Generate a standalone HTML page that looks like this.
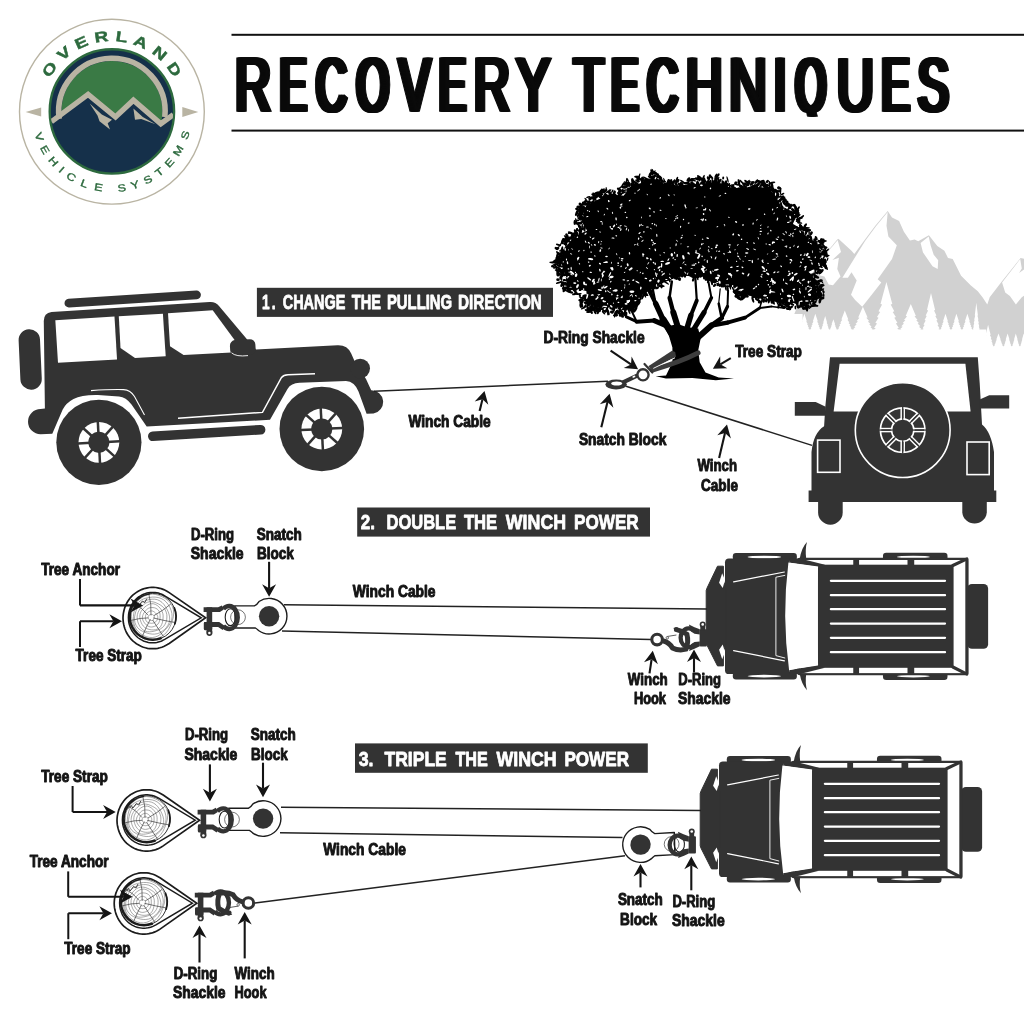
<!DOCTYPE html>
<html><head><meta charset="utf-8"><title>Recovery Techniques</title>
<style>
html,body{margin:0;padding:0;background:#fff;}
body{width:1024px;height:1024px;overflow:hidden;font-family:"Liberation Sans",sans-serif;}
svg{display:block;will-change:transform;font-family:"Liberation Sans",sans-serif;}
</style></head><body>
<svg width="1024" height="1024" viewBox="0 0 1024 1024">
<rect width="1024" height="1024" fill="#fff"/>
<g id="logo">
<circle cx="111.9" cy="111.7" r="92.4" fill="#fff" stroke="#b9b4a3" stroke-width="1.4"/>
<circle cx="111.9" cy="111.4" r="62.2" fill="#15304a" stroke="#2d6a3e" stroke-width="2.4"/>
<clipPath id="discclip"><circle cx="111.9" cy="111.4" r="61.3"/></clipPath>
<clipPath id="domeclip"><circle cx="111.9" cy="111.4" r="50.5"/></clipPath>
<polygon points="51.4,121.7 88.1,94.4 115.5,117.0 133.4,100.2 160.8,123.7 173.3,114.7 181.9,41.400000000000006 41.900000000000006,41.400000000000006" fill="#3a7a45" clip-path="url(#domeclip)"/>
<path d="M59.2,118.8 A53.2,53.2 0 1 1 164.8,117.0" fill="none" stroke="#b9b4a3" stroke-width="5.6"/>
<polyline points="51.4,121.7 88.1,94.4 115.5,117.0 133.4,100.2 160.8,123.7 173.3,114.7" fill="none" stroke="#b9b4a3" stroke-width="5.4" stroke-linejoin="miter" clip-path="url(#discclip)"/>
<polygon points="89.7,103.4 101.8,114.5 112.0,119.8 107.7,123.3 110.0,129.5 99.5,121.3 97.5,115.5" fill="#b9b4a3"/>
<polygon points="133.4,108.6 142.8,117.0 155.5,124.3 141.2,119.0 135.0,119.8" fill="#b9b4a3"/>
<polygon points="25.6,112.0 41.2,107.5 41.2,116.6" fill="#b9b4a3"/>
<polygon points="198.3,112.0 182.3,107.1 182.3,117.0" fill="#b9b4a3"/>
<text transform="translate(53.70,72.14) rotate(-56) scale(1.3,1)" font-size="14.6" font-weight="bold" fill="#2d6a3e" stroke="#2d6a3e" stroke-width="0.45" text-anchor="middle">O</text>
<text transform="translate(67.25,57.23) rotate(-39.5) scale(1.3,1)" font-size="14.6" font-weight="bold" fill="#2d6a3e" stroke="#2d6a3e" stroke-width="0.45" text-anchor="middle">V</text>
<text transform="translate(83.35,47.27) rotate(-24) scale(1.3,1)" font-size="14.6" font-weight="bold" fill="#2d6a3e" stroke="#2d6a3e" stroke-width="0.45" text-anchor="middle">E</text>
<text transform="translate(102.13,41.88) rotate(-8) scale(1.3,1)" font-size="14.6" font-weight="bold" fill="#2d6a3e" stroke="#2d6a3e" stroke-width="0.45" text-anchor="middle">R</text>
<text transform="translate(121.06,41.80) rotate(7.5) scale(1.3,1)" font-size="14.6" font-weight="bold" fill="#2d6a3e" stroke="#2d6a3e" stroke-width="0.45" text-anchor="middle">L</text>
<text transform="translate(138.76,46.54) rotate(22.5) scale(1.3,1)" font-size="14.6" font-weight="bold" fill="#2d6a3e" stroke="#2d6a3e" stroke-width="0.45" text-anchor="middle">A</text>
<text transform="translate(156.55,57.23) rotate(39.5) scale(1.3,1)" font-size="14.6" font-weight="bold" fill="#2d6a3e" stroke="#2d6a3e" stroke-width="0.45" text-anchor="middle">N</text>
<text transform="translate(170.10,72.14) rotate(56) scale(1.3,1)" font-size="14.6" font-weight="bold" fill="#2d6a3e" stroke="#2d6a3e" stroke-width="0.45" text-anchor="middle">D</text>
<text transform="translate(35.83,138.04) rotate(70.7) scale(1.25,1)" font-size="10.2" font-weight="normal" stroke="#2d6a3e" stroke-width="0.35" fill="#2d6a3e" text-anchor="middle">V</text>
<text transform="translate(41.89,151.33) rotate(60.3) scale(1.25,1)" font-size="10.2" font-weight="normal" stroke="#2d6a3e" stroke-width="0.35" fill="#2d6a3e" text-anchor="middle">E</text>
<text transform="translate(50.61,163.75) rotate(49.5) scale(1.25,1)" font-size="10.2" font-weight="normal" stroke="#2d6a3e" stroke-width="0.35" fill="#2d6a3e" text-anchor="middle">H</text>
<text transform="translate(59.23,172.41) rotate(40.8) scale(1.25,1)" font-size="10.2" font-weight="normal" stroke="#2d6a3e" stroke-width="0.35" fill="#2d6a3e" text-anchor="middle">I</text>
<text transform="translate(69.31,179.83) rotate(31.9) scale(1.25,1)" font-size="10.2" font-weight="normal" stroke="#2d6a3e" stroke-width="0.35" fill="#2d6a3e" text-anchor="middle">C</text>
<text transform="translate(83.02,186.65) rotate(21.0) scale(1.25,1)" font-size="10.2" font-weight="normal" stroke="#2d6a3e" stroke-width="0.35" fill="#2d6a3e" text-anchor="middle">L</text>
<text transform="translate(97.90,190.78) rotate(10.0) scale(1.25,1)" font-size="10.2" font-weight="normal" stroke="#2d6a3e" stroke-width="0.35" fill="#2d6a3e" text-anchor="middle">E</text>
<text transform="translate(122.28,191.33) rotate(-7.4) scale(1.25,1)" font-size="10.2" font-weight="normal" stroke="#2d6a3e" stroke-width="0.35" fill="#2d6a3e" text-anchor="middle">S</text>
<text transform="translate(136.00,188.31) rotate(-17.4) scale(1.25,1)" font-size="10.2" font-weight="normal" stroke="#2d6a3e" stroke-width="0.35" fill="#2d6a3e" text-anchor="middle">Y</text>
<text transform="translate(149.49,182.70) rotate(-27.8) scale(1.25,1)" font-size="10.2" font-weight="normal" stroke="#2d6a3e" stroke-width="0.35" fill="#2d6a3e" text-anchor="middle">S</text>
<text transform="translate(161.63,174.83) rotate(-38.1) scale(1.25,1)" font-size="10.2" font-weight="normal" stroke="#2d6a3e" stroke-width="0.35" fill="#2d6a3e" text-anchor="middle">T</text>
<text transform="translate(172.08,165.02) rotate(-48.3) scale(1.25,1)" font-size="10.2" font-weight="normal" stroke="#2d6a3e" stroke-width="0.35" fill="#2d6a3e" text-anchor="middle">E</text>
<text transform="translate(181.28,152.43) rotate(-59.4) scale(1.25,1)" font-size="10.2" font-weight="normal" stroke="#2d6a3e" stroke-width="0.35" fill="#2d6a3e" text-anchor="middle">M</text>
<text transform="translate(188.56,136.31) rotate(-72.0) scale(1.25,1)" font-size="10.2" font-weight="normal" stroke="#2d6a3e" stroke-width="0.35" fill="#2d6a3e" text-anchor="middle">S</text>
</g>
<rect x="231.5" y="33.8" width="800" height="2" fill="#111"/>
<rect x="231.5" y="129.6" width="800" height="2" fill="#111"/>
<clipPath id="titleclip"><rect x="220" y="40" width="804" height="76.5"/></clipPath>
<g id="title" clip-path="url(#titleclip)"><text transform="translate(232.75,111.00) scale(0.6525,1)" font-size="76.16" font-weight="normal" fill="#0a0a0a" stroke="#0a0a0a" stroke-width="1.6" stroke-linejoin="miter">R</text><text transform="translate(233.68,111.00) scale(0.6525,1)" font-size="76.16" font-weight="normal" fill="#0a0a0a" stroke="#0a0a0a" stroke-width="1.6" stroke-linejoin="miter">R</text><text transform="translate(234.62,111.00) scale(0.6525,1)" font-size="76.16" font-weight="normal" fill="#0a0a0a" stroke="#0a0a0a" stroke-width="1.6" stroke-linejoin="miter">R</text><text transform="translate(235.56,111.00) scale(0.6525,1)" font-size="76.16" font-weight="normal" fill="#0a0a0a" stroke="#0a0a0a" stroke-width="1.6" stroke-linejoin="miter">R</text><text transform="translate(236.49,111.00) scale(0.6525,1)" font-size="76.16" font-weight="normal" fill="#0a0a0a" stroke="#0a0a0a" stroke-width="1.6" stroke-linejoin="miter">R</text><text transform="translate(237.43,111.00) scale(0.6525,1)" font-size="76.16" font-weight="normal" fill="#0a0a0a" stroke="#0a0a0a" stroke-width="1.6" stroke-linejoin="miter">R</text><text transform="translate(276.96,111.00) scale(0.5217,1)" font-size="76.16" font-weight="normal" fill="#0a0a0a" stroke="#0a0a0a" stroke-width="1.6" stroke-linejoin="miter">E</text><text transform="translate(277.93,111.00) scale(0.5217,1)" font-size="76.16" font-weight="normal" fill="#0a0a0a" stroke="#0a0a0a" stroke-width="1.6" stroke-linejoin="miter">E</text><text transform="translate(278.90,111.00) scale(0.5217,1)" font-size="76.16" font-weight="normal" fill="#0a0a0a" stroke="#0a0a0a" stroke-width="1.6" stroke-linejoin="miter">E</text><text transform="translate(279.87,111.00) scale(0.5217,1)" font-size="76.16" font-weight="normal" fill="#0a0a0a" stroke="#0a0a0a" stroke-width="1.6" stroke-linejoin="miter">E</text><text transform="translate(280.85,111.00) scale(0.5217,1)" font-size="76.16" font-weight="normal" fill="#0a0a0a" stroke="#0a0a0a" stroke-width="1.6" stroke-linejoin="miter">E</text><text transform="translate(281.82,111.00) scale(0.5217,1)" font-size="76.16" font-weight="normal" fill="#0a0a0a" stroke="#0a0a0a" stroke-width="1.6" stroke-linejoin="miter">E</text><text transform="translate(282.79,111.00) scale(0.5217,1)" font-size="76.16" font-weight="normal" fill="#0a0a0a" stroke="#0a0a0a" stroke-width="1.6" stroke-linejoin="miter">E</text><text transform="translate(313.29,111.00) scale(0.5554,1)" font-size="76.16" font-weight="normal" fill="#0a0a0a" stroke="#0a0a0a" stroke-width="1.6" stroke-linejoin="miter">C</text><text transform="translate(314.21,111.00) scale(0.5554,1)" font-size="76.16" font-weight="normal" fill="#0a0a0a" stroke="#0a0a0a" stroke-width="1.6" stroke-linejoin="miter">C</text><text transform="translate(315.13,111.00) scale(0.5554,1)" font-size="76.16" font-weight="normal" fill="#0a0a0a" stroke="#0a0a0a" stroke-width="1.6" stroke-linejoin="miter">C</text><text transform="translate(316.05,111.00) scale(0.5554,1)" font-size="76.16" font-weight="normal" fill="#0a0a0a" stroke="#0a0a0a" stroke-width="1.6" stroke-linejoin="miter">C</text><text transform="translate(316.98,111.00) scale(0.5554,1)" font-size="76.16" font-weight="normal" fill="#0a0a0a" stroke="#0a0a0a" stroke-width="1.6" stroke-linejoin="miter">C</text><text transform="translate(317.90,111.00) scale(0.5554,1)" font-size="76.16" font-weight="normal" fill="#0a0a0a" stroke="#0a0a0a" stroke-width="1.6" stroke-linejoin="miter">C</text><text transform="translate(318.82,111.00) scale(0.5554,1)" font-size="76.16" font-weight="normal" fill="#0a0a0a" stroke="#0a0a0a" stroke-width="1.6" stroke-linejoin="miter">C</text><text transform="translate(353.78,111.00) scale(0.5461,1)" font-size="76.16" font-weight="normal" fill="#0a0a0a" stroke="#0a0a0a" stroke-width="1.6" stroke-linejoin="miter">O</text><text transform="translate(354.72,111.00) scale(0.5461,1)" font-size="76.16" font-weight="normal" fill="#0a0a0a" stroke="#0a0a0a" stroke-width="1.6" stroke-linejoin="miter">O</text><text transform="translate(355.65,111.00) scale(0.5461,1)" font-size="76.16" font-weight="normal" fill="#0a0a0a" stroke="#0a0a0a" stroke-width="1.6" stroke-linejoin="miter">O</text><text transform="translate(356.59,111.00) scale(0.5461,1)" font-size="76.16" font-weight="normal" fill="#0a0a0a" stroke="#0a0a0a" stroke-width="1.6" stroke-linejoin="miter">O</text><text transform="translate(357.53,111.00) scale(0.5461,1)" font-size="76.16" font-weight="normal" fill="#0a0a0a" stroke="#0a0a0a" stroke-width="1.6" stroke-linejoin="miter">O</text><text transform="translate(358.46,111.00) scale(0.5461,1)" font-size="76.16" font-weight="normal" fill="#0a0a0a" stroke="#0a0a0a" stroke-width="1.6" stroke-linejoin="miter">O</text><text transform="translate(359.40,111.00) scale(0.5461,1)" font-size="76.16" font-weight="normal" fill="#0a0a0a" stroke="#0a0a0a" stroke-width="1.6" stroke-linejoin="miter">O</text><text transform="translate(396.56,111.00) scale(0.6180,1)" font-size="76.16" font-weight="normal" fill="#0a0a0a" stroke="#0a0a0a" stroke-width="1.6" stroke-linejoin="miter">V</text><text transform="translate(397.56,111.00) scale(0.6180,1)" font-size="76.16" font-weight="normal" fill="#0a0a0a" stroke="#0a0a0a" stroke-width="1.6" stroke-linejoin="miter">V</text><text transform="translate(398.55,111.00) scale(0.6180,1)" font-size="76.16" font-weight="normal" fill="#0a0a0a" stroke="#0a0a0a" stroke-width="1.6" stroke-linejoin="miter">V</text><text transform="translate(399.55,111.00) scale(0.6180,1)" font-size="76.16" font-weight="normal" fill="#0a0a0a" stroke="#0a0a0a" stroke-width="1.6" stroke-linejoin="miter">V</text><text transform="translate(400.55,111.00) scale(0.6180,1)" font-size="76.16" font-weight="normal" fill="#0a0a0a" stroke="#0a0a0a" stroke-width="1.6" stroke-linejoin="miter">V</text><text transform="translate(401.55,111.00) scale(0.6180,1)" font-size="76.16" font-weight="normal" fill="#0a0a0a" stroke="#0a0a0a" stroke-width="1.6" stroke-linejoin="miter">V</text><text transform="translate(436.16,111.00) scale(0.5217,1)" font-size="76.16" font-weight="normal" fill="#0a0a0a" stroke="#0a0a0a" stroke-width="1.6" stroke-linejoin="miter">E</text><text transform="translate(437.13,111.00) scale(0.5217,1)" font-size="76.16" font-weight="normal" fill="#0a0a0a" stroke="#0a0a0a" stroke-width="1.6" stroke-linejoin="miter">E</text><text transform="translate(438.10,111.00) scale(0.5217,1)" font-size="76.16" font-weight="normal" fill="#0a0a0a" stroke="#0a0a0a" stroke-width="1.6" stroke-linejoin="miter">E</text><text transform="translate(439.07,111.00) scale(0.5217,1)" font-size="76.16" font-weight="normal" fill="#0a0a0a" stroke="#0a0a0a" stroke-width="1.6" stroke-linejoin="miter">E</text><text transform="translate(440.05,111.00) scale(0.5217,1)" font-size="76.16" font-weight="normal" fill="#0a0a0a" stroke="#0a0a0a" stroke-width="1.6" stroke-linejoin="miter">E</text><text transform="translate(441.02,111.00) scale(0.5217,1)" font-size="76.16" font-weight="normal" fill="#0a0a0a" stroke="#0a0a0a" stroke-width="1.6" stroke-linejoin="miter">E</text><text transform="translate(441.99,111.00) scale(0.5217,1)" font-size="76.16" font-weight="normal" fill="#0a0a0a" stroke="#0a0a0a" stroke-width="1.6" stroke-linejoin="miter">E</text><text transform="translate(471.42,111.00) scale(0.6578,1)" font-size="76.16" font-weight="normal" fill="#0a0a0a" stroke="#0a0a0a" stroke-width="1.6" stroke-linejoin="miter">R</text><text transform="translate(472.35,111.00) scale(0.6578,1)" font-size="76.16" font-weight="normal" fill="#0a0a0a" stroke="#0a0a0a" stroke-width="1.6" stroke-linejoin="miter">R</text><text transform="translate(473.27,111.00) scale(0.6578,1)" font-size="76.16" font-weight="normal" fill="#0a0a0a" stroke="#0a0a0a" stroke-width="1.6" stroke-linejoin="miter">R</text><text transform="translate(474.20,111.00) scale(0.6578,1)" font-size="76.16" font-weight="normal" fill="#0a0a0a" stroke="#0a0a0a" stroke-width="1.6" stroke-linejoin="miter">R</text><text transform="translate(475.13,111.00) scale(0.6578,1)" font-size="76.16" font-weight="normal" fill="#0a0a0a" stroke="#0a0a0a" stroke-width="1.6" stroke-linejoin="miter">R</text><text transform="translate(476.06,111.00) scale(0.6578,1)" font-size="76.16" font-weight="normal" fill="#0a0a0a" stroke="#0a0a0a" stroke-width="1.6" stroke-linejoin="miter">R</text><text transform="translate(513.91,111.00) scale(0.6701,1)" font-size="76.16" font-weight="normal" fill="#0a0a0a" stroke="#0a0a0a" stroke-width="1.6" stroke-linejoin="miter">Y</text><text transform="translate(514.82,111.00) scale(0.6701,1)" font-size="76.16" font-weight="normal" fill="#0a0a0a" stroke="#0a0a0a" stroke-width="1.6" stroke-linejoin="miter">Y</text><text transform="translate(515.73,111.00) scale(0.6701,1)" font-size="76.16" font-weight="normal" fill="#0a0a0a" stroke="#0a0a0a" stroke-width="1.6" stroke-linejoin="miter">Y</text><text transform="translate(516.63,111.00) scale(0.6701,1)" font-size="76.16" font-weight="normal" fill="#0a0a0a" stroke="#0a0a0a" stroke-width="1.6" stroke-linejoin="miter">Y</text><text transform="translate(517.54,111.00) scale(0.6701,1)" font-size="76.16" font-weight="normal" fill="#0a0a0a" stroke="#0a0a0a" stroke-width="1.6" stroke-linejoin="miter">Y</text><text transform="translate(518.44,111.00) scale(0.6701,1)" font-size="76.16" font-weight="normal" fill="#0a0a0a" stroke="#0a0a0a" stroke-width="1.6" stroke-linejoin="miter">Y</text><text transform="translate(571.23,111.00) scale(0.6509,1)" font-size="76.16" font-weight="normal" fill="#0a0a0a" stroke="#0a0a0a" stroke-width="1.6" stroke-linejoin="miter">T</text><text transform="translate(572.17,111.00) scale(0.6509,1)" font-size="76.16" font-weight="normal" fill="#0a0a0a" stroke="#0a0a0a" stroke-width="1.6" stroke-linejoin="miter">T</text><text transform="translate(573.11,111.00) scale(0.6509,1)" font-size="76.16" font-weight="normal" fill="#0a0a0a" stroke="#0a0a0a" stroke-width="1.6" stroke-linejoin="miter">T</text><text transform="translate(574.05,111.00) scale(0.6509,1)" font-size="76.16" font-weight="normal" fill="#0a0a0a" stroke="#0a0a0a" stroke-width="1.6" stroke-linejoin="miter">T</text><text transform="translate(574.99,111.00) scale(0.6509,1)" font-size="76.16" font-weight="normal" fill="#0a0a0a" stroke="#0a0a0a" stroke-width="1.6" stroke-linejoin="miter">T</text><text transform="translate(575.93,111.00) scale(0.6509,1)" font-size="76.16" font-weight="normal" fill="#0a0a0a" stroke="#0a0a0a" stroke-width="1.6" stroke-linejoin="miter">T</text><text transform="translate(608.44,111.00) scale(0.5246,1)" font-size="76.16" font-weight="normal" fill="#0a0a0a" stroke="#0a0a0a" stroke-width="1.6" stroke-linejoin="miter">E</text><text transform="translate(609.41,111.00) scale(0.5246,1)" font-size="76.16" font-weight="normal" fill="#0a0a0a" stroke="#0a0a0a" stroke-width="1.6" stroke-linejoin="miter">E</text><text transform="translate(610.38,111.00) scale(0.5246,1)" font-size="76.16" font-weight="normal" fill="#0a0a0a" stroke="#0a0a0a" stroke-width="1.6" stroke-linejoin="miter">E</text><text transform="translate(611.35,111.00) scale(0.5246,1)" font-size="76.16" font-weight="normal" fill="#0a0a0a" stroke="#0a0a0a" stroke-width="1.6" stroke-linejoin="miter">E</text><text transform="translate(612.31,111.00) scale(0.5246,1)" font-size="76.16" font-weight="normal" fill="#0a0a0a" stroke="#0a0a0a" stroke-width="1.6" stroke-linejoin="miter">E</text><text transform="translate(613.28,111.00) scale(0.5246,1)" font-size="76.16" font-weight="normal" fill="#0a0a0a" stroke="#0a0a0a" stroke-width="1.6" stroke-linejoin="miter">E</text><text transform="translate(614.25,111.00) scale(0.5246,1)" font-size="76.16" font-weight="normal" fill="#0a0a0a" stroke="#0a0a0a" stroke-width="1.6" stroke-linejoin="miter">E</text><text transform="translate(644.39,111.00) scale(0.5554,1)" font-size="76.16" font-weight="normal" fill="#0a0a0a" stroke="#0a0a0a" stroke-width="1.6" stroke-linejoin="miter">C</text><text transform="translate(645.31,111.00) scale(0.5554,1)" font-size="76.16" font-weight="normal" fill="#0a0a0a" stroke="#0a0a0a" stroke-width="1.6" stroke-linejoin="miter">C</text><text transform="translate(646.23,111.00) scale(0.5554,1)" font-size="76.16" font-weight="normal" fill="#0a0a0a" stroke="#0a0a0a" stroke-width="1.6" stroke-linejoin="miter">C</text><text transform="translate(647.15,111.00) scale(0.5554,1)" font-size="76.16" font-weight="normal" fill="#0a0a0a" stroke="#0a0a0a" stroke-width="1.6" stroke-linejoin="miter">C</text><text transform="translate(648.08,111.00) scale(0.5554,1)" font-size="76.16" font-weight="normal" fill="#0a0a0a" stroke="#0a0a0a" stroke-width="1.6" stroke-linejoin="miter">C</text><text transform="translate(649.00,111.00) scale(0.5554,1)" font-size="76.16" font-weight="normal" fill="#0a0a0a" stroke="#0a0a0a" stroke-width="1.6" stroke-linejoin="miter">C</text><text transform="translate(649.92,111.00) scale(0.5554,1)" font-size="76.16" font-weight="normal" fill="#0a0a0a" stroke="#0a0a0a" stroke-width="1.6" stroke-linejoin="miter">C</text><text transform="translate(683.44,111.00) scale(0.6720,1)" font-size="76.16" font-weight="normal" fill="#0a0a0a" stroke="#0a0a0a" stroke-width="1.6" stroke-linejoin="miter">H</text><text transform="translate(684.34,111.00) scale(0.6720,1)" font-size="76.16" font-weight="normal" fill="#0a0a0a" stroke="#0a0a0a" stroke-width="1.6" stroke-linejoin="miter">H</text><text transform="translate(685.25,111.00) scale(0.6720,1)" font-size="76.16" font-weight="normal" fill="#0a0a0a" stroke="#0a0a0a" stroke-width="1.6" stroke-linejoin="miter">H</text><text transform="translate(686.15,111.00) scale(0.6720,1)" font-size="76.16" font-weight="normal" fill="#0a0a0a" stroke="#0a0a0a" stroke-width="1.6" stroke-linejoin="miter">H</text><text transform="translate(687.05,111.00) scale(0.6720,1)" font-size="76.16" font-weight="normal" fill="#0a0a0a" stroke="#0a0a0a" stroke-width="1.6" stroke-linejoin="miter">H</text><text transform="translate(687.95,111.00) scale(0.6720,1)" font-size="76.16" font-weight="normal" fill="#0a0a0a" stroke="#0a0a0a" stroke-width="1.6" stroke-linejoin="miter">H</text><text transform="translate(726.85,111.00) scale(0.6890,1)" font-size="76.16" font-weight="normal" fill="#0a0a0a" stroke="#0a0a0a" stroke-width="1.6" stroke-linejoin="miter">N</text><text transform="translate(727.72,111.00) scale(0.6890,1)" font-size="76.16" font-weight="normal" fill="#0a0a0a" stroke="#0a0a0a" stroke-width="1.6" stroke-linejoin="miter">N</text><text transform="translate(728.59,111.00) scale(0.6890,1)" font-size="76.16" font-weight="normal" fill="#0a0a0a" stroke="#0a0a0a" stroke-width="1.6" stroke-linejoin="miter">N</text><text transform="translate(729.47,111.00) scale(0.6890,1)" font-size="76.16" font-weight="normal" fill="#0a0a0a" stroke="#0a0a0a" stroke-width="1.6" stroke-linejoin="miter">N</text><text transform="translate(730.34,111.00) scale(0.6890,1)" font-size="76.16" font-weight="normal" fill="#0a0a0a" stroke="#0a0a0a" stroke-width="1.6" stroke-linejoin="miter">N</text><text transform="translate(731.21,111.00) scale(0.6890,1)" font-size="76.16" font-weight="normal" fill="#0a0a0a" stroke="#0a0a0a" stroke-width="1.6" stroke-linejoin="miter">N</text><text transform="translate(771.42,111.00) scale(0.5600,1)" font-size="76.16" font-weight="normal" fill="#0a0a0a" stroke="#0a0a0a" stroke-width="1.6" stroke-linejoin="miter">I</text><text transform="translate(772.32,111.00) scale(0.5600,1)" font-size="76.16" font-weight="normal" fill="#0a0a0a" stroke="#0a0a0a" stroke-width="1.6" stroke-linejoin="miter">I</text><text transform="translate(773.22,111.00) scale(0.5600,1)" font-size="76.16" font-weight="normal" fill="#0a0a0a" stroke="#0a0a0a" stroke-width="1.6" stroke-linejoin="miter">I</text><text transform="translate(774.12,111.00) scale(0.5600,1)" font-size="76.16" font-weight="normal" fill="#0a0a0a" stroke="#0a0a0a" stroke-width="1.6" stroke-linejoin="miter">I</text><text transform="translate(775.02,111.00) scale(0.5600,1)" font-size="76.16" font-weight="normal" fill="#0a0a0a" stroke="#0a0a0a" stroke-width="1.6" stroke-linejoin="miter">I</text><text transform="translate(775.92,111.00) scale(0.5600,1)" font-size="76.16" font-weight="normal" fill="#0a0a0a" stroke="#0a0a0a" stroke-width="1.6" stroke-linejoin="miter">I</text><text transform="translate(776.82,111.00) scale(0.5600,1)" font-size="76.16" font-weight="normal" fill="#0a0a0a" stroke="#0a0a0a" stroke-width="1.6" stroke-linejoin="miter">I</text><text transform="translate(792.79,111.00) scale(0.5082,1)" font-size="76.16" font-weight="normal" fill="#0a0a0a" stroke="#0a0a0a" stroke-width="1.6" stroke-linejoin="miter">Q</text><text transform="translate(793.78,111.00) scale(0.5082,1)" font-size="76.16" font-weight="normal" fill="#0a0a0a" stroke="#0a0a0a" stroke-width="1.6" stroke-linejoin="miter">Q</text><text transform="translate(794.77,111.00) scale(0.5082,1)" font-size="76.16" font-weight="normal" fill="#0a0a0a" stroke="#0a0a0a" stroke-width="1.6" stroke-linejoin="miter">Q</text><text transform="translate(795.76,111.00) scale(0.5082,1)" font-size="76.16" font-weight="normal" fill="#0a0a0a" stroke="#0a0a0a" stroke-width="1.6" stroke-linejoin="miter">Q</text><text transform="translate(796.75,111.00) scale(0.5082,1)" font-size="76.16" font-weight="normal" fill="#0a0a0a" stroke="#0a0a0a" stroke-width="1.6" stroke-linejoin="miter">Q</text><text transform="translate(797.74,111.00) scale(0.5082,1)" font-size="76.16" font-weight="normal" fill="#0a0a0a" stroke="#0a0a0a" stroke-width="1.6" stroke-linejoin="miter">Q</text><text transform="translate(798.74,111.00) scale(0.5082,1)" font-size="76.16" font-weight="normal" fill="#0a0a0a" stroke="#0a0a0a" stroke-width="1.6" stroke-linejoin="miter">Q</text><text transform="translate(834.58,111.00) scale(0.6759,1)" font-size="76.16" font-weight="normal" fill="#0a0a0a" stroke="#0a0a0a" stroke-width="1.6" stroke-linejoin="miter">U</text><text transform="translate(835.47,111.00) scale(0.6759,1)" font-size="76.16" font-weight="normal" fill="#0a0a0a" stroke="#0a0a0a" stroke-width="1.6" stroke-linejoin="miter">U</text><text transform="translate(836.37,111.00) scale(0.6759,1)" font-size="76.16" font-weight="normal" fill="#0a0a0a" stroke="#0a0a0a" stroke-width="1.6" stroke-linejoin="miter">U</text><text transform="translate(837.26,111.00) scale(0.6759,1)" font-size="76.16" font-weight="normal" fill="#0a0a0a" stroke="#0a0a0a" stroke-width="1.6" stroke-linejoin="miter">U</text><text transform="translate(838.16,111.00) scale(0.6759,1)" font-size="76.16" font-weight="normal" fill="#0a0a0a" stroke="#0a0a0a" stroke-width="1.6" stroke-linejoin="miter">U</text><text transform="translate(839.06,111.00) scale(0.6759,1)" font-size="76.16" font-weight="normal" fill="#0a0a0a" stroke="#0a0a0a" stroke-width="1.6" stroke-linejoin="miter">U</text><text transform="translate(878.80,111.00) scale(0.5510,1)" font-size="76.16" font-weight="normal" fill="#0a0a0a" stroke="#0a0a0a" stroke-width="1.6" stroke-linejoin="miter">E</text><text transform="translate(879.73,111.00) scale(0.5510,1)" font-size="76.16" font-weight="normal" fill="#0a0a0a" stroke="#0a0a0a" stroke-width="1.6" stroke-linejoin="miter">E</text><text transform="translate(880.66,111.00) scale(0.5510,1)" font-size="76.16" font-weight="normal" fill="#0a0a0a" stroke="#0a0a0a" stroke-width="1.6" stroke-linejoin="miter">E</text><text transform="translate(881.59,111.00) scale(0.5510,1)" font-size="76.16" font-weight="normal" fill="#0a0a0a" stroke="#0a0a0a" stroke-width="1.6" stroke-linejoin="miter">E</text><text transform="translate(882.52,111.00) scale(0.5510,1)" font-size="76.16" font-weight="normal" fill="#0a0a0a" stroke="#0a0a0a" stroke-width="1.6" stroke-linejoin="miter">E</text><text transform="translate(883.44,111.00) scale(0.5510,1)" font-size="76.16" font-weight="normal" fill="#0a0a0a" stroke="#0a0a0a" stroke-width="1.6" stroke-linejoin="miter">E</text><text transform="translate(884.37,111.00) scale(0.5510,1)" font-size="76.16" font-weight="normal" fill="#0a0a0a" stroke="#0a0a0a" stroke-width="1.6" stroke-linejoin="miter">E</text><text transform="translate(915.36,111.00) scale(0.6060,1)" font-size="76.16" font-weight="normal" fill="#0a0a0a" stroke="#0a0a0a" stroke-width="1.6" stroke-linejoin="miter">S</text><text transform="translate(916.21,111.00) scale(0.6060,1)" font-size="76.16" font-weight="normal" fill="#0a0a0a" stroke="#0a0a0a" stroke-width="1.6" stroke-linejoin="miter">S</text><text transform="translate(917.06,111.00) scale(0.6060,1)" font-size="76.16" font-weight="normal" fill="#0a0a0a" stroke="#0a0a0a" stroke-width="1.6" stroke-linejoin="miter">S</text><text transform="translate(917.91,111.00) scale(0.6060,1)" font-size="76.16" font-weight="normal" fill="#0a0a0a" stroke="#0a0a0a" stroke-width="1.6" stroke-linejoin="miter">S</text><text transform="translate(918.76,111.00) scale(0.6060,1)" font-size="76.16" font-weight="normal" fill="#0a0a0a" stroke="#0a0a0a" stroke-width="1.6" stroke-linejoin="miter">S</text><text transform="translate(919.61,111.00) scale(0.6060,1)" font-size="76.16" font-weight="normal" fill="#0a0a0a" stroke="#0a0a0a" stroke-width="1.6" stroke-linejoin="miter">S</text><text transform="translate(920.45,111.00) scale(0.6060,1)" font-size="76.16" font-weight="normal" fill="#0a0a0a" stroke="#0a0a0a" stroke-width="1.6" stroke-linejoin="miter">S</text></g>
<rect x="256.9" y="287.8" width="296.1" height="29.1" fill="#333333"/>
<text x="261.90" y="308.80" font-size="19.77" font-weight="bold" fill="#fff" stroke="#fff" stroke-width="0.8" stroke-linejoin="round" textLength="7.60" lengthAdjust="spacingAndGlyphs">1</text><text x="271.80" y="308.80" font-size="19.77" font-weight="bold" fill="#fff" stroke="#fff" stroke-width="0.8" stroke-linejoin="round" textLength="3.90" lengthAdjust="spacingAndGlyphs">.</text><text x="282.70" y="308.80" font-size="19.77" font-weight="bold" fill="#fff" stroke="#fff" stroke-width="0.8" stroke-linejoin="round" textLength="62.70" lengthAdjust="spacingAndGlyphs">CHANGE</text><text x="351.80" y="308.80" font-size="19.77" font-weight="bold" fill="#fff" stroke="#fff" stroke-width="0.8" stroke-linejoin="round" textLength="29.10" lengthAdjust="spacingAndGlyphs">THE</text><text x="386.90" y="308.80" font-size="19.77" font-weight="bold" fill="#fff" stroke="#fff" stroke-width="0.8" stroke-linejoin="round" textLength="65.30" lengthAdjust="spacingAndGlyphs">PULLING</text><text x="458.10" y="308.80" font-size="19.77" font-weight="bold" fill="#fff" stroke="#fff" stroke-width="0.8" stroke-linejoin="round" textLength="83.70" lengthAdjust="spacingAndGlyphs">DIRECTION</text>
<g id="mountains">
<polygon points="794.3,313.9 806.2,285.3 813.4,271.0 827.7,253.1 838.4,238.8 851.5,250.8 854.3,253.9 864.6,240.0 875.3,225.7 887.7,211.0 892.0,217.4 899.1,221.0 903.9,231.7 909.9,240.5 914.6,239.6 918.2,241.2 928.9,235.3 937.3,246.0 944.4,250.8 948.0,257.9 952.7,259.1 961.1,275.8 970.6,285.3 977.8,291.3 982.5,297.2 987.3,304.4 989.7,297.2 1001.6,281.7 1020.6,257.9 1025.4,259.1 1025.4,346.3 986.8,346.3 986.1,329.6 802.6,329.6 802.6,313.9 794.3,313.9" fill="#d1d1d1"/>
<polygon points="887.7,211.9 886.5,225.7 888.4,236.5 896.8,245.3 892.0,259.1 877.7,279.3 881.3,282.4 871.7,294.8 862.2,306.8 855.1,300.1 851.0,294.8 856.7,280.5 851.5,272.2 847.9,277.7 842.4,277.7 865.1,241.0 875.8,226.5" fill="#fff"/>
<polygon points="837.6,240.0 841.0,251.9 832.4,259.9 838.9,257.8 837.3,269.0 840.5,276.6 833.0,285.2 828.7,284.6 824.4,276.6 820.1,275.5 814.7,271.2 810.4,271.4 811.1,267.4 827.4,251.9" fill="#fff"/>
<polyline points="837.9,239.2 832.4,245.9 827.1,252.1 822.2,260.4 816.9,268.0" fill="none" stroke="#d1d1d1" stroke-width="0.8"/>
<polygon points="928.7,236.5 920.6,242.9 923.0,252.4 932.5,266.2 937.7,269.1 938.2,260.3 933.7,254.8 930.6,245.3" fill="#fff"/>
<polygon points="1020.2,259.1 1002.1,282.4 1005.2,292.5 1009.9,296.0 1015.9,304.4 1021.8,297.2 1025.4,294.8 1025.4,268.6 1018.3,273.4 1015.9,278.2 1021.8,268.6" fill="#fff"/>
<polygon points="815.3,313.8 817.8,321.3 817.1,321.6 818.6,323.9 817.9,324.1 819.3,325.9 818.6,326.1 819.9,327.9 819.3,328.2 820.5,329.6 819.8,329.8 820.8,330.6 809.8,330.6 810.8,329.8 810.2,329.6 811.4,328.2 810.7,327.9 812.0,326.1 811.4,325.9 812.7,324.1 812.0,323.9 813.5,321.6 812.9,321.3" fill="#fff"/>
<polygon points="825.2,315.9 827.1,322.5 826.6,322.8 827.8,324.7 827.3,325.0 828.3,326.5 827.8,326.7 828.8,328.3 828.3,328.5 829.3,329.7 828.7,329.9 829.5,330.6 820.8,330.6 821.6,329.9 821.0,329.7 822.0,328.5 821.5,328.3 822.5,326.7 822.0,326.5 823.1,325.0 822.5,324.7 823.7,322.8 823.2,322.5" fill="#fff"/>
<polygon points="833.4,319.2 835.1,324.3 834.6,324.5 835.7,326.0 835.2,326.2 836.1,327.4 835.7,327.6 836.6,328.8 836.1,329.0 837.0,329.9 836.5,330.1 837.2,330.6 829.5,330.6 830.2,330.1 829.8,329.9 830.6,329.0 830.1,328.8 831.1,327.6 830.6,327.4 831.5,326.2 831.1,326.0 832.1,324.5 831.6,324.3" fill="#fff"/>
<polygon points="844.8,310.5 848.3,319.5 847.4,319.8 849.4,322.5 848.5,322.9 850.4,325.0 849.4,325.3 851.3,327.4 850.4,327.7 852.0,329.4 851.1,329.7 852.5,330.6 837.2,330.6 838.6,329.7 837.7,329.4 839.3,327.7 838.4,327.4 840.3,325.3 839.3,325.0 841.2,322.9 840.3,322.5 842.3,319.8 841.4,319.5" fill="#fff"/>
<polygon points="862.9,306.8 867.6,317.5 866.3,317.8 869.1,321.1 867.9,321.4 870.4,323.9 869.1,324.3 871.6,326.8 870.4,327.1 872.7,329.2 871.4,329.5 873.3,330.6 852.5,330.6 854.4,329.5 853.1,329.2 855.4,327.1 854.2,326.8 856.7,324.3 855.4,323.9 857.9,321.4 856.7,321.1 859.5,317.8 858.2,317.5" fill="#fff"/>
<polygon points="886.4,282.0 892.3,303.9 890.7,304.6 894.3,311.2 892.7,311.9 895.9,317.0 894.3,317.7 897.4,322.8 895.9,323.6 898.8,327.7 897.2,328.4 899.5,330.6 873.3,330.6 875.7,328.4 874.1,327.7 877.0,323.6 875.4,322.8 878.5,317.7 877.0,317.0 880.1,311.9 878.5,311.2 882.1,304.6 880.5,303.9" fill="#fff"/>
<polygon points="910.8,303.9 915.9,315.9 914.5,316.3 917.6,319.9 916.2,320.3 918.9,323.1 917.6,323.5 920.3,326.3 918.9,326.7 921.4,329.0 920.0,329.4 922.1,330.6 899.5,330.6 901.6,329.4 900.2,329.0 902.7,326.7 901.3,326.3 904.0,323.5 902.7,323.1 905.4,320.3 904.0,319.9 907.1,316.3 905.7,315.9" fill="#fff"/>
<polygon points="931.0,293.0 935.1,309.9 934.0,310.5 936.4,315.5 935.3,316.1 937.5,320.1 936.4,320.6 938.6,324.6 937.5,325.1 939.5,328.3 938.4,328.9 940.0,330.6 922.1,330.6 923.7,328.9 922.6,328.3 924.6,325.1 923.5,324.6 925.7,320.6 924.6,320.1 926.7,316.1 925.7,315.5 928.1,310.5 927.0,309.9" fill="#fff"/>
<polygon points="945.5,313.8 947.9,321.3 947.3,321.6 948.8,323.9 948.1,324.1 949.4,325.9 948.8,326.1 950.1,327.9 949.4,328.2 950.6,329.6 950.0,329.8 951.0,330.6 940.0,330.6 941.0,329.8 940.3,329.6 941.5,328.2 940.9,327.9 942.2,326.1 941.5,325.9 942.9,324.1 942.2,323.9 943.7,321.6 943.0,321.3" fill="#fff"/>
<polygon points="956.4,313.8 958.9,321.3 958.2,321.6 959.7,323.9 959.0,324.1 960.4,325.9 959.7,326.1 961.0,327.9 960.4,328.2 961.6,329.6 960.9,329.8 961.9,330.6 951.0,330.6 951.9,329.8 951.3,329.6 952.5,328.2 951.8,327.9 953.1,326.1 952.5,325.9 953.8,324.1 953.1,323.9 954.6,321.6 954.0,321.3" fill="#fff"/>
<polygon points="967.4,313.8 969.8,321.3 969.2,321.6 970.6,323.9 970.0,324.1 971.3,325.9 970.6,326.1 972.0,327.9 971.3,328.2 972.5,329.6 971.8,329.8 972.8,330.6 961.9,330.6 962.9,329.8 962.2,329.6 963.4,328.2 962.8,327.9 964.1,326.1 963.4,325.9 964.7,324.1 964.1,323.9 965.6,321.6 964.9,321.3" fill="#fff"/>
<polygon points="976.3,302.8 977.9,315.3 977.5,315.7 978.4,319.5 978.0,319.9 978.8,322.8 978.4,323.2 979.3,326.2 978.8,326.6 979.6,328.9 979.2,329.3 979.8,330.6 972.8,330.6 973.5,329.3 973.0,328.9 973.8,326.6 973.4,326.2 974.2,323.2 973.8,322.8 974.6,319.9 974.2,319.5 975.2,315.7 974.8,315.3" fill="#fff"/>
<polygon points="804.4,313.8 806.8,321.3 806.2,321.6 807.7,323.9 807.0,324.1 808.3,325.9 807.7,326.1 809.0,327.9 808.3,328.2 809.5,329.6 808.9,329.8 809.8,330.6 798.9,330.6 799.9,329.8 799.2,329.6 800.4,328.2 799.8,327.9 801.1,326.1 800.4,325.9 801.8,324.1 801.1,323.9 802.6,321.6 801.9,321.3" fill="#fff"/>
<polygon points="998.5,333.4 1000.7,339.5 1000.2,339.7 1001.5,341.6 1000.9,341.8 1002.1,343.2 1001.5,343.4 1002.7,344.8 1002.1,345.0 1003.2,346.2 1002.6,346.4 1003.5,347.0 993.6,347.0 994.5,346.4 993.9,346.2 995.0,345.0 994.4,344.8 995.6,343.4 995.0,343.2 996.2,341.8 995.6,341.6 996.9,339.7 996.3,339.5" fill="#fff"/>
<polygon points="1007.6,333.4 1009.5,339.5 1009.0,339.7 1010.1,341.6 1009.6,341.8 1010.6,343.2 1010.1,343.4 1011.1,344.8 1010.6,345.0 1011.5,346.2 1011.0,346.4 1011.8,347.0 1003.5,347.0 1004.2,346.4 1003.7,346.2 1004.6,345.0 1004.1,344.8 1005.1,343.4 1004.6,343.2 1005.6,341.8 1005.1,341.6 1006.2,339.7 1005.7,339.5" fill="#fff"/>
<polygon points="1015.8,333.4 1017.6,339.5 1017.2,339.7 1018.2,341.6 1017.8,341.8 1018.7,343.2 1018.2,343.4 1019.2,344.8 1018.7,345.0 1019.6,346.2 1019.1,346.4 1019.9,347.0 1011.8,347.0 1012.5,346.4 1012.0,346.2 1012.9,345.0 1012.4,344.8 1013.4,343.4 1012.9,343.2 1013.9,341.8 1013.4,341.6 1014.5,339.7 1014.0,339.5" fill="#fff"/>
<polygon points="1023.7,333.4 1025.4,339.5 1025.0,339.7 1026.0,341.6 1025.5,341.8 1026.4,343.2 1026.0,343.4 1026.9,344.8 1026.4,345.0 1027.3,346.2 1026.8,346.4 1027.5,347.0 1019.9,347.0 1020.6,346.4 1020.1,346.2 1020.9,345.0 1020.5,344.8 1021.4,343.4 1020.9,343.2 1021.9,341.8 1021.4,341.6 1022.4,339.7 1022.0,339.5" fill="#fff"/>
<polygon points="988.1,324.7 990.6,334.7 989.9,335.1 991.4,338.1 990.8,338.4 992.1,340.8 991.4,341.1 992.7,343.4 992.1,343.8 993.3,345.7 992.6,346.0 993.6,347.0 982.7,347.0 983.7,346.0 983.0,345.7 984.2,343.8 983.5,343.4 984.9,341.1 984.2,340.8 985.5,338.4 984.9,338.1 986.3,335.1 985.7,334.7" fill="#fff"/>
</g>
<g id="jeepside">
<path d="M43.8,322 Q43.3,313 51.5,312 L209.5,302.1 Q215.5,301.6 219,306 L252,345.2 L256,349.4 L337.5,345.2 Q347.5,344.8 351.2,353.5 L354.5,361 L366,379 L371.2,390.2 A11.8,11.8 0 0 1 373.5,413.6 L366.6,413.8 L358.5,391.5 Q354.5,381.5 346,381 L299.5,382.8 Q291,383 287.5,389 L270,419.8 L146.7,426.6 L131.5,404.5 Q126,397 119,396.4 L97.9,395 Q82,394.6 73.5,399 Q66,403 62.7,409.5 L52.3,433.8 L40.6,434.3 A12.6,12.6 0 0 1 40.6,409.1 L44.9,408.6 Z" fill="#333333"/>
<circle cx="360.2" cy="368.5" r="9.8" fill="#333333"/>
<polygon points="55.3,320.2 114.5,316.6 117,359.6 58,362.7" fill="#fff"/>
<polygon points="118.8,316.3 162.9,313.7 165.7,356.3 135,357.9 120.5,347.9" fill="#fff"/>
<polygon points="168,313.2 212.7,310.3 234.6,340 231.5,352.6 183.6,354.9 170,346.2" fill="#fff"/>
<rect x="230" y="339.7" width="25.5" height="15.6" rx="5.5" fill="#333333" transform="rotate(-3.4 242 347)"/>
<path d="M231.5,352.8 Q236,357 248,355.6" fill="none" stroke="#fff" stroke-width="0.9"/>
<line x1="68.8" y1="303.1" x2="196.6" y2="294.9" stroke="#333333" stroke-width="8.6" stroke-linecap="round"/>
<rect x="19.5" y="329.2" width="21.4" height="60.5" rx="10.7" fill="#333333" transform="rotate(-2.6 30 359.5)"/>
<line x1="152.8" y1="436.3" x2="260.6" y2="429.7" stroke="#333333" stroke-width="9.6" stroke-linecap="round"/>
<path d="M91,390.6 Q110,389.3 123.5,389.6 Q130.5,390 134.5,396.5 L144.5,415" fill="none" stroke="#fff" stroke-width="1.1"/>
<path d="M178,418.2 L262.5,412.4 L281.5,377.5 Q283.5,375 288,374.8 L315,373.7" fill="none" stroke="#fff" stroke-width="1.45"/>
<circle cx="98.9" cy="442.3" r="42.6" fill="#333333"/><circle cx="98.9" cy="442.3" r="20.4" fill="#fff"/><line x1="98.48" y1="434.31" x2="97.80" y2="421.33" stroke="#333333" stroke-width="2.5"/><line x1="104.25" y1="436.35" x2="112.95" y2="426.69" stroke="#333333" stroke-width="2.5"/><line x1="106.89" y1="441.88" x2="119.87" y2="441.20" stroke="#333333" stroke-width="2.5"/><line x1="104.85" y1="447.65" x2="114.51" y2="456.35" stroke="#333333" stroke-width="2.5"/><line x1="99.32" y1="450.29" x2="100.00" y2="463.27" stroke="#333333" stroke-width="2.5"/><line x1="93.55" y1="448.25" x2="84.85" y2="457.91" stroke="#333333" stroke-width="2.5"/><line x1="90.91" y1="442.72" x2="77.93" y2="443.40" stroke="#333333" stroke-width="2.5"/><line x1="92.95" y1="436.95" x2="83.29" y2="428.25" stroke="#333333" stroke-width="2.5"/><circle cx="98.9" cy="442.3" r="10.6" fill="#333333"/>
<circle cx="321.8" cy="429.0" r="42.3" fill="#333333"/><circle cx="321.8" cy="429.0" r="20.4" fill="#fff"/><line x1="321.38" y1="421.01" x2="320.70" y2="408.03" stroke="#333333" stroke-width="2.5"/><line x1="327.15" y1="423.05" x2="335.85" y2="413.39" stroke="#333333" stroke-width="2.5"/><line x1="329.79" y1="428.58" x2="342.77" y2="427.90" stroke="#333333" stroke-width="2.5"/><line x1="327.75" y1="434.35" x2="337.41" y2="443.05" stroke="#333333" stroke-width="2.5"/><line x1="322.22" y1="436.99" x2="322.90" y2="449.97" stroke="#333333" stroke-width="2.5"/><line x1="316.45" y1="434.95" x2="307.75" y2="444.61" stroke="#333333" stroke-width="2.5"/><line x1="313.81" y1="429.42" x2="300.83" y2="430.10" stroke="#333333" stroke-width="2.5"/><line x1="315.85" y1="423.65" x2="306.19" y2="414.95" stroke="#333333" stroke-width="2.5"/><circle cx="321.8" cy="429.0" r="10.6" fill="#333333"/>
</g>
<g id="tree">
<polygon points="561.7,257.9 567.8,245.9 576.1,236.4 588.5,231.1 583.7,223.0 585.1,212.1 594.0,202.7 609.2,195.3 624.3,196.7 631.2,187.2 647.7,181.9 656.0,178.5 662.8,184.5 678.0,186.6 691.8,185.2 706.4,184.5 714.6,183.2 722.8,185.2 731.1,189.2 751.8,187.9 766.9,188.6 773.8,194.7 779.3,206.8 791.7,212.1 794.4,217.6 791.7,224.3 798.6,228.3 805.4,239.1 816.5,243.1 819.3,255.3 817.8,266.0 806.9,271.5 813.7,279.6 815.1,291.7 809.6,298.4 800.0,304.5 791.7,301.1 780.6,303.1 768.3,295.8 757.3,297.0 744.9,293.0 735.2,293.0 731.1,283.6 718.8,283.6 710.5,279.6 703.5,275.5 694.0,276.9 685.7,274.1 673.5,277.5 662.2,282.1 650.4,289.0 642.3,293.0 636.7,306.5 622.9,309.2 611.9,306.5 595.4,306.5 588.5,299.8 587.2,290.3 571.9,286.3 567.8,278.2 563.8,268.8" fill="#000" stroke="#000" stroke-width="2" stroke-linejoin="round"/>
<g fill="#000"><ellipse cx="556.4" cy="260.0" rx="3.4" ry="1.1" transform="rotate(91 556.4 260.0)"/><ellipse cx="554.4" cy="261.1" rx="2.6" ry="1.2" transform="rotate(143 554.4 261.1)"/><ellipse cx="559.0" cy="262.7" rx="1.8" ry="1.3" transform="rotate(125 559.0 262.7)"/><ellipse cx="561.8" cy="258.3" rx="3.5" ry="1.2" transform="rotate(111 561.8 258.3)"/><ellipse cx="558.6" cy="262.1" rx="2.7" ry="0.7" transform="rotate(34 558.6 262.1)"/><ellipse cx="557.9" cy="261.7" rx="2.5" ry="1.1" transform="rotate(152 557.9 261.7)"/><ellipse cx="557.6" cy="256.1" rx="2.6" ry="1.2" transform="rotate(82 557.6 256.1)"/><ellipse cx="560.6" cy="255.5" rx="3.6" ry="1.4" transform="rotate(127 560.6 255.5)"/><ellipse cx="558.5" cy="258.8" rx="2.2" ry="0.8" transform="rotate(138 558.5 258.8)"/><ellipse cx="560.0" cy="254.0" rx="2.4" ry="1.5" transform="rotate(153 560.0 254.0)"/><ellipse cx="562.1" cy="258.6" rx="3.4" ry="1.1" transform="rotate(176 562.1 258.6)"/><ellipse cx="558.3" cy="257.5" rx="2.9" ry="1.3" transform="rotate(49 558.3 257.5)"/><ellipse cx="562.4" cy="256.1" rx="3.5" ry="1.3" transform="rotate(21 562.4 256.1)"/><ellipse cx="560.5" cy="256.4" rx="1.7" ry="1.3" transform="rotate(32 560.5 256.4)"/><ellipse cx="558.5" cy="253.5" rx="2.0" ry="1.3" transform="rotate(24 558.5 253.5)"/><ellipse cx="557.8" cy="253.0" rx="2.4" ry="0.9" transform="rotate(49 557.8 253.0)"/><ellipse cx="556.5" cy="248.5" rx="2.2" ry="1.4" transform="rotate(38 556.5 248.5)"/><ellipse cx="561.7" cy="250.8" rx="2.9" ry="0.8" transform="rotate(178 561.7 250.8)"/><ellipse cx="562.7" cy="252.6" rx="3.1" ry="1.0" transform="rotate(53 562.7 252.6)"/><ellipse cx="563.6" cy="253.9" rx="2.8" ry="0.9" transform="rotate(108 563.6 253.9)"/><ellipse cx="561.8" cy="251.0" rx="3.5" ry="1.1" transform="rotate(103 561.8 251.0)"/><ellipse cx="557.6" cy="248.4" rx="1.9" ry="1.4" transform="rotate(147 557.6 248.4)"/><ellipse cx="563.1" cy="251.1" rx="3.1" ry="1.5" transform="rotate(35 563.1 251.1)"/><ellipse cx="558.5" cy="244.9" rx="2.8" ry="1.0" transform="rotate(19 558.5 244.9)"/><ellipse cx="566.9" cy="248.8" rx="2.1" ry="1.3" transform="rotate(46 566.9 248.8)"/><ellipse cx="559.9" cy="245.2" rx="2.2" ry="0.8" transform="rotate(130 559.9 245.2)"/><ellipse cx="564.3" cy="251.4" rx="2.7" ry="1.4" transform="rotate(111 564.3 251.4)"/><ellipse cx="566.2" cy="246.0" rx="2.0" ry="0.7" transform="rotate(48 566.2 246.0)"/><ellipse cx="562.2" cy="248.2" rx="2.0" ry="1.0" transform="rotate(103 562.2 248.2)"/><ellipse cx="565.5" cy="249.0" rx="3.4" ry="1.5" transform="rotate(118 565.5 249.0)"/><ellipse cx="563.3" cy="243.1" rx="1.9" ry="0.7" transform="rotate(3 563.3 243.1)"/><ellipse cx="562.1" cy="241.3" rx="3.5" ry="0.7" transform="rotate(115 562.1 241.3)"/><ellipse cx="565.4" cy="243.9" rx="2.2" ry="1.5" transform="rotate(14 565.4 243.9)"/><ellipse cx="566.2" cy="242.0" rx="3.4" ry="1.3" transform="rotate(127 566.2 242.0)"/><ellipse cx="564.9" cy="239.8" rx="2.3" ry="1.2" transform="rotate(162 564.9 239.8)"/><ellipse cx="562.7" cy="241.2" rx="3.2" ry="1.4" transform="rotate(103 562.7 241.2)"/><ellipse cx="565.7" cy="241.4" rx="2.8" ry="1.2" transform="rotate(14 565.7 241.4)"/><ellipse cx="567.5" cy="239.0" rx="3.4" ry="1.3" transform="rotate(70 567.5 239.0)"/><ellipse cx="565.5" cy="239.9" rx="2.5" ry="1.4" transform="rotate(15 565.5 239.9)"/><ellipse cx="564.9" cy="240.5" rx="2.8" ry="1.1" transform="rotate(41 564.9 240.5)"/><ellipse cx="566.8" cy="239.0" rx="2.8" ry="1.4" transform="rotate(46 566.8 239.0)"/><ellipse cx="571.2" cy="244.1" rx="3.0" ry="0.9" transform="rotate(31 571.2 244.1)"/><ellipse cx="567.0" cy="235.6" rx="2.5" ry="1.4" transform="rotate(59 567.0 235.6)"/><ellipse cx="567.3" cy="238.9" rx="2.5" ry="1.3" transform="rotate(165 567.3 238.9)"/><ellipse cx="566.3" cy="236.8" rx="2.8" ry="1.0" transform="rotate(25 566.3 236.8)"/><ellipse cx="571.2" cy="237.5" rx="3.3" ry="1.3" transform="rotate(171 571.2 237.5)"/><ellipse cx="569.0" cy="240.8" rx="2.5" ry="0.9" transform="rotate(39 569.0 240.8)"/><ellipse cx="570.6" cy="238.7" rx="2.6" ry="1.0" transform="rotate(151 570.6 238.7)"/><ellipse cx="569.2" cy="233.2" rx="1.7" ry="0.7" transform="rotate(157 569.2 233.2)"/><ellipse cx="574.1" cy="241.1" rx="2.7" ry="0.9" transform="rotate(142 574.1 241.1)"/><ellipse cx="571.5" cy="242.5" rx="2.5" ry="0.7" transform="rotate(149 571.5 242.5)"/><ellipse cx="572.3" cy="239.8" rx="1.7" ry="1.2" transform="rotate(80 572.3 239.8)"/><ellipse cx="573.1" cy="235.2" rx="3.2" ry="1.5" transform="rotate(123 573.1 235.2)"/><ellipse cx="574.0" cy="239.4" rx="2.0" ry="0.7" transform="rotate(85 574.0 239.4)"/><ellipse cx="572.3" cy="234.7" rx="2.1" ry="1.0" transform="rotate(126 572.3 234.7)"/><ellipse cx="575.0" cy="235.5" rx="3.1" ry="1.0" transform="rotate(143 575.0 235.5)"/><ellipse cx="571.1" cy="233.1" rx="3.5" ry="1.3" transform="rotate(23 571.1 233.1)"/><ellipse cx="577.0" cy="235.4" rx="3.4" ry="1.0" transform="rotate(102 577.0 235.4)"/><ellipse cx="576.1" cy="231.2" rx="3.5" ry="1.1" transform="rotate(117 576.1 231.2)"/><ellipse cx="578.4" cy="237.4" rx="3.2" ry="1.2" transform="rotate(129 578.4 237.4)"/><ellipse cx="580.9" cy="236.3" rx="3.6" ry="1.5" transform="rotate(97 580.9 236.3)"/><ellipse cx="575.9" cy="232.3" rx="3.4" ry="1.4" transform="rotate(63 575.9 232.3)"/><ellipse cx="579.3" cy="238.4" rx="2.7" ry="1.3" transform="rotate(88 579.3 238.4)"/><ellipse cx="582.8" cy="237.4" rx="1.7" ry="1.3" transform="rotate(31 582.8 237.4)"/><ellipse cx="581.5" cy="234.7" rx="1.9" ry="0.8" transform="rotate(93 581.5 234.7)"/><ellipse cx="580.2" cy="231.1" rx="3.0" ry="1.5" transform="rotate(89 580.2 231.1)"/><ellipse cx="577.5" cy="229.9" rx="2.0" ry="1.1" transform="rotate(52 577.5 229.9)"/><ellipse cx="580.9" cy="230.7" rx="2.6" ry="1.4" transform="rotate(101 580.9 230.7)"/><ellipse cx="581.4" cy="235.0" rx="3.3" ry="1.4" transform="rotate(37 581.4 235.0)"/><ellipse cx="580.1" cy="227.6" rx="2.6" ry="1.2" transform="rotate(36 580.1 227.6)"/><ellipse cx="584.0" cy="228.1" rx="2.8" ry="0.7" transform="rotate(174 584.0 228.1)"/><ellipse cx="584.4" cy="228.5" rx="3.2" ry="1.2" transform="rotate(88 584.4 228.5)"/><ellipse cx="582.7" cy="229.0" rx="2.7" ry="1.0" transform="rotate(172 582.7 229.0)"/><ellipse cx="580.3" cy="229.3" rx="2.5" ry="0.8" transform="rotate(78 580.3 229.3)"/><ellipse cx="579.6" cy="226.0" rx="2.6" ry="1.0" transform="rotate(34 579.6 226.0)"/><ellipse cx="580.2" cy="223.2" rx="1.9" ry="1.3" transform="rotate(4 580.2 223.2)"/><ellipse cx="585.5" cy="224.1" rx="3.0" ry="1.0" transform="rotate(64 585.5 224.1)"/><ellipse cx="582.2" cy="226.7" rx="3.1" ry="0.8" transform="rotate(92 582.2 226.7)"/><ellipse cx="584.1" cy="222.7" rx="2.7" ry="1.0" transform="rotate(68 584.1 222.7)"/><ellipse cx="581.9" cy="222.1" rx="1.9" ry="0.9" transform="rotate(114 581.9 222.1)"/><ellipse cx="580.0" cy="223.2" rx="3.3" ry="1.2" transform="rotate(154 580.0 223.2)"/><ellipse cx="581.9" cy="218.6" rx="3.2" ry="1.4" transform="rotate(57 581.9 218.6)"/><ellipse cx="580.7" cy="218.2" rx="2.0" ry="1.5" transform="rotate(160 580.7 218.2)"/><ellipse cx="584.0" cy="220.2" rx="3.1" ry="0.9" transform="rotate(17 584.0 220.2)"/><ellipse cx="576.3" cy="221.1" rx="3.2" ry="0.8" transform="rotate(73 576.3 221.1)"/><ellipse cx="577.5" cy="223.3" rx="2.0" ry="1.2" transform="rotate(164 577.5 223.3)"/><ellipse cx="574.8" cy="222.4" rx="2.6" ry="1.3" transform="rotate(91 574.8 222.4)"/><ellipse cx="577.8" cy="220.4" rx="1.7" ry="0.8" transform="rotate(7 577.8 220.4)"/><ellipse cx="579.3" cy="219.0" rx="2.7" ry="0.8" transform="rotate(33 579.3 219.0)"/><ellipse cx="582.9" cy="217.8" rx="3.6" ry="1.4" transform="rotate(17 582.9 217.8)"/><ellipse cx="584.6" cy="215.5" rx="2.5" ry="1.3" transform="rotate(59 584.6 215.5)"/><ellipse cx="580.4" cy="217.1" rx="2.5" ry="1.2" transform="rotate(2 580.4 217.1)"/><ellipse cx="578.3" cy="215.2" rx="2.0" ry="1.1" transform="rotate(133 578.3 215.2)"/><ellipse cx="581.1" cy="216.8" rx="1.9" ry="1.1" transform="rotate(3 581.1 216.8)"/><ellipse cx="576.7" cy="213.2" rx="3.0" ry="1.4" transform="rotate(113 576.7 213.2)"/><ellipse cx="581.3" cy="214.8" rx="2.6" ry="1.5" transform="rotate(145 581.3 214.8)"/><ellipse cx="583.2" cy="211.5" rx="3.1" ry="1.3" transform="rotate(147 583.2 211.5)"/><ellipse cx="581.7" cy="211.4" rx="3.4" ry="1.3" transform="rotate(138 581.7 211.4)"/><ellipse cx="577.9" cy="213.4" rx="3.0" ry="0.8" transform="rotate(62 577.9 213.4)"/><ellipse cx="580.8" cy="213.7" rx="2.3" ry="1.2" transform="rotate(112 580.8 213.7)"/><ellipse cx="583.7" cy="209.4" rx="2.9" ry="1.0" transform="rotate(119 583.7 209.4)"/><ellipse cx="580.2" cy="211.0" rx="2.4" ry="1.5" transform="rotate(116 580.2 211.0)"/><ellipse cx="579.7" cy="208.7" rx="3.6" ry="0.7" transform="rotate(111 579.7 208.7)"/><ellipse cx="577.7" cy="210.3" rx="2.4" ry="0.7" transform="rotate(35 577.7 210.3)"/><ellipse cx="579.8" cy="213.3" rx="2.1" ry="1.4" transform="rotate(99 579.8 213.3)"/><ellipse cx="583.0" cy="208.0" rx="2.7" ry="1.5" transform="rotate(115 583.0 208.0)"/><ellipse cx="577.8" cy="209.2" rx="2.8" ry="1.3" transform="rotate(8 577.8 209.2)"/><ellipse cx="577.2" cy="208.1" rx="2.5" ry="0.8" transform="rotate(89 577.2 208.1)"/><ellipse cx="580.3" cy="209.3" rx="3.5" ry="1.0" transform="rotate(95 580.3 209.3)"/><ellipse cx="581.5" cy="208.3" rx="2.2" ry="1.2" transform="rotate(101 581.5 208.3)"/><ellipse cx="584.9" cy="209.1" rx="2.2" ry="0.7" transform="rotate(44 584.9 209.1)"/><ellipse cx="585.9" cy="211.5" rx="3.1" ry="1.0" transform="rotate(162 585.9 211.5)"/><ellipse cx="580.5" cy="207.2" rx="3.6" ry="1.5" transform="rotate(13 580.5 207.2)"/><ellipse cx="580.7" cy="204.7" rx="2.6" ry="1.5" transform="rotate(44 580.7 204.7)"/><ellipse cx="586.3" cy="204.2" rx="3.0" ry="1.1" transform="rotate(176 586.3 204.2)"/><ellipse cx="583.1" cy="203.4" rx="1.8" ry="1.2" transform="rotate(82 583.1 203.4)"/><ellipse cx="585.6" cy="209.5" rx="2.7" ry="0.8" transform="rotate(80 585.6 209.5)"/><ellipse cx="584.9" cy="203.7" rx="2.1" ry="1.2" transform="rotate(76 584.9 203.7)"/><ellipse cx="584.3" cy="202.7" rx="3.6" ry="1.5" transform="rotate(132 584.3 202.7)"/><ellipse cx="586.8" cy="207.8" rx="3.4" ry="1.3" transform="rotate(112 586.8 207.8)"/><ellipse cx="587.6" cy="205.1" rx="3.0" ry="1.2" transform="rotate(107 587.6 205.1)"/><ellipse cx="587.3" cy="201.5" rx="2.0" ry="0.9" transform="rotate(176 587.3 201.5)"/><ellipse cx="585.7" cy="199.2" rx="1.7" ry="0.7" transform="rotate(49 585.7 199.2)"/><ellipse cx="589.5" cy="202.1" rx="1.8" ry="1.1" transform="rotate(13 589.5 202.1)"/><ellipse cx="592.1" cy="204.2" rx="2.7" ry="1.2" transform="rotate(67 592.1 204.2)"/><ellipse cx="587.7" cy="203.3" rx="2.3" ry="1.3" transform="rotate(151 587.7 203.3)"/><ellipse cx="589.1" cy="206.1" rx="3.2" ry="1.2" transform="rotate(138 589.1 206.1)"/><ellipse cx="589.8" cy="204.2" rx="2.1" ry="1.3" transform="rotate(66 589.8 204.2)"/><ellipse cx="590.4" cy="199.0" rx="2.3" ry="1.1" transform="rotate(134 590.4 199.0)"/><ellipse cx="588.3" cy="197.1" rx="2.3" ry="0.8" transform="rotate(158 588.3 197.1)"/><ellipse cx="590.5" cy="205.3" rx="2.7" ry="1.1" transform="rotate(123 590.5 205.3)"/><ellipse cx="592.6" cy="201.8" rx="1.8" ry="0.9" transform="rotate(119 592.6 201.8)"/><ellipse cx="593.1" cy="204.0" rx="3.0" ry="1.3" transform="rotate(51 593.1 204.0)"/><ellipse cx="593.1" cy="203.3" rx="3.1" ry="1.0" transform="rotate(21 593.1 203.3)"/><ellipse cx="591.5" cy="197.9" rx="3.4" ry="1.5" transform="rotate(164 591.5 197.9)"/><ellipse cx="595.3" cy="198.9" rx="2.2" ry="1.0" transform="rotate(72 595.3 198.9)"/><ellipse cx="593.6" cy="194.3" rx="2.1" ry="1.0" transform="rotate(66 593.6 194.3)"/><ellipse cx="593.9" cy="200.5" rx="2.4" ry="0.9" transform="rotate(101 593.9 200.5)"/><ellipse cx="594.2" cy="195.5" rx="3.3" ry="1.2" transform="rotate(32 594.2 195.5)"/><ellipse cx="595.9" cy="195.1" rx="2.2" ry="0.7" transform="rotate(93 595.9 195.1)"/><ellipse cx="595.4" cy="197.7" rx="3.5" ry="1.2" transform="rotate(145 595.4 197.7)"/><ellipse cx="599.1" cy="201.1" rx="3.2" ry="0.8" transform="rotate(15 599.1 201.1)"/><ellipse cx="597.7" cy="194.4" rx="1.8" ry="1.2" transform="rotate(26 597.7 194.4)"/><ellipse cx="596.5" cy="194.9" rx="2.1" ry="0.9" transform="rotate(138 596.5 194.9)"/><ellipse cx="599.6" cy="195.8" rx="2.4" ry="1.0" transform="rotate(174 599.6 195.8)"/><ellipse cx="597.8" cy="195.1" rx="2.7" ry="1.3" transform="rotate(127 597.8 195.1)"/><ellipse cx="596.3" cy="193.2" rx="3.3" ry="1.2" transform="rotate(154 596.3 193.2)"/><ellipse cx="600.3" cy="192.4" rx="3.4" ry="1.5" transform="rotate(115 600.3 192.4)"/><ellipse cx="601.0" cy="195.1" rx="3.2" ry="1.0" transform="rotate(76 601.0 195.1)"/><ellipse cx="602.8" cy="198.4" rx="3.6" ry="1.0" transform="rotate(30 602.8 198.4)"/><ellipse cx="602.7" cy="197.7" rx="2.2" ry="1.5" transform="rotate(11 602.7 197.7)"/><ellipse cx="600.9" cy="197.5" rx="2.9" ry="1.3" transform="rotate(32 600.9 197.5)"/><ellipse cx="603.5" cy="198.9" rx="2.8" ry="1.4" transform="rotate(7 603.5 198.9)"/><ellipse cx="603.7" cy="198.3" rx="2.0" ry="0.9" transform="rotate(129 603.7 198.3)"/><ellipse cx="601.7" cy="194.0" rx="2.0" ry="0.9" transform="rotate(31 601.7 194.0)"/><ellipse cx="601.4" cy="192.3" rx="2.7" ry="1.4" transform="rotate(86 601.4 192.3)"/><ellipse cx="605.0" cy="196.2" rx="3.4" ry="1.0" transform="rotate(99 605.0 196.2)"/><ellipse cx="603.6" cy="189.2" rx="2.0" ry="0.7" transform="rotate(171 603.6 189.2)"/><ellipse cx="603.0" cy="190.7" rx="2.7" ry="1.1" transform="rotate(49 603.0 190.7)"/><ellipse cx="606.3" cy="189.1" rx="2.1" ry="0.7" transform="rotate(85 606.3 189.1)"/><ellipse cx="606.5" cy="195.2" rx="3.0" ry="1.2" transform="rotate(28 606.5 195.2)"/><ellipse cx="603.9" cy="197.1" rx="2.1" ry="1.4" transform="rotate(93 603.9 197.1)"/><ellipse cx="609.5" cy="192.9" rx="2.1" ry="1.1" transform="rotate(27 609.5 192.9)"/><ellipse cx="604.7" cy="191.2" rx="3.2" ry="1.4" transform="rotate(148 604.7 191.2)"/><ellipse cx="605.4" cy="198.0" rx="3.0" ry="0.8" transform="rotate(86 605.4 198.0)"/><ellipse cx="610.9" cy="194.7" rx="2.8" ry="1.4" transform="rotate(55 610.9 194.7)"/><ellipse cx="608.5" cy="191.3" rx="3.4" ry="0.8" transform="rotate(149 608.5 191.3)"/><ellipse cx="608.6" cy="197.1" rx="2.7" ry="0.8" transform="rotate(150 608.6 197.1)"/><ellipse cx="609.4" cy="196.1" rx="1.8" ry="0.9" transform="rotate(84 609.4 196.1)"/><ellipse cx="610.0" cy="192.2" rx="3.0" ry="0.8" transform="rotate(71 610.0 192.2)"/><ellipse cx="612.8" cy="194.9" rx="3.3" ry="1.2" transform="rotate(2 612.8 194.9)"/><ellipse cx="613.2" cy="195.8" rx="2.1" ry="1.2" transform="rotate(82 613.2 195.8)"/><ellipse cx="614.3" cy="199.5" rx="3.2" ry="0.9" transform="rotate(111 614.3 199.5)"/><ellipse cx="611.4" cy="196.5" rx="2.7" ry="0.9" transform="rotate(61 611.4 196.5)"/><ellipse cx="614.8" cy="195.8" rx="2.1" ry="0.9" transform="rotate(132 614.8 195.8)"/><ellipse cx="616.1" cy="196.6" rx="2.7" ry="1.3" transform="rotate(60 616.1 196.6)"/><ellipse cx="612.3" cy="191.3" rx="1.9" ry="0.8" transform="rotate(122 612.3 191.3)"/><ellipse cx="614.4" cy="192.7" rx="2.4" ry="1.4" transform="rotate(107 614.4 192.7)"/><ellipse cx="614.1" cy="198.7" rx="1.9" ry="0.8" transform="rotate(73 614.1 198.7)"/><ellipse cx="617.5" cy="199.2" rx="2.5" ry="1.1" transform="rotate(117 617.5 199.2)"/><ellipse cx="619.5" cy="192.6" rx="2.4" ry="1.0" transform="rotate(74 619.5 192.6)"/><ellipse cx="616.7" cy="199.7" rx="3.0" ry="1.5" transform="rotate(142 616.7 199.7)"/><ellipse cx="618.3" cy="193.5" rx="1.6" ry="1.0" transform="rotate(62 618.3 193.5)"/><ellipse cx="619.9" cy="194.6" rx="2.4" ry="1.1" transform="rotate(142 619.9 194.6)"/><ellipse cx="620.0" cy="191.6" rx="1.9" ry="1.3" transform="rotate(163 620.0 191.6)"/><ellipse cx="621.4" cy="194.2" rx="2.6" ry="0.8" transform="rotate(128 621.4 194.2)"/><ellipse cx="619.4" cy="189.6" rx="3.0" ry="1.4" transform="rotate(35 619.4 189.6)"/><ellipse cx="620.1" cy="189.4" rx="2.0" ry="0.8" transform="rotate(44 620.1 189.4)"/><ellipse cx="623.2" cy="191.2" rx="2.3" ry="1.4" transform="rotate(65 623.2 191.2)"/><ellipse cx="623.5" cy="192.7" rx="3.5" ry="0.8" transform="rotate(163 623.5 192.7)"/><ellipse cx="624.1" cy="190.5" rx="2.7" ry="0.9" transform="rotate(164 624.1 190.5)"/><ellipse cx="621.3" cy="186.9" rx="2.8" ry="0.8" transform="rotate(148 621.3 186.9)"/><ellipse cx="628.2" cy="189.1" rx="2.1" ry="1.2" transform="rotate(150 628.2 189.1)"/><ellipse cx="628.0" cy="191.1" rx="1.8" ry="0.7" transform="rotate(32 628.0 191.1)"/><ellipse cx="622.7" cy="184.9" rx="2.9" ry="0.9" transform="rotate(121 622.7 184.9)"/><ellipse cx="624.2" cy="187.1" rx="2.8" ry="1.3" transform="rotate(3 624.2 187.1)"/><ellipse cx="628.7" cy="189.8" rx="1.9" ry="1.0" transform="rotate(103 628.7 189.8)"/><ellipse cx="629.1" cy="189.8" rx="2.1" ry="1.2" transform="rotate(60 629.1 189.8)"/><ellipse cx="625.0" cy="187.6" rx="2.9" ry="0.8" transform="rotate(173 625.0 187.6)"/><ellipse cx="626.6" cy="186.1" rx="2.4" ry="1.2" transform="rotate(124 626.6 186.1)"/><ellipse cx="626.1" cy="184.0" rx="2.6" ry="1.5" transform="rotate(151 626.1 184.0)"/><ellipse cx="625.4" cy="183.4" rx="2.5" ry="1.2" transform="rotate(163 625.4 183.4)"/><ellipse cx="628.4" cy="184.8" rx="2.5" ry="1.4" transform="rotate(58 628.4 184.8)"/><ellipse cx="632.7" cy="186.7" rx="3.4" ry="1.3" transform="rotate(108 632.7 186.7)"/><ellipse cx="626.3" cy="182.7" rx="2.8" ry="0.8" transform="rotate(22 626.3 182.7)"/><ellipse cx="628.1" cy="185.2" rx="2.4" ry="0.7" transform="rotate(125 628.1 185.2)"/><ellipse cx="626.7" cy="184.9" rx="2.2" ry="1.0" transform="rotate(42 626.7 184.9)"/><ellipse cx="633.0" cy="187.5" rx="3.5" ry="1.2" transform="rotate(156 633.0 187.5)"/><ellipse cx="631.4" cy="184.4" rx="2.0" ry="1.3" transform="rotate(102 631.4 184.4)"/><ellipse cx="626.6" cy="181.0" rx="3.2" ry="0.8" transform="rotate(97 626.6 181.0)"/><ellipse cx="627.7" cy="180.2" rx="2.1" ry="0.9" transform="rotate(58 627.7 180.2)"/><ellipse cx="634.7" cy="187.0" rx="3.2" ry="1.0" transform="rotate(64 634.7 187.0)"/><ellipse cx="629.1" cy="183.5" rx="1.7" ry="1.4" transform="rotate(55 629.1 183.5)"/><ellipse cx="635.3" cy="182.3" rx="3.6" ry="1.1" transform="rotate(37 635.3 182.3)"/><ellipse cx="635.9" cy="184.2" rx="3.4" ry="0.9" transform="rotate(151 635.9 184.2)"/><ellipse cx="633.6" cy="184.4" rx="1.9" ry="1.4" transform="rotate(179 633.6 184.4)"/><ellipse cx="636.6" cy="185.0" rx="2.0" ry="1.4" transform="rotate(9 636.6 185.0)"/><ellipse cx="637.3" cy="185.7" rx="2.2" ry="1.4" transform="rotate(157 637.3 185.7)"/><ellipse cx="632.6" cy="181.0" rx="3.0" ry="1.5" transform="rotate(80 632.6 181.0)"/><ellipse cx="636.7" cy="186.2" rx="2.2" ry="1.3" transform="rotate(35 636.7 186.2)"/><ellipse cx="636.5" cy="185.2" rx="2.9" ry="1.3" transform="rotate(67 636.5 185.2)"/><ellipse cx="638.1" cy="179.7" rx="2.8" ry="0.9" transform="rotate(54 638.1 179.7)"/><ellipse cx="638.0" cy="177.0" rx="2.2" ry="1.2" transform="rotate(16 638.0 177.0)"/><ellipse cx="636.8" cy="176.9" rx="2.7" ry="1.1" transform="rotate(8 636.8 176.9)"/><ellipse cx="637.2" cy="180.7" rx="2.1" ry="1.3" transform="rotate(16 637.2 180.7)"/><ellipse cx="642.2" cy="182.3" rx="2.1" ry="0.9" transform="rotate(99 642.2 182.3)"/><ellipse cx="643.1" cy="183.0" rx="3.6" ry="0.7" transform="rotate(83 643.1 183.0)"/><ellipse cx="639.0" cy="178.5" rx="3.5" ry="1.1" transform="rotate(32 639.0 178.5)"/><ellipse cx="642.6" cy="179.4" rx="2.3" ry="1.2" transform="rotate(141 642.6 179.4)"/><ellipse cx="642.0" cy="179.9" rx="3.3" ry="1.2" transform="rotate(94 642.0 179.9)"/><ellipse cx="639.1" cy="176.4" rx="3.2" ry="0.8" transform="rotate(109 639.1 176.4)"/><ellipse cx="644.3" cy="182.1" rx="3.1" ry="1.3" transform="rotate(142 644.3 182.1)"/><ellipse cx="644.6" cy="182.0" rx="2.0" ry="1.2" transform="rotate(90 644.6 182.0)"/><ellipse cx="645.7" cy="183.7" rx="3.0" ry="1.2" transform="rotate(157 645.7 183.7)"/><ellipse cx="645.4" cy="182.4" rx="1.6" ry="1.1" transform="rotate(78 645.4 182.4)"/><ellipse cx="644.9" cy="179.8" rx="3.2" ry="0.8" transform="rotate(163 644.9 179.8)"/><ellipse cx="645.7" cy="178.2" rx="3.2" ry="0.9" transform="rotate(26 645.7 178.2)"/><ellipse cx="646.2" cy="180.7" rx="2.2" ry="1.2" transform="rotate(95 646.2 180.7)"/><ellipse cx="648.9" cy="180.1" rx="1.8" ry="1.4" transform="rotate(31 648.9 180.1)"/><ellipse cx="646.9" cy="181.0" rx="3.0" ry="1.4" transform="rotate(142 646.9 181.0)"/><ellipse cx="650.6" cy="181.5" rx="2.3" ry="0.9" transform="rotate(175 650.6 181.5)"/><ellipse cx="651.0" cy="181.5" rx="3.1" ry="1.5" transform="rotate(26 651.0 181.5)"/><ellipse cx="650.6" cy="177.3" rx="1.7" ry="0.9" transform="rotate(160 650.6 177.3)"/><ellipse cx="651.9" cy="180.1" rx="2.2" ry="1.0" transform="rotate(14 651.9 180.1)"/><ellipse cx="655.1" cy="179.9" rx="3.1" ry="1.3" transform="rotate(41 655.1 179.9)"/><ellipse cx="652.3" cy="178.8" rx="2.1" ry="1.1" transform="rotate(168 652.3 178.8)"/><ellipse cx="652.6" cy="177.4" rx="3.6" ry="1.2" transform="rotate(7 652.6 177.4)"/><ellipse cx="653.9" cy="176.5" rx="1.7" ry="1.0" transform="rotate(125 653.9 176.5)"/><ellipse cx="651.9" cy="172.4" rx="3.4" ry="1.1" transform="rotate(71 651.9 172.4)"/><ellipse cx="653.1" cy="171.7" rx="3.2" ry="0.9" transform="rotate(63 653.1 171.7)"/><ellipse cx="649.4" cy="177.1" rx="1.9" ry="0.9" transform="rotate(39 649.4 177.1)"/><ellipse cx="650.4" cy="174.2" rx="2.5" ry="1.5" transform="rotate(122 650.4 174.2)"/><ellipse cx="654.1" cy="172.3" rx="2.4" ry="0.8" transform="rotate(124 654.1 172.3)"/><ellipse cx="651.0" cy="176.2" rx="1.6" ry="0.8" transform="rotate(47 651.0 176.2)"/><ellipse cx="653.6" cy="178.1" rx="3.0" ry="0.9" transform="rotate(65 653.6 178.1)"/><ellipse cx="653.6" cy="181.2" rx="2.3" ry="1.3" transform="rotate(130 653.6 181.2)"/><ellipse cx="655.1" cy="172.7" rx="2.2" ry="1.0" transform="rotate(15 655.1 172.7)"/><ellipse cx="656.1" cy="173.9" rx="3.1" ry="1.1" transform="rotate(10 656.1 173.9)"/><ellipse cx="654.0" cy="178.5" rx="1.7" ry="0.8" transform="rotate(107 654.0 178.5)"/><ellipse cx="651.9" cy="181.3" rx="2.4" ry="1.1" transform="rotate(24 651.9 181.3)"/><ellipse cx="656.2" cy="176.3" rx="3.1" ry="1.2" transform="rotate(26 656.2 176.3)"/><ellipse cx="654.4" cy="181.3" rx="3.0" ry="1.0" transform="rotate(70 654.4 181.3)"/><ellipse cx="658.6" cy="176.3" rx="2.2" ry="1.0" transform="rotate(39 658.6 176.3)"/><ellipse cx="652.4" cy="181.6" rx="2.9" ry="1.2" transform="rotate(146 652.4 181.6)"/><ellipse cx="659.9" cy="177.2" rx="2.9" ry="1.4" transform="rotate(39 659.9 177.2)"/><ellipse cx="661.4" cy="180.2" rx="3.5" ry="1.4" transform="rotate(42 661.4 180.2)"/><ellipse cx="658.4" cy="180.4" rx="2.5" ry="1.0" transform="rotate(11 658.4 180.4)"/><ellipse cx="661.1" cy="183.2" rx="2.6" ry="0.9" transform="rotate(29 661.1 183.2)"/><ellipse cx="661.8" cy="183.1" rx="1.9" ry="1.2" transform="rotate(43 661.8 183.1)"/><ellipse cx="660.7" cy="186.1" rx="2.4" ry="0.8" transform="rotate(105 660.7 186.1)"/><ellipse cx="664.4" cy="180.5" rx="3.0" ry="0.7" transform="rotate(70 664.4 180.5)"/><ellipse cx="661.5" cy="183.5" rx="2.4" ry="0.7" transform="rotate(89 661.5 183.5)"/><ellipse cx="663.8" cy="181.6" rx="2.3" ry="0.9" transform="rotate(4 663.8 181.6)"/><ellipse cx="667.4" cy="184.5" rx="2.7" ry="0.9" transform="rotate(120 667.4 184.5)"/><ellipse cx="665.1" cy="185.7" rx="2.8" ry="1.5" transform="rotate(65 665.1 185.7)"/><ellipse cx="667.9" cy="182.3" rx="3.1" ry="1.2" transform="rotate(112 667.9 182.3)"/><ellipse cx="666.9" cy="183.8" rx="2.2" ry="1.4" transform="rotate(158 666.9 183.8)"/><ellipse cx="669.3" cy="184.4" rx="1.7" ry="0.8" transform="rotate(91 669.3 184.4)"/><ellipse cx="666.5" cy="184.7" rx="3.6" ry="0.8" transform="rotate(35 666.5 184.7)"/><ellipse cx="669.8" cy="186.0" rx="2.1" ry="0.7" transform="rotate(98 669.8 186.0)"/><ellipse cx="667.8" cy="184.0" rx="2.6" ry="1.2" transform="rotate(99 667.8 184.0)"/><ellipse cx="669.7" cy="182.0" rx="3.3" ry="1.5" transform="rotate(60 669.7 182.0)"/><ellipse cx="672.7" cy="185.2" rx="2.2" ry="1.3" transform="rotate(125 672.7 185.2)"/><ellipse cx="673.6" cy="181.9" rx="3.2" ry="0.8" transform="rotate(112 673.6 181.9)"/><ellipse cx="671.3" cy="183.6" rx="2.3" ry="0.9" transform="rotate(135 671.3 183.6)"/><ellipse cx="671.5" cy="183.2" rx="2.1" ry="1.0" transform="rotate(32 671.5 183.2)"/><ellipse cx="671.0" cy="183.3" rx="1.7" ry="0.8" transform="rotate(18 671.0 183.3)"/><ellipse cx="671.2" cy="181.4" rx="2.5" ry="1.3" transform="rotate(87 671.2 181.4)"/><ellipse cx="676.0" cy="187.5" rx="3.3" ry="0.7" transform="rotate(46 676.0 187.5)"/><ellipse cx="676.1" cy="184.1" rx="2.4" ry="1.3" transform="rotate(45 676.1 184.1)"/><ellipse cx="674.0" cy="181.7" rx="2.3" ry="1.3" transform="rotate(152 674.0 181.7)"/><ellipse cx="677.1" cy="180.9" rx="2.4" ry="1.3" transform="rotate(112 677.1 180.9)"/><ellipse cx="678.3" cy="180.8" rx="1.9" ry="1.0" transform="rotate(120 678.3 180.8)"/><ellipse cx="675.8" cy="187.0" rx="1.6" ry="1.2" transform="rotate(169 675.8 187.0)"/><ellipse cx="676.7" cy="179.6" rx="3.0" ry="1.0" transform="rotate(114 676.7 179.6)"/><ellipse cx="681.2" cy="184.8" rx="3.6" ry="0.7" transform="rotate(128 681.2 184.8)"/><ellipse cx="677.1" cy="187.9" rx="2.2" ry="1.3" transform="rotate(179 677.1 187.9)"/><ellipse cx="680.3" cy="187.6" rx="1.7" ry="1.1" transform="rotate(87 680.3 187.6)"/><ellipse cx="680.0" cy="185.1" rx="3.2" ry="1.4" transform="rotate(51 680.0 185.1)"/><ellipse cx="681.5" cy="184.8" rx="3.1" ry="1.5" transform="rotate(70 681.5 184.8)"/><ellipse cx="682.7" cy="181.7" rx="3.2" ry="0.8" transform="rotate(32 682.7 181.7)"/><ellipse cx="685.2" cy="187.2" rx="2.1" ry="1.1" transform="rotate(22 685.2 187.2)"/><ellipse cx="680.4" cy="185.6" rx="2.7" ry="0.8" transform="rotate(113 680.4 185.6)"/><ellipse cx="683.3" cy="185.8" rx="2.6" ry="1.0" transform="rotate(47 683.3 185.8)"/><ellipse cx="682.7" cy="188.0" rx="3.4" ry="0.9" transform="rotate(14 682.7 188.0)"/><ellipse cx="684.7" cy="186.5" rx="3.6" ry="0.9" transform="rotate(156 684.7 186.5)"/><ellipse cx="685.9" cy="183.4" rx="3.2" ry="1.0" transform="rotate(10 685.9 183.4)"/><ellipse cx="687.0" cy="182.7" rx="2.8" ry="0.9" transform="rotate(169 687.0 182.7)"/><ellipse cx="688.4" cy="179.4" rx="2.5" ry="1.4" transform="rotate(130 688.4 179.4)"/><ellipse cx="686.1" cy="186.5" rx="1.9" ry="0.8" transform="rotate(13 686.1 186.5)"/><ellipse cx="689.5" cy="184.3" rx="2.2" ry="1.1" transform="rotate(2 689.5 184.3)"/><ellipse cx="690.7" cy="185.7" rx="1.6" ry="1.1" transform="rotate(146 690.7 185.7)"/><ellipse cx="690.9" cy="179.9" rx="2.4" ry="1.3" transform="rotate(149 690.9 179.9)"/><ellipse cx="692.1" cy="180.0" rx="1.8" ry="1.5" transform="rotate(72 692.1 180.0)"/><ellipse cx="688.5" cy="181.0" rx="3.4" ry="0.7" transform="rotate(104 688.5 181.0)"/><ellipse cx="691.2" cy="185.4" rx="2.3" ry="1.2" transform="rotate(146 691.2 185.4)"/><ellipse cx="692.4" cy="184.0" rx="2.3" ry="0.9" transform="rotate(163 692.4 184.0)"/><ellipse cx="689.7" cy="184.5" rx="2.3" ry="1.3" transform="rotate(38 689.7 184.5)"/><ellipse cx="693.5" cy="180.2" rx="3.0" ry="0.8" transform="rotate(19 693.5 180.2)"/><ellipse cx="692.8" cy="186.1" rx="2.5" ry="0.7" transform="rotate(90 692.8 186.1)"/><ellipse cx="692.5" cy="183.6" rx="2.7" ry="1.5" transform="rotate(37 692.5 183.6)"/><ellipse cx="694.0" cy="178.9" rx="3.1" ry="0.8" transform="rotate(178 694.0 178.9)"/><ellipse cx="697.4" cy="183.1" rx="2.0" ry="1.0" transform="rotate(127 697.4 183.1)"/><ellipse cx="694.1" cy="185.7" rx="3.0" ry="1.5" transform="rotate(58 694.1 185.7)"/><ellipse cx="696.2" cy="185.6" rx="3.6" ry="0.8" transform="rotate(114 696.2 185.6)"/><ellipse cx="697.6" cy="183.6" rx="2.0" ry="1.2" transform="rotate(160 697.6 183.6)"/><ellipse cx="697.3" cy="178.9" rx="2.6" ry="1.2" transform="rotate(21 697.3 178.9)"/><ellipse cx="699.3" cy="179.0" rx="2.5" ry="1.2" transform="rotate(75 699.3 179.0)"/><ellipse cx="697.2" cy="183.6" rx="2.8" ry="1.2" transform="rotate(93 697.2 183.6)"/><ellipse cx="699.4" cy="186.9" rx="2.5" ry="1.2" transform="rotate(107 699.4 186.9)"/><ellipse cx="698.3" cy="178.2" rx="2.5" ry="1.5" transform="rotate(133 698.3 178.2)"/><ellipse cx="701.5" cy="184.1" rx="3.6" ry="1.0" transform="rotate(156 701.5 184.1)"/><ellipse cx="702.9" cy="185.9" rx="2.6" ry="0.9" transform="rotate(151 702.9 185.9)"/><ellipse cx="704.1" cy="180.7" rx="3.3" ry="1.3" transform="rotate(92 704.1 180.7)"/><ellipse cx="699.6" cy="177.5" rx="3.3" ry="1.3" transform="rotate(45 699.6 177.5)"/><ellipse cx="701.6" cy="179.2" rx="2.7" ry="1.4" transform="rotate(35 701.6 179.2)"/><ellipse cx="704.5" cy="184.3" rx="1.7" ry="1.1" transform="rotate(142 704.5 184.3)"/><ellipse cx="702.4" cy="182.3" rx="3.2" ry="1.4" transform="rotate(139 702.4 182.3)"/><ellipse cx="705.7" cy="181.6" rx="3.2" ry="0.8" transform="rotate(66 705.7 181.6)"/><ellipse cx="703.3" cy="186.1" rx="2.3" ry="1.4" transform="rotate(150 703.3 186.1)"/><ellipse cx="704.0" cy="185.9" rx="2.4" ry="1.4" transform="rotate(111 704.0 185.9)"/><ellipse cx="703.1" cy="178.2" rx="3.6" ry="0.9" transform="rotate(113 703.1 178.2)"/><ellipse cx="708.0" cy="178.1" rx="2.0" ry="1.2" transform="rotate(78 708.0 178.1)"/><ellipse cx="707.4" cy="186.8" rx="2.2" ry="1.2" transform="rotate(50 707.4 186.8)"/><ellipse cx="708.3" cy="180.8" rx="2.0" ry="0.8" transform="rotate(125 708.3 180.8)"/><ellipse cx="707.5" cy="182.3" rx="1.8" ry="1.5" transform="rotate(110 707.5 182.3)"/><ellipse cx="708.0" cy="183.3" rx="3.6" ry="1.3" transform="rotate(133 708.0 183.3)"/><ellipse cx="708.5" cy="183.2" rx="2.4" ry="0.8" transform="rotate(114 708.5 183.2)"/><ellipse cx="712.7" cy="181.9" rx="2.4" ry="1.1" transform="rotate(91 712.7 181.9)"/><ellipse cx="709.6" cy="177.2" rx="3.0" ry="0.9" transform="rotate(104 709.6 177.2)"/><ellipse cx="713.2" cy="183.2" rx="2.2" ry="1.4" transform="rotate(122 713.2 183.2)"/><ellipse cx="715.0" cy="181.2" rx="2.4" ry="1.3" transform="rotate(108 715.0 181.2)"/><ellipse cx="710.7" cy="182.0" rx="2.4" ry="0.9" transform="rotate(79 710.7 182.0)"/><ellipse cx="711.0" cy="176.9" rx="3.0" ry="1.2" transform="rotate(44 711.0 176.9)"/><ellipse cx="712.8" cy="182.0" rx="3.4" ry="0.9" transform="rotate(76 712.8 182.0)"/><ellipse cx="716.4" cy="182.1" rx="3.3" ry="1.2" transform="rotate(98 716.4 182.1)"/><ellipse cx="717.1" cy="184.4" rx="1.8" ry="1.0" transform="rotate(67 717.1 184.4)"/><ellipse cx="716.4" cy="178.6" rx="2.3" ry="1.4" transform="rotate(171 716.4 178.6)"/><ellipse cx="714.6" cy="185.2" rx="2.5" ry="1.0" transform="rotate(84 714.6 185.2)"/><ellipse cx="715.5" cy="182.5" rx="2.8" ry="1.5" transform="rotate(176 715.5 182.5)"/><ellipse cx="717.4" cy="176.1" rx="3.3" ry="1.2" transform="rotate(126 717.4 176.1)"/><ellipse cx="715.9" cy="175.7" rx="2.5" ry="1.0" transform="rotate(118 715.9 175.7)"/><ellipse cx="718.5" cy="184.2" rx="2.0" ry="1.0" transform="rotate(26 718.5 184.2)"/><ellipse cx="719.5" cy="182.6" rx="1.8" ry="0.8" transform="rotate(117 719.5 182.6)"/><ellipse cx="720.0" cy="180.5" rx="2.1" ry="1.3" transform="rotate(132 720.0 180.5)"/><ellipse cx="717.3" cy="178.3" rx="2.5" ry="0.7" transform="rotate(155 717.3 178.3)"/><ellipse cx="723.2" cy="178.0" rx="1.6" ry="1.0" transform="rotate(96 723.2 178.0)"/><ellipse cx="718.5" cy="181.0" rx="3.2" ry="0.9" transform="rotate(91 718.5 181.0)"/><ellipse cx="719.8" cy="185.4" rx="1.9" ry="0.8" transform="rotate(92 719.8 185.4)"/><ellipse cx="722.9" cy="184.5" rx="2.1" ry="1.0" transform="rotate(10 722.9 184.5)"/><ellipse cx="721.1" cy="184.8" rx="2.7" ry="1.1" transform="rotate(153 721.1 184.8)"/><ellipse cx="722.8" cy="186.4" rx="1.9" ry="1.5" transform="rotate(94 722.8 186.4)"/><ellipse cx="723.2" cy="183.4" rx="3.3" ry="1.5" transform="rotate(74 723.2 183.4)"/><ellipse cx="719.4" cy="185.9" rx="3.2" ry="1.3" transform="rotate(128 719.4 185.9)"/><ellipse cx="721.7" cy="185.5" rx="1.7" ry="0.8" transform="rotate(54 721.7 185.5)"/><ellipse cx="727.6" cy="179.5" rx="3.3" ry="0.7" transform="rotate(75 727.6 179.5)"/><ellipse cx="722.0" cy="186.4" rx="1.8" ry="1.4" transform="rotate(59 722.0 186.4)"/><ellipse cx="725.5" cy="183.7" rx="3.4" ry="1.5" transform="rotate(102 725.5 183.7)"/><ellipse cx="728.4" cy="185.0" rx="2.4" ry="0.9" transform="rotate(133 728.4 185.0)"/><ellipse cx="725.0" cy="186.0" rx="2.5" ry="1.1" transform="rotate(65 725.0 186.0)"/><ellipse cx="726.1" cy="184.6" rx="1.7" ry="1.4" transform="rotate(11 726.1 184.6)"/><ellipse cx="728.7" cy="184.9" rx="2.4" ry="0.9" transform="rotate(18 728.7 184.9)"/><ellipse cx="727.0" cy="185.7" rx="2.6" ry="0.9" transform="rotate(135 727.0 185.7)"/><ellipse cx="726.1" cy="184.0" rx="2.4" ry="1.5" transform="rotate(1 726.1 184.0)"/><ellipse cx="732.6" cy="186.1" rx="2.3" ry="1.2" transform="rotate(66 732.6 186.1)"/><ellipse cx="729.8" cy="187.9" rx="2.8" ry="1.0" transform="rotate(90 729.8 187.9)"/><ellipse cx="731.4" cy="186.3" rx="1.7" ry="0.8" transform="rotate(45 731.4 186.3)"/><ellipse cx="735.1" cy="189.2" rx="2.5" ry="1.4" transform="rotate(72 735.1 189.2)"/><ellipse cx="734.5" cy="189.1" rx="1.8" ry="1.5" transform="rotate(150 734.5 189.1)"/><ellipse cx="732.7" cy="188.8" rx="3.2" ry="1.3" transform="rotate(116 732.7 188.8)"/><ellipse cx="736.9" cy="191.2" rx="1.7" ry="1.2" transform="rotate(99 736.9 191.2)"/><ellipse cx="735.8" cy="182.8" rx="1.6" ry="1.4" transform="rotate(135 735.8 182.8)"/><ellipse cx="732.8" cy="186.4" rx="3.1" ry="1.0" transform="rotate(122 732.8 186.4)"/><ellipse cx="738.9" cy="182.0" rx="1.7" ry="1.3" transform="rotate(79 738.9 182.0)"/><ellipse cx="736.4" cy="184.4" rx="2.5" ry="1.0" transform="rotate(21 736.4 184.4)"/><ellipse cx="738.4" cy="188.5" rx="1.7" ry="0.8" transform="rotate(150 738.4 188.5)"/><ellipse cx="739.1" cy="185.1" rx="1.8" ry="0.8" transform="rotate(56 739.1 185.1)"/><ellipse cx="739.0" cy="182.3" rx="3.4" ry="0.9" transform="rotate(75 739.0 182.3)"/><ellipse cx="740.7" cy="186.3" rx="1.8" ry="1.4" transform="rotate(85 740.7 186.3)"/><ellipse cx="740.8" cy="191.2" rx="2.4" ry="1.2" transform="rotate(167 740.8 191.2)"/><ellipse cx="741.8" cy="186.6" rx="2.4" ry="1.3" transform="rotate(19 741.8 186.6)"/><ellipse cx="739.0" cy="184.4" rx="2.8" ry="0.9" transform="rotate(62 739.0 184.4)"/><ellipse cx="742.1" cy="189.8" rx="2.8" ry="1.1" transform="rotate(70 742.1 189.8)"/><ellipse cx="744.3" cy="185.7" rx="2.3" ry="1.2" transform="rotate(86 744.3 185.7)"/><ellipse cx="741.5" cy="181.9" rx="3.0" ry="0.9" transform="rotate(47 741.5 181.9)"/><ellipse cx="744.7" cy="184.1" rx="2.1" ry="0.8" transform="rotate(148 744.7 184.1)"/><ellipse cx="745.7" cy="187.5" rx="2.5" ry="1.2" transform="rotate(101 745.7 187.5)"/><ellipse cx="746.2" cy="181.6" rx="2.5" ry="1.1" transform="rotate(42 746.2 181.6)"/><ellipse cx="744.2" cy="183.9" rx="2.2" ry="1.4" transform="rotate(6 744.2 183.9)"/><ellipse cx="746.5" cy="184.3" rx="2.7" ry="1.0" transform="rotate(27 746.5 184.3)"/><ellipse cx="747.4" cy="181.8" rx="3.2" ry="0.8" transform="rotate(141 747.4 181.8)"/><ellipse cx="746.8" cy="189.0" rx="2.7" ry="1.2" transform="rotate(22 746.8 189.0)"/><ellipse cx="748.4" cy="183.5" rx="3.4" ry="1.4" transform="rotate(124 748.4 183.5)"/><ellipse cx="750.5" cy="187.3" rx="3.0" ry="0.9" transform="rotate(154 750.5 187.3)"/><ellipse cx="748.7" cy="183.9" rx="2.1" ry="0.7" transform="rotate(97 748.7 183.9)"/><ellipse cx="749.1" cy="188.5" rx="2.1" ry="0.8" transform="rotate(87 749.1 188.5)"/><ellipse cx="749.1" cy="188.3" rx="2.2" ry="1.1" transform="rotate(157 749.1 188.3)"/><ellipse cx="753.8" cy="189.1" rx="3.3" ry="1.2" transform="rotate(98 753.8 189.1)"/><ellipse cx="751.9" cy="183.6" rx="2.9" ry="1.4" transform="rotate(140 751.9 183.6)"/><ellipse cx="749.8" cy="188.4" rx="3.5" ry="1.0" transform="rotate(142 749.8 188.4)"/><ellipse cx="753.6" cy="188.4" rx="2.3" ry="1.3" transform="rotate(170 753.6 188.4)"/><ellipse cx="754.0" cy="185.7" rx="2.3" ry="0.9" transform="rotate(171 754.0 185.7)"/><ellipse cx="756.1" cy="189.5" rx="2.9" ry="0.8" transform="rotate(162 756.1 189.5)"/><ellipse cx="755.3" cy="189.6" rx="1.8" ry="1.5" transform="rotate(56 755.3 189.6)"/><ellipse cx="753.1" cy="182.0" rx="2.9" ry="0.8" transform="rotate(5 753.1 182.0)"/><ellipse cx="757.6" cy="185.1" rx="3.0" ry="1.4" transform="rotate(141 757.6 185.1)"/><ellipse cx="754.9" cy="185.5" rx="2.7" ry="0.8" transform="rotate(95 754.9 185.5)"/><ellipse cx="756.9" cy="187.2" rx="2.0" ry="1.3" transform="rotate(75 756.9 187.2)"/><ellipse cx="754.8" cy="185.8" rx="2.6" ry="1.1" transform="rotate(175 754.8 185.8)"/><ellipse cx="756.9" cy="185.2" rx="2.2" ry="1.0" transform="rotate(126 756.9 185.2)"/><ellipse cx="761.3" cy="181.7" rx="3.5" ry="1.4" transform="rotate(155 761.3 181.7)"/><ellipse cx="756.5" cy="181.5" rx="2.6" ry="1.2" transform="rotate(123 756.5 181.5)"/><ellipse cx="761.1" cy="184.9" rx="3.5" ry="0.8" transform="rotate(93 761.1 184.9)"/><ellipse cx="758.4" cy="181.3" rx="1.8" ry="1.4" transform="rotate(172 758.4 181.3)"/><ellipse cx="758.0" cy="190.5" rx="3.3" ry="1.3" transform="rotate(94 758.0 190.5)"/><ellipse cx="763.6" cy="185.3" rx="3.2" ry="0.7" transform="rotate(12 763.6 185.3)"/><ellipse cx="764.8" cy="183.2" rx="3.3" ry="1.0" transform="rotate(60 764.8 183.2)"/><ellipse cx="759.8" cy="187.4" rx="3.1" ry="0.9" transform="rotate(105 759.8 187.4)"/><ellipse cx="763.3" cy="185.8" rx="2.9" ry="1.1" transform="rotate(42 763.3 185.8)"/><ellipse cx="762.7" cy="182.3" rx="1.9" ry="0.9" transform="rotate(86 762.7 182.3)"/><ellipse cx="763.4" cy="183.3" rx="2.1" ry="1.2" transform="rotate(47 763.4 183.3)"/><ellipse cx="764.7" cy="185.9" rx="3.4" ry="0.8" transform="rotate(42 764.7 185.9)"/><ellipse cx="765.0" cy="188.1" rx="3.1" ry="1.2" transform="rotate(142 765.0 188.1)"/><ellipse cx="763.8" cy="185.7" rx="3.1" ry="0.9" transform="rotate(39 763.8 185.7)"/><ellipse cx="770.1" cy="187.2" rx="2.3" ry="1.0" transform="rotate(164 770.1 187.2)"/><ellipse cx="767.3" cy="181.4" rx="1.9" ry="1.3" transform="rotate(141 767.3 181.4)"/><ellipse cx="769.1" cy="187.9" rx="2.4" ry="0.9" transform="rotate(107 769.1 187.9)"/><ellipse cx="769.5" cy="183.9" rx="3.2" ry="0.7" transform="rotate(90 769.5 183.9)"/><ellipse cx="767.3" cy="187.4" rx="3.4" ry="0.8" transform="rotate(37 767.3 187.4)"/><ellipse cx="771.9" cy="182.7" rx="3.5" ry="1.0" transform="rotate(168 771.9 182.7)"/><ellipse cx="767.8" cy="188.9" rx="3.5" ry="0.9" transform="rotate(24 767.8 188.9)"/><ellipse cx="771.9" cy="185.6" rx="3.1" ry="1.5" transform="rotate(82 771.9 185.6)"/><ellipse cx="767.1" cy="185.3" rx="2.1" ry="1.5" transform="rotate(13 767.1 185.3)"/><ellipse cx="768.1" cy="188.7" rx="1.7" ry="0.9" transform="rotate(33 768.1 188.7)"/><ellipse cx="768.4" cy="189.8" rx="2.7" ry="1.2" transform="rotate(137 768.4 189.8)"/><ellipse cx="772.6" cy="188.2" rx="1.8" ry="0.9" transform="rotate(14 772.6 188.2)"/><ellipse cx="772.0" cy="190.5" rx="3.4" ry="1.1" transform="rotate(29 772.0 190.5)"/><ellipse cx="771.4" cy="189.7" rx="2.2" ry="1.3" transform="rotate(175 771.4 189.7)"/><ellipse cx="772.4" cy="188.9" rx="3.3" ry="1.1" transform="rotate(34 772.4 188.9)"/><ellipse cx="778.4" cy="187.9" rx="1.6" ry="1.3" transform="rotate(72 778.4 187.9)"/><ellipse cx="769.5" cy="191.7" rx="1.9" ry="1.3" transform="rotate(38 769.5 191.7)"/><ellipse cx="769.5" cy="192.1" rx="3.2" ry="1.1" transform="rotate(118 769.5 192.1)"/><ellipse cx="773.8" cy="190.1" rx="1.6" ry="0.9" transform="rotate(7 773.8 190.1)"/><ellipse cx="774.0" cy="193.0" rx="2.3" ry="1.1" transform="rotate(112 774.0 193.0)"/><ellipse cx="773.4" cy="191.7" rx="3.4" ry="1.2" transform="rotate(75 773.4 191.7)"/><ellipse cx="776.1" cy="190.8" rx="2.3" ry="1.4" transform="rotate(42 776.1 190.8)"/><ellipse cx="780.5" cy="191.0" rx="3.4" ry="0.8" transform="rotate(92 780.5 191.0)"/><ellipse cx="779.8" cy="188.3" rx="1.9" ry="1.3" transform="rotate(42 779.8 188.3)"/><ellipse cx="776.7" cy="190.9" rx="3.5" ry="0.9" transform="rotate(17 776.7 190.9)"/><ellipse cx="778.0" cy="191.4" rx="2.7" ry="1.1" transform="rotate(166 778.0 191.4)"/><ellipse cx="776.5" cy="192.2" rx="1.6" ry="1.1" transform="rotate(48 776.5 192.2)"/><ellipse cx="778.3" cy="194.8" rx="2.5" ry="0.8" transform="rotate(90 778.3 194.8)"/><ellipse cx="777.5" cy="195.2" rx="3.5" ry="0.9" transform="rotate(80 777.5 195.2)"/><ellipse cx="774.2" cy="197.5" rx="2.1" ry="1.4" transform="rotate(144 774.2 197.5)"/><ellipse cx="776.7" cy="198.9" rx="2.6" ry="1.0" transform="rotate(100 776.7 198.9)"/><ellipse cx="782.1" cy="194.3" rx="2.6" ry="0.9" transform="rotate(151 782.1 194.3)"/><ellipse cx="777.8" cy="195.4" rx="2.0" ry="0.9" transform="rotate(150 777.8 195.4)"/><ellipse cx="782.5" cy="198.7" rx="3.4" ry="1.2" transform="rotate(144 782.5 198.7)"/><ellipse cx="781.3" cy="198.3" rx="3.2" ry="0.8" transform="rotate(147 781.3 198.3)"/><ellipse cx="776.5" cy="197.4" rx="3.4" ry="0.7" transform="rotate(92 776.5 197.4)"/><ellipse cx="778.7" cy="201.4" rx="2.8" ry="1.4" transform="rotate(168 778.7 201.4)"/><ellipse cx="780.0" cy="196.9" rx="2.9" ry="0.8" transform="rotate(177 780.0 196.9)"/><ellipse cx="782.5" cy="197.1" rx="2.0" ry="1.3" transform="rotate(136 782.5 197.1)"/><ellipse cx="784.9" cy="199.7" rx="1.9" ry="1.3" transform="rotate(11 784.9 199.7)"/><ellipse cx="784.1" cy="200.8" rx="3.2" ry="1.4" transform="rotate(102 784.1 200.8)"/><ellipse cx="784.5" cy="199.9" rx="2.6" ry="1.0" transform="rotate(64 784.5 199.9)"/><ellipse cx="776.1" cy="203.1" rx="3.2" ry="0.9" transform="rotate(118 776.1 203.1)"/><ellipse cx="783.9" cy="202.5" rx="2.6" ry="1.0" transform="rotate(49 783.9 202.5)"/><ellipse cx="778.5" cy="204.6" rx="3.0" ry="1.5" transform="rotate(60 778.5 204.6)"/><ellipse cx="786.9" cy="202.9" rx="2.2" ry="1.5" transform="rotate(111 786.9 202.9)"/><ellipse cx="786.4" cy="202.3" rx="2.3" ry="0.9" transform="rotate(94 786.4 202.3)"/><ellipse cx="781.2" cy="205.1" rx="3.3" ry="1.1" transform="rotate(85 781.2 205.1)"/><ellipse cx="784.8" cy="204.0" rx="2.0" ry="1.2" transform="rotate(43 784.8 204.0)"/><ellipse cx="782.4" cy="207.3" rx="1.7" ry="1.0" transform="rotate(95 782.4 207.3)"/><ellipse cx="787.4" cy="202.9" rx="2.4" ry="1.0" transform="rotate(42 787.4 202.9)"/><ellipse cx="788.7" cy="208.5" rx="1.8" ry="1.0" transform="rotate(123 788.7 208.5)"/><ellipse cx="787.9" cy="205.1" rx="2.9" ry="1.5" transform="rotate(162 787.9 205.1)"/><ellipse cx="785.9" cy="209.7" rx="3.6" ry="1.1" transform="rotate(34 785.9 209.7)"/><ellipse cx="787.3" cy="204.8" rx="1.9" ry="1.1" transform="rotate(49 787.3 204.8)"/><ellipse cx="790.2" cy="206.6" rx="2.2" ry="1.3" transform="rotate(117 790.2 206.6)"/><ellipse cx="788.9" cy="206.2" rx="2.5" ry="0.8" transform="rotate(85 788.9 206.2)"/><ellipse cx="793.5" cy="205.5" rx="1.7" ry="0.8" transform="rotate(48 793.5 205.5)"/><ellipse cx="790.4" cy="207.0" rx="1.9" ry="1.0" transform="rotate(103 790.4 207.0)"/><ellipse cx="790.5" cy="206.5" rx="2.9" ry="1.2" transform="rotate(111 790.5 206.5)"/><ellipse cx="790.8" cy="214.1" rx="1.9" ry="0.7" transform="rotate(85 790.8 214.1)"/><ellipse cx="787.7" cy="213.0" rx="2.4" ry="1.1" transform="rotate(19 787.7 213.0)"/><ellipse cx="795.0" cy="206.2" rx="2.6" ry="1.2" transform="rotate(57 795.0 206.2)"/><ellipse cx="793.4" cy="205.2" rx="2.2" ry="0.9" transform="rotate(156 793.4 205.2)"/><ellipse cx="792.9" cy="210.0" rx="2.4" ry="1.4" transform="rotate(46 792.9 210.0)"/><ellipse cx="795.4" cy="208.1" rx="2.5" ry="1.0" transform="rotate(79 795.4 208.1)"/><ellipse cx="793.9" cy="211.1" rx="2.8" ry="1.0" transform="rotate(55 793.9 211.1)"/><ellipse cx="795.8" cy="208.5" rx="2.5" ry="1.4" transform="rotate(82 795.8 208.5)"/><ellipse cx="796.2" cy="212.9" rx="3.6" ry="1.3" transform="rotate(72 796.2 212.9)"/><ellipse cx="797.1" cy="210.6" rx="2.2" ry="1.3" transform="rotate(171 797.1 210.6)"/><ellipse cx="796.8" cy="210.4" rx="2.5" ry="1.2" transform="rotate(41 796.8 210.4)"/><ellipse cx="797.5" cy="209.3" rx="3.6" ry="1.0" transform="rotate(128 797.5 209.3)"/><ellipse cx="791.5" cy="213.9" rx="3.1" ry="0.9" transform="rotate(110 791.5 213.9)"/><ellipse cx="793.3" cy="213.0" rx="3.6" ry="0.9" transform="rotate(164 793.3 213.0)"/><ellipse cx="792.3" cy="214.5" rx="3.2" ry="1.4" transform="rotate(70 792.3 214.5)"/><ellipse cx="798.2" cy="214.8" rx="3.1" ry="1.3" transform="rotate(104 798.2 214.8)"/><ellipse cx="795.2" cy="216.2" rx="2.7" ry="1.1" transform="rotate(178 795.2 216.2)"/><ellipse cx="794.4" cy="217.0" rx="2.2" ry="1.3" transform="rotate(171 794.4 217.0)"/><ellipse cx="795.6" cy="213.2" rx="2.7" ry="1.1" transform="rotate(30 795.6 213.2)"/><ellipse cx="798.2" cy="215.9" rx="2.9" ry="0.9" transform="rotate(145 798.2 215.9)"/><ellipse cx="797.7" cy="211.7" rx="2.8" ry="1.1" transform="rotate(95 797.7 211.7)"/><ellipse cx="801.4" cy="217.6" rx="3.5" ry="1.0" transform="rotate(137 801.4 217.6)"/><ellipse cx="793.6" cy="213.0" rx="3.0" ry="1.3" transform="rotate(149 793.6 213.0)"/><ellipse cx="796.4" cy="214.0" rx="2.3" ry="1.1" transform="rotate(4 796.4 214.0)"/><ellipse cx="794.9" cy="217.6" rx="1.9" ry="0.9" transform="rotate(157 794.9 217.6)"/><ellipse cx="800.8" cy="217.7" rx="2.0" ry="0.8" transform="rotate(15 800.8 217.7)"/><ellipse cx="798.6" cy="219.5" rx="2.1" ry="1.1" transform="rotate(125 798.6 219.5)"/><ellipse cx="790.8" cy="218.9" rx="3.3" ry="0.9" transform="rotate(127 790.8 218.9)"/><ellipse cx="797.8" cy="219.1" rx="3.4" ry="0.9" transform="rotate(85 797.8 219.1)"/><ellipse cx="794.1" cy="218.2" rx="3.2" ry="1.2" transform="rotate(110 794.1 218.2)"/><ellipse cx="797.5" cy="220.0" rx="2.0" ry="1.2" transform="rotate(27 797.5 220.0)"/><ellipse cx="797.9" cy="220.4" rx="2.5" ry="1.0" transform="rotate(149 797.9 220.4)"/><ellipse cx="799.1" cy="221.7" rx="1.9" ry="1.0" transform="rotate(127 799.1 221.7)"/><ellipse cx="797.9" cy="229.0" rx="3.3" ry="0.9" transform="rotate(66 797.9 229.0)"/><ellipse cx="797.2" cy="228.5" rx="1.7" ry="1.3" transform="rotate(11 797.2 228.5)"/><ellipse cx="799.6" cy="222.9" rx="2.8" ry="0.8" transform="rotate(8 799.6 222.9)"/><ellipse cx="800.5" cy="229.0" rx="2.8" ry="1.4" transform="rotate(11 800.5 229.0)"/><ellipse cx="795.1" cy="228.6" rx="3.0" ry="0.8" transform="rotate(49 795.1 228.6)"/><ellipse cx="800.8" cy="225.6" rx="2.2" ry="1.1" transform="rotate(52 800.8 225.6)"/><ellipse cx="800.3" cy="226.5" rx="2.3" ry="0.9" transform="rotate(53 800.3 226.5)"/><ellipse cx="797.3" cy="228.2" rx="2.2" ry="1.2" transform="rotate(48 797.3 228.2)"/><ellipse cx="800.1" cy="231.5" rx="2.5" ry="1.1" transform="rotate(56 800.1 231.5)"/><ellipse cx="805.1" cy="225.7" rx="2.8" ry="1.2" transform="rotate(125 805.1 225.7)"/><ellipse cx="801.7" cy="228.0" rx="2.4" ry="1.1" transform="rotate(84 801.7 228.0)"/><ellipse cx="802.3" cy="228.1" rx="3.2" ry="1.4" transform="rotate(40 802.3 228.1)"/><ellipse cx="798.0" cy="229.8" rx="1.7" ry="1.3" transform="rotate(112 798.0 229.8)"/><ellipse cx="799.9" cy="227.9" rx="3.3" ry="1.4" transform="rotate(123 799.9 227.9)"/><ellipse cx="804.7" cy="228.2" rx="2.5" ry="1.0" transform="rotate(100 804.7 228.2)"/><ellipse cx="807.8" cy="229.7" rx="3.4" ry="1.4" transform="rotate(13 807.8 229.7)"/><ellipse cx="802.5" cy="232.9" rx="2.7" ry="1.1" transform="rotate(56 802.5 232.9)"/><ellipse cx="806.4" cy="227.8" rx="3.6" ry="0.8" transform="rotate(179 806.4 227.8)"/><ellipse cx="799.3" cy="232.1" rx="2.4" ry="1.2" transform="rotate(20 799.3 232.1)"/><ellipse cx="806.0" cy="232.6" rx="2.5" ry="1.3" transform="rotate(107 806.0 232.6)"/><ellipse cx="804.1" cy="229.3" rx="2.5" ry="1.4" transform="rotate(121 804.1 229.3)"/><ellipse cx="802.7" cy="233.8" rx="2.7" ry="1.0" transform="rotate(104 802.7 233.8)"/><ellipse cx="805.0" cy="229.8" rx="2.0" ry="1.2" transform="rotate(39 805.0 229.8)"/><ellipse cx="802.3" cy="235.9" rx="2.3" ry="1.5" transform="rotate(101 802.3 235.9)"/><ellipse cx="803.2" cy="236.6" rx="2.1" ry="1.4" transform="rotate(130 803.2 236.6)"/><ellipse cx="807.1" cy="230.8" rx="1.7" ry="1.3" transform="rotate(25 807.1 230.8)"/><ellipse cx="802.4" cy="233.5" rx="1.9" ry="1.1" transform="rotate(172 802.4 233.5)"/><ellipse cx="804.9" cy="235.4" rx="3.3" ry="0.8" transform="rotate(114 804.9 235.4)"/><ellipse cx="809.1" cy="236.7" rx="1.7" ry="1.2" transform="rotate(69 809.1 236.7)"/><ellipse cx="809.1" cy="232.7" rx="3.0" ry="0.8" transform="rotate(89 809.1 232.7)"/><ellipse cx="811.2" cy="233.4" rx="2.2" ry="1.4" transform="rotate(121 811.2 233.4)"/><ellipse cx="803.5" cy="237.8" rx="2.1" ry="0.9" transform="rotate(152 803.5 237.8)"/><ellipse cx="810.9" cy="237.9" rx="2.9" ry="1.2" transform="rotate(69 810.9 237.9)"/><ellipse cx="810.6" cy="237.2" rx="1.7" ry="1.1" transform="rotate(69 810.6 237.2)"/><ellipse cx="807.9" cy="236.3" rx="1.7" ry="1.5" transform="rotate(67 807.9 236.3)"/><ellipse cx="806.5" cy="237.8" rx="2.8" ry="1.4" transform="rotate(32 806.5 237.8)"/><ellipse cx="811.3" cy="241.1" rx="3.1" ry="1.2" transform="rotate(43 811.3 241.1)"/><ellipse cx="811.3" cy="244.3" rx="1.8" ry="1.4" transform="rotate(6 811.3 244.3)"/><ellipse cx="810.1" cy="243.9" rx="3.3" ry="1.2" transform="rotate(134 810.1 243.9)"/><ellipse cx="814.9" cy="239.7" rx="1.7" ry="1.4" transform="rotate(27 814.9 239.7)"/><ellipse cx="809.7" cy="244.0" rx="1.7" ry="1.4" transform="rotate(69 809.7 244.0)"/><ellipse cx="809.5" cy="244.7" rx="3.3" ry="1.2" transform="rotate(165 809.5 244.7)"/><ellipse cx="811.3" cy="245.9" rx="2.2" ry="0.9" transform="rotate(20 811.3 245.9)"/><ellipse cx="814.3" cy="245.4" rx="1.9" ry="0.8" transform="rotate(96 814.3 245.4)"/><ellipse cx="812.6" cy="242.9" rx="2.7" ry="1.1" transform="rotate(70 812.6 242.9)"/><ellipse cx="814.1" cy="242.4" rx="2.8" ry="0.9" transform="rotate(60 814.1 242.4)"/><ellipse cx="816.5" cy="248.2" rx="2.8" ry="1.0" transform="rotate(98 816.5 248.2)"/><ellipse cx="816.2" cy="238.3" rx="2.4" ry="1.3" transform="rotate(67 816.2 238.3)"/><ellipse cx="820.7" cy="242.4" rx="1.7" ry="0.9" transform="rotate(53 820.7 242.4)"/><ellipse cx="820.2" cy="241.8" rx="3.0" ry="1.4" transform="rotate(33 820.2 241.8)"/><ellipse cx="819.3" cy="245.2" rx="3.1" ry="0.8" transform="rotate(176 819.3 245.2)"/><ellipse cx="822.3" cy="242.7" rx="2.3" ry="1.2" transform="rotate(173 822.3 242.7)"/><ellipse cx="821.5" cy="240.7" rx="3.4" ry="1.5" transform="rotate(151 821.5 240.7)"/><ellipse cx="822.4" cy="243.6" rx="1.9" ry="1.0" transform="rotate(102 822.4 243.6)"/><ellipse cx="821.5" cy="248.7" rx="1.7" ry="1.2" transform="rotate(50 821.5 248.7)"/><ellipse cx="821.3" cy="246.7" rx="2.0" ry="1.1" transform="rotate(154 821.3 246.7)"/><ellipse cx="822.0" cy="240.0" rx="2.3" ry="1.3" transform="rotate(34 822.0 240.0)"/><ellipse cx="824.2" cy="241.1" rx="2.7" ry="1.0" transform="rotate(0 824.2 241.1)"/><ellipse cx="815.9" cy="241.9" rx="2.3" ry="0.9" transform="rotate(178 815.9 241.9)"/><ellipse cx="822.0" cy="240.9" rx="3.0" ry="0.9" transform="rotate(87 822.0 240.9)"/><ellipse cx="824.1" cy="246.4" rx="3.5" ry="1.0" transform="rotate(57 824.1 246.4)"/><ellipse cx="820.4" cy="244.5" rx="3.1" ry="1.1" transform="rotate(123 820.4 244.5)"/><ellipse cx="818.6" cy="247.3" rx="3.5" ry="0.9" transform="rotate(111 818.6 247.3)"/><ellipse cx="818.3" cy="245.5" rx="2.4" ry="0.8" transform="rotate(132 818.3 245.5)"/><ellipse cx="822.9" cy="247.7" rx="3.5" ry="0.7" transform="rotate(18 822.9 247.7)"/><ellipse cx="817.5" cy="247.8" rx="3.2" ry="1.2" transform="rotate(99 817.5 247.8)"/><ellipse cx="825.7" cy="247.5" rx="1.8" ry="1.2" transform="rotate(5 825.7 247.5)"/><ellipse cx="819.3" cy="247.2" rx="1.9" ry="0.8" transform="rotate(96 819.3 247.2)"/><ellipse cx="819.0" cy="250.2" rx="3.2" ry="1.0" transform="rotate(22 819.0 250.2)"/><ellipse cx="824.7" cy="251.6" rx="3.4" ry="1.1" transform="rotate(105 824.7 251.6)"/><ellipse cx="826.5" cy="250.9" rx="3.5" ry="0.9" transform="rotate(139 826.5 250.9)"/><ellipse cx="824.1" cy="250.4" rx="1.6" ry="1.1" transform="rotate(47 824.1 250.4)"/><ellipse cx="824.2" cy="252.5" rx="2.6" ry="0.7" transform="rotate(24 824.2 252.5)"/><ellipse cx="824.5" cy="253.4" rx="3.6" ry="1.3" transform="rotate(52 824.5 253.4)"/><ellipse cx="822.8" cy="252.8" rx="3.2" ry="1.0" transform="rotate(166 822.8 252.8)"/><ellipse cx="823.4" cy="254.1" rx="2.6" ry="1.0" transform="rotate(180 823.4 254.1)"/><ellipse cx="819.2" cy="255.0" rx="1.8" ry="1.2" transform="rotate(27 819.2 255.0)"/><ellipse cx="820.2" cy="254.9" rx="2.8" ry="1.3" transform="rotate(80 820.2 254.9)"/><ellipse cx="822.1" cy="254.5" rx="3.4" ry="0.9" transform="rotate(2 822.1 254.5)"/><ellipse cx="827.8" cy="255.8" rx="1.9" ry="0.8" transform="rotate(160 827.8 255.8)"/><ellipse cx="826.7" cy="253.6" rx="3.0" ry="0.9" transform="rotate(80 826.7 253.6)"/><ellipse cx="825.1" cy="255.3" rx="3.5" ry="1.0" transform="rotate(26 825.1 255.3)"/><ellipse cx="826.7" cy="255.8" rx="1.7" ry="1.2" transform="rotate(85 826.7 255.8)"/><ellipse cx="827.5" cy="259.3" rx="2.0" ry="0.7" transform="rotate(109 827.5 259.3)"/><ellipse cx="823.4" cy="258.3" rx="3.4" ry="0.9" transform="rotate(116 823.4 258.3)"/><ellipse cx="819.1" cy="260.9" rx="3.5" ry="1.2" transform="rotate(58 819.1 260.9)"/><ellipse cx="825.4" cy="261.6" rx="3.2" ry="0.7" transform="rotate(91 825.4 261.6)"/><ellipse cx="819.7" cy="261.0" rx="3.5" ry="1.4" transform="rotate(45 819.7 261.0)"/><ellipse cx="823.9" cy="260.4" rx="1.9" ry="1.3" transform="rotate(137 823.9 260.4)"/><ellipse cx="821.7" cy="260.7" rx="3.0" ry="1.3" transform="rotate(83 821.7 260.7)"/><ellipse cx="819.6" cy="260.7" rx="1.9" ry="1.4" transform="rotate(89 819.6 260.7)"/><ellipse cx="824.5" cy="262.7" rx="2.3" ry="0.8" transform="rotate(175 824.5 262.7)"/><ellipse cx="824.3" cy="261.5" rx="3.0" ry="1.2" transform="rotate(110 824.3 261.5)"/><ellipse cx="825.3" cy="266.0" rx="3.4" ry="1.5" transform="rotate(73 825.3 266.0)"/><ellipse cx="824.3" cy="264.7" rx="2.4" ry="1.0" transform="rotate(117 824.3 264.7)"/><ellipse cx="821.4" cy="264.2" rx="3.3" ry="1.3" transform="rotate(122 821.4 264.2)"/><ellipse cx="826.2" cy="267.5" rx="2.9" ry="0.9" transform="rotate(57 826.2 267.5)"/><ellipse cx="821.1" cy="261.9" rx="3.4" ry="0.9" transform="rotate(68 821.1 261.9)"/><ellipse cx="824.1" cy="260.6" rx="2.9" ry="1.4" transform="rotate(15 824.1 260.6)"/><ellipse cx="820.3" cy="264.0" rx="2.1" ry="1.4" transform="rotate(64 820.3 264.0)"/><ellipse cx="823.7" cy="264.7" rx="2.2" ry="1.0" transform="rotate(50 823.7 264.7)"/><ellipse cx="825.6" cy="266.5" rx="2.9" ry="1.3" transform="rotate(59 825.6 266.5)"/><ellipse cx="821.2" cy="262.9" rx="1.8" ry="1.3" transform="rotate(109 821.2 262.9)"/><ellipse cx="818.9" cy="262.1" rx="2.8" ry="1.0" transform="rotate(6 818.9 262.1)"/><ellipse cx="821.2" cy="265.4" rx="3.5" ry="1.0" transform="rotate(166 821.2 265.4)"/><ellipse cx="820.5" cy="270.6" rx="1.9" ry="1.3" transform="rotate(16 820.5 270.6)"/><ellipse cx="821.2" cy="266.9" rx="1.8" ry="1.0" transform="rotate(28 821.2 266.9)"/><ellipse cx="821.0" cy="271.7" rx="3.4" ry="1.5" transform="rotate(136 821.0 271.7)"/><ellipse cx="818.3" cy="269.3" rx="3.2" ry="1.2" transform="rotate(28 818.3 269.3)"/><ellipse cx="818.0" cy="268.2" rx="2.6" ry="1.3" transform="rotate(124 818.0 268.2)"/><ellipse cx="816.5" cy="269.4" rx="3.3" ry="0.8" transform="rotate(26 816.5 269.4)"/><ellipse cx="815.4" cy="264.2" rx="3.5" ry="0.9" transform="rotate(79 815.4 264.2)"/><ellipse cx="815.4" cy="268.8" rx="2.2" ry="1.3" transform="rotate(60 815.4 268.8)"/><ellipse cx="816.0" cy="272.7" rx="1.6" ry="1.1" transform="rotate(17 816.0 272.7)"/><ellipse cx="817.8" cy="272.2" rx="2.1" ry="1.3" transform="rotate(106 817.8 272.2)"/><ellipse cx="815.3" cy="271.1" rx="2.6" ry="0.9" transform="rotate(83 815.3 271.1)"/><ellipse cx="812.3" cy="268.1" rx="1.8" ry="0.8" transform="rotate(36 812.3 268.1)"/><ellipse cx="812.0" cy="275.5" rx="1.6" ry="1.5" transform="rotate(150 812.0 275.5)"/><ellipse cx="809.5" cy="274.8" rx="3.3" ry="1.5" transform="rotate(32 809.5 274.8)"/><ellipse cx="814.5" cy="275.0" rx="3.5" ry="0.9" transform="rotate(22 814.5 275.0)"/><ellipse cx="809.3" cy="277.9" rx="3.4" ry="1.4" transform="rotate(85 809.3 277.9)"/><ellipse cx="809.5" cy="278.6" rx="2.1" ry="1.2" transform="rotate(130 809.5 278.6)"/><ellipse cx="814.6" cy="274.9" rx="2.5" ry="1.1" transform="rotate(67 814.6 274.9)"/><ellipse cx="814.2" cy="279.3" rx="3.0" ry="1.0" transform="rotate(102 814.2 279.3)"/><ellipse cx="809.8" cy="278.8" rx="2.4" ry="1.0" transform="rotate(6 809.8 278.8)"/><ellipse cx="810.5" cy="280.7" rx="3.5" ry="1.4" transform="rotate(5 810.5 280.7)"/><ellipse cx="813.4" cy="280.4" rx="2.2" ry="0.8" transform="rotate(106 813.4 280.4)"/><ellipse cx="817.3" cy="277.2" rx="2.0" ry="0.8" transform="rotate(3 817.3 277.2)"/><ellipse cx="816.3" cy="277.1" rx="3.0" ry="1.3" transform="rotate(15 816.3 277.1)"/><ellipse cx="813.4" cy="282.5" rx="3.1" ry="1.3" transform="rotate(55 813.4 282.5)"/><ellipse cx="815.6" cy="281.0" rx="2.5" ry="1.3" transform="rotate(47 815.6 281.0)"/><ellipse cx="820.1" cy="280.9" rx="2.8" ry="1.5" transform="rotate(169 820.1 280.9)"/><ellipse cx="816.7" cy="286.7" rx="2.0" ry="1.3" transform="rotate(22 816.7 286.7)"/><ellipse cx="815.9" cy="283.7" rx="3.3" ry="1.2" transform="rotate(37 815.9 283.7)"/><ellipse cx="821.8" cy="281.6" rx="2.6" ry="0.7" transform="rotate(51 821.8 281.6)"/><ellipse cx="816.1" cy="282.4" rx="3.5" ry="1.2" transform="rotate(148 816.1 282.4)"/><ellipse cx="813.8" cy="281.8" rx="3.1" ry="1.0" transform="rotate(41 813.8 281.8)"/><ellipse cx="813.6" cy="280.8" rx="2.4" ry="1.1" transform="rotate(72 813.6 280.8)"/><ellipse cx="818.8" cy="283.3" rx="1.6" ry="1.2" transform="rotate(60 818.8 283.3)"/><ellipse cx="818.2" cy="283.8" rx="2.1" ry="0.7" transform="rotate(53 818.2 283.8)"/><ellipse cx="816.1" cy="282.7" rx="1.7" ry="1.1" transform="rotate(4 816.1 282.7)"/><ellipse cx="822.2" cy="285.2" rx="2.5" ry="1.1" transform="rotate(4 822.2 285.2)"/><ellipse cx="814.8" cy="288.2" rx="2.7" ry="1.1" transform="rotate(62 814.8 288.2)"/><ellipse cx="821.0" cy="286.1" rx="3.2" ry="1.4" transform="rotate(161 821.0 286.1)"/><ellipse cx="821.1" cy="288.8" rx="2.5" ry="1.1" transform="rotate(104 821.1 288.8)"/><ellipse cx="819.2" cy="289.8" rx="3.3" ry="0.7" transform="rotate(135 819.2 289.8)"/><ellipse cx="820.0" cy="288.6" rx="3.4" ry="0.7" transform="rotate(86 820.0 288.6)"/><ellipse cx="818.0" cy="292.5" rx="1.9" ry="1.2" transform="rotate(26 818.0 292.5)"/><ellipse cx="821.4" cy="289.8" rx="3.1" ry="0.9" transform="rotate(159 821.4 289.8)"/><ellipse cx="814.0" cy="289.3" rx="3.1" ry="1.4" transform="rotate(140 814.0 289.3)"/><ellipse cx="816.8" cy="290.1" rx="3.0" ry="1.3" transform="rotate(11 816.8 290.1)"/><ellipse cx="823.4" cy="291.6" rx="1.7" ry="1.1" transform="rotate(61 823.4 291.6)"/><ellipse cx="815.6" cy="294.3" rx="3.5" ry="0.8" transform="rotate(80 815.6 294.3)"/><ellipse cx="817.3" cy="295.0" rx="1.8" ry="1.0" transform="rotate(74 817.3 295.0)"/><ellipse cx="819.1" cy="293.6" rx="2.8" ry="1.5" transform="rotate(168 819.1 293.6)"/><ellipse cx="823.6" cy="295.0" rx="2.1" ry="0.9" transform="rotate(83 823.6 295.0)"/><ellipse cx="821.0" cy="294.7" rx="2.3" ry="1.5" transform="rotate(56 821.0 294.7)"/><ellipse cx="817.9" cy="288.9" rx="2.0" ry="1.3" transform="rotate(151 817.9 288.9)"/><ellipse cx="817.6" cy="289.6" rx="2.1" ry="1.3" transform="rotate(162 817.6 289.6)"/><ellipse cx="818.6" cy="291.9" rx="3.5" ry="1.5" transform="rotate(129 818.6 291.9)"/><ellipse cx="818.1" cy="295.7" rx="3.1" ry="1.1" transform="rotate(49 818.1 295.7)"/><ellipse cx="818.8" cy="295.7" rx="2.2" ry="1.2" transform="rotate(26 818.8 295.7)"/><ellipse cx="822.4" cy="298.1" rx="2.1" ry="1.5" transform="rotate(171 822.4 298.1)"/><ellipse cx="820.1" cy="300.3" rx="3.3" ry="1.4" transform="rotate(102 820.1 300.3)"/><ellipse cx="814.0" cy="294.7" rx="3.3" ry="1.4" transform="rotate(8 814.0 294.7)"/><ellipse cx="812.7" cy="296.0" rx="2.6" ry="1.4" transform="rotate(178 812.7 296.0)"/><ellipse cx="815.8" cy="298.2" rx="2.9" ry="1.3" transform="rotate(66 815.8 298.2)"/><ellipse cx="819.2" cy="297.0" rx="3.4" ry="1.3" transform="rotate(144 819.2 297.0)"/><ellipse cx="816.2" cy="297.9" rx="2.5" ry="1.2" transform="rotate(99 816.2 297.9)"/><ellipse cx="814.1" cy="295.0" rx="2.4" ry="0.9" transform="rotate(41 814.1 295.0)"/><ellipse cx="813.7" cy="297.2" rx="3.0" ry="1.4" transform="rotate(122 813.7 297.2)"/><ellipse cx="811.0" cy="297.2" rx="2.8" ry="1.3" transform="rotate(110 811.0 297.2)"/><ellipse cx="815.0" cy="298.5" rx="1.7" ry="1.2" transform="rotate(10 815.0 298.5)"/><ellipse cx="814.4" cy="302.7" rx="2.9" ry="1.2" transform="rotate(145 814.4 302.7)"/><ellipse cx="814.8" cy="305.7" rx="3.6" ry="1.1" transform="rotate(3 814.8 305.7)"/><ellipse cx="813.7" cy="302.4" rx="3.3" ry="1.2" transform="rotate(65 813.7 302.4)"/><ellipse cx="809.6" cy="297.9" rx="2.8" ry="1.5" transform="rotate(107 809.6 297.9)"/><ellipse cx="812.9" cy="305.6" rx="3.6" ry="1.1" transform="rotate(161 812.9 305.6)"/><ellipse cx="813.7" cy="299.8" rx="2.3" ry="1.0" transform="rotate(179 813.7 299.8)"/><ellipse cx="812.6" cy="300.5" rx="3.0" ry="0.8" transform="rotate(55 812.6 300.5)"/><ellipse cx="811.8" cy="301.0" rx="2.8" ry="1.0" transform="rotate(144 811.8 301.0)"/><ellipse cx="807.9" cy="302.9" rx="2.0" ry="1.1" transform="rotate(41 807.9 302.9)"/><ellipse cx="809.0" cy="298.4" rx="3.4" ry="0.9" transform="rotate(88 809.0 298.4)"/><ellipse cx="810.4" cy="303.4" rx="2.7" ry="0.8" transform="rotate(63 810.4 303.4)"/><ellipse cx="806.8" cy="303.0" rx="3.1" ry="1.3" transform="rotate(107 806.8 303.0)"/><ellipse cx="810.2" cy="307.5" rx="1.7" ry="0.8" transform="rotate(135 810.2 307.5)"/><ellipse cx="807.6" cy="308.9" rx="3.2" ry="0.8" transform="rotate(102 807.6 308.9)"/><ellipse cx="808.1" cy="306.1" rx="1.9" ry="1.5" transform="rotate(92 808.1 306.1)"/><ellipse cx="804.6" cy="304.2" rx="2.4" ry="0.8" transform="rotate(120 804.6 304.2)"/><ellipse cx="806.3" cy="303.0" rx="2.2" ry="1.2" transform="rotate(58 806.3 303.0)"/><ellipse cx="805.5" cy="308.2" rx="3.6" ry="1.4" transform="rotate(166 805.5 308.2)"/><ellipse cx="803.7" cy="304.6" rx="1.8" ry="1.2" transform="rotate(14 803.7 304.6)"/><ellipse cx="807.3" cy="302.0" rx="1.9" ry="1.3" transform="rotate(95 807.3 302.0)"/><ellipse cx="808.3" cy="301.4" rx="1.7" ry="1.4" transform="rotate(147 808.3 301.4)"/><ellipse cx="808.1" cy="306.5" rx="1.7" ry="1.3" transform="rotate(7 808.1 306.5)"/><ellipse cx="804.0" cy="305.1" rx="3.0" ry="0.8" transform="rotate(130 804.0 305.1)"/><ellipse cx="806.1" cy="307.9" rx="3.1" ry="1.2" transform="rotate(74 806.1 307.9)"/><ellipse cx="807.0" cy="306.4" rx="2.2" ry="1.4" transform="rotate(63 807.0 306.4)"/><ellipse cx="803.9" cy="307.7" rx="2.0" ry="0.7" transform="rotate(173 803.9 307.7)"/><ellipse cx="801.1" cy="306.3" rx="2.8" ry="0.7" transform="rotate(29 801.1 306.3)"/><ellipse cx="805.5" cy="300.7" rx="2.8" ry="1.5" transform="rotate(53 805.5 300.7)"/><ellipse cx="804.8" cy="302.4" rx="1.9" ry="0.7" transform="rotate(89 804.8 302.4)"/><ellipse cx="803.4" cy="303.8" rx="3.5" ry="1.0" transform="rotate(149 803.4 303.8)"/><ellipse cx="804.2" cy="305.3" rx="1.7" ry="1.2" transform="rotate(157 804.2 305.3)"/><ellipse cx="801.5" cy="299.0" rx="2.1" ry="1.2" transform="rotate(150 801.5 299.0)"/><ellipse cx="801.1" cy="306.0" rx="1.9" ry="1.5" transform="rotate(165 801.1 306.0)"/><ellipse cx="799.0" cy="307.2" rx="1.7" ry="1.0" transform="rotate(164 799.0 307.2)"/><ellipse cx="797.5" cy="298.2" rx="1.7" ry="1.4" transform="rotate(64 797.5 298.2)"/><ellipse cx="797.2" cy="298.4" rx="2.0" ry="1.0" transform="rotate(111 797.2 298.4)"/><ellipse cx="799.5" cy="303.7" rx="2.7" ry="0.7" transform="rotate(79 799.5 303.7)"/><ellipse cx="797.3" cy="305.6" rx="3.2" ry="0.9" transform="rotate(71 797.3 305.6)"/><ellipse cx="798.5" cy="305.2" rx="2.7" ry="1.1" transform="rotate(129 798.5 305.2)"/><ellipse cx="795.4" cy="307.4" rx="2.0" ry="0.9" transform="rotate(87 795.4 307.4)"/><ellipse cx="793.2" cy="301.1" rx="1.8" ry="1.3" transform="rotate(75 793.2 301.1)"/><ellipse cx="794.9" cy="298.5" rx="3.5" ry="1.4" transform="rotate(159 794.9 298.5)"/><ellipse cx="791.3" cy="302.6" rx="1.9" ry="1.3" transform="rotate(170 791.3 302.6)"/><ellipse cx="794.1" cy="300.2" rx="1.9" ry="0.8" transform="rotate(145 794.1 300.2)"/><ellipse cx="792.5" cy="304.5" rx="1.8" ry="1.2" transform="rotate(25 792.5 304.5)"/><ellipse cx="791.1" cy="300.1" rx="2.9" ry="1.3" transform="rotate(149 791.1 300.1)"/><ellipse cx="790.8" cy="300.1" rx="1.9" ry="1.1" transform="rotate(5 790.8 300.1)"/><ellipse cx="790.3" cy="307.5" rx="3.2" ry="1.1" transform="rotate(164 790.3 307.5)"/><ellipse cx="789.5" cy="307.3" rx="3.2" ry="0.9" transform="rotate(62 789.5 307.3)"/><ellipse cx="786.7" cy="300.1" rx="2.5" ry="1.5" transform="rotate(52 786.7 300.1)"/><ellipse cx="786.9" cy="303.8" rx="3.5" ry="1.3" transform="rotate(159 786.9 303.8)"/><ellipse cx="790.7" cy="308.0" rx="2.8" ry="0.8" transform="rotate(122 790.7 308.0)"/><ellipse cx="787.9" cy="308.8" rx="1.9" ry="1.2" transform="rotate(12 787.9 308.8)"/><ellipse cx="789.1" cy="303.7" rx="2.4" ry="1.4" transform="rotate(133 789.1 303.7)"/><ellipse cx="788.0" cy="307.8" rx="2.5" ry="0.7" transform="rotate(142 788.0 307.8)"/><ellipse cx="787.7" cy="306.0" rx="1.9" ry="1.1" transform="rotate(11 787.7 306.0)"/><ellipse cx="791.4" cy="303.1" rx="2.4" ry="0.8" transform="rotate(149 791.4 303.1)"/><ellipse cx="785.5" cy="305.1" rx="2.7" ry="0.8" transform="rotate(50 785.5 305.1)"/><ellipse cx="784.1" cy="306.9" rx="2.9" ry="1.2" transform="rotate(9 784.1 306.9)"/><ellipse cx="788.0" cy="301.9" rx="3.3" ry="1.5" transform="rotate(106 788.0 301.9)"/><ellipse cx="789.3" cy="303.4" rx="2.7" ry="1.0" transform="rotate(168 789.3 303.4)"/><ellipse cx="787.5" cy="301.7" rx="1.6" ry="0.7" transform="rotate(145 787.5 301.7)"/><ellipse cx="784.3" cy="307.4" rx="1.6" ry="1.2" transform="rotate(44 784.3 307.4)"/><ellipse cx="782.4" cy="303.3" rx="3.1" ry="0.9" transform="rotate(109 782.4 303.3)"/><ellipse cx="783.2" cy="300.1" rx="2.1" ry="1.4" transform="rotate(122 783.2 300.1)"/><ellipse cx="781.9" cy="306.2" rx="3.5" ry="1.2" transform="rotate(46 781.9 306.2)"/><ellipse cx="783.3" cy="304.2" rx="1.8" ry="0.7" transform="rotate(110 783.3 304.2)"/><ellipse cx="784.8" cy="300.5" rx="3.2" ry="0.8" transform="rotate(136 784.8 300.5)"/><ellipse cx="783.5" cy="300.1" rx="3.5" ry="1.4" transform="rotate(150 783.5 300.1)"/><ellipse cx="778.9" cy="305.3" rx="3.5" ry="1.2" transform="rotate(105 778.9 305.3)"/><ellipse cx="781.8" cy="299.6" rx="2.7" ry="0.9" transform="rotate(116 781.8 299.6)"/><ellipse cx="777.5" cy="303.2" rx="2.1" ry="0.7" transform="rotate(66 777.5 303.2)"/><ellipse cx="779.2" cy="299.3" rx="2.7" ry="1.1" transform="rotate(109 779.2 299.3)"/><ellipse cx="777.9" cy="299.8" rx="2.7" ry="1.1" transform="rotate(42 777.9 299.8)"/><ellipse cx="781.1" cy="296.8" rx="3.4" ry="1.5" transform="rotate(53 781.1 296.8)"/><ellipse cx="778.4" cy="300.4" rx="2.5" ry="0.8" transform="rotate(142 778.4 300.4)"/><ellipse cx="780.7" cy="296.2" rx="2.2" ry="0.9" transform="rotate(35 780.7 296.2)"/><ellipse cx="779.5" cy="295.4" rx="1.9" ry="1.2" transform="rotate(108 779.5 295.4)"/><ellipse cx="776.9" cy="300.0" rx="2.8" ry="0.9" transform="rotate(84 776.9 300.0)"/><ellipse cx="776.2" cy="300.4" rx="3.1" ry="1.2" transform="rotate(175 776.2 300.4)"/><ellipse cx="775.2" cy="298.9" rx="3.1" ry="0.9" transform="rotate(67 775.2 298.9)"/><ellipse cx="775.3" cy="296.9" rx="3.0" ry="0.8" transform="rotate(172 775.3 296.9)"/><ellipse cx="773.1" cy="301.4" rx="3.6" ry="1.2" transform="rotate(69 773.1 301.4)"/><ellipse cx="774.4" cy="292.4" rx="2.8" ry="1.3" transform="rotate(111 774.4 292.4)"/><ellipse cx="773.2" cy="299.4" rx="3.1" ry="1.2" transform="rotate(114 773.2 299.4)"/><ellipse cx="769.8" cy="297.5" rx="2.7" ry="0.8" transform="rotate(121 769.8 297.5)"/><ellipse cx="771.2" cy="298.9" rx="3.5" ry="1.1" transform="rotate(30 771.2 298.9)"/><ellipse cx="771.3" cy="297.0" rx="1.9" ry="1.4" transform="rotate(32 771.3 297.0)"/><ellipse cx="770.5" cy="299.1" rx="2.6" ry="1.5" transform="rotate(16 770.5 299.1)"/><ellipse cx="771.5" cy="300.4" rx="3.6" ry="1.4" transform="rotate(81 771.5 300.4)"/><ellipse cx="769.0" cy="298.5" rx="1.9" ry="1.0" transform="rotate(79 769.0 298.5)"/><ellipse cx="769.0" cy="300.8" rx="2.7" ry="1.1" transform="rotate(100 769.0 300.8)"/><ellipse cx="766.5" cy="300.3" rx="2.2" ry="1.5" transform="rotate(108 766.5 300.3)"/><ellipse cx="766.2" cy="295.2" rx="3.3" ry="0.7" transform="rotate(117 766.2 295.2)"/><ellipse cx="765.8" cy="297.4" rx="1.9" ry="0.9" transform="rotate(79 765.8 297.4)"/><ellipse cx="764.1" cy="297.0" rx="2.1" ry="1.2" transform="rotate(85 764.1 297.0)"/><ellipse cx="763.6" cy="300.7" rx="2.1" ry="1.5" transform="rotate(98 763.6 300.7)"/><ellipse cx="763.8" cy="296.1" rx="3.0" ry="1.0" transform="rotate(123 763.8 296.1)"/><ellipse cx="760.7" cy="295.7" rx="2.1" ry="1.4" transform="rotate(79 760.7 295.7)"/><ellipse cx="762.3" cy="297.0" rx="2.6" ry="1.1" transform="rotate(101 762.3 297.0)"/><ellipse cx="759.6" cy="302.1" rx="1.8" ry="1.5" transform="rotate(3 759.6 302.1)"/><ellipse cx="762.1" cy="293.6" rx="2.2" ry="0.7" transform="rotate(32 762.1 293.6)"/><ellipse cx="760.6" cy="297.7" rx="1.6" ry="0.8" transform="rotate(2 760.6 297.7)"/><ellipse cx="762.8" cy="293.9" rx="2.6" ry="1.5" transform="rotate(117 762.8 293.9)"/><ellipse cx="759.0" cy="300.9" rx="3.4" ry="1.2" transform="rotate(43 759.0 300.9)"/><ellipse cx="761.0" cy="296.6" rx="1.8" ry="1.4" transform="rotate(87 761.0 296.6)"/><ellipse cx="759.8" cy="294.4" rx="3.2" ry="0.9" transform="rotate(106 759.8 294.4)"/><ellipse cx="761.4" cy="293.8" rx="2.0" ry="1.1" transform="rotate(124 761.4 293.8)"/><ellipse cx="758.8" cy="294.3" rx="2.8" ry="1.3" transform="rotate(179 758.8 294.3)"/><ellipse cx="755.4" cy="294.3" rx="2.5" ry="1.1" transform="rotate(32 755.4 294.3)"/><ellipse cx="757.8" cy="292.5" rx="1.8" ry="0.7" transform="rotate(15 757.8 292.5)"/><ellipse cx="758.5" cy="297.5" rx="2.1" ry="1.3" transform="rotate(80 758.5 297.5)"/><ellipse cx="755.8" cy="292.5" rx="3.6" ry="1.2" transform="rotate(80 755.8 292.5)"/><ellipse cx="754.5" cy="296.1" rx="3.3" ry="1.3" transform="rotate(45 754.5 296.1)"/><ellipse cx="756.6" cy="299.3" rx="1.9" ry="1.1" transform="rotate(33 756.6 299.3)"/><ellipse cx="754.8" cy="296.4" rx="3.5" ry="1.0" transform="rotate(147 754.8 296.4)"/><ellipse cx="752.8" cy="299.7" rx="3.1" ry="1.1" transform="rotate(72 752.8 299.7)"/><ellipse cx="754.3" cy="291.8" rx="3.4" ry="1.3" transform="rotate(57 754.3 291.8)"/><ellipse cx="752.9" cy="295.4" rx="2.4" ry="1.3" transform="rotate(1 752.9 295.4)"/><ellipse cx="752.3" cy="294.8" rx="1.9" ry="1.3" transform="rotate(46 752.3 294.8)"/><ellipse cx="753.8" cy="294.5" rx="2.8" ry="1.0" transform="rotate(123 753.8 294.5)"/><ellipse cx="749.5" cy="293.3" rx="2.7" ry="0.8" transform="rotate(89 749.5 293.3)"/><ellipse cx="752.4" cy="292.4" rx="3.5" ry="1.1" transform="rotate(133 752.4 292.4)"/><ellipse cx="751.1" cy="291.0" rx="1.8" ry="0.9" transform="rotate(23 751.1 291.0)"/><ellipse cx="746.0" cy="289.0" rx="3.5" ry="1.0" transform="rotate(2 746.0 289.0)"/><ellipse cx="747.2" cy="296.0" rx="1.7" ry="1.3" transform="rotate(12 747.2 296.0)"/><ellipse cx="746.6" cy="291.1" rx="3.1" ry="0.9" transform="rotate(91 746.6 291.1)"/><ellipse cx="745.8" cy="296.6" rx="2.7" ry="0.8" transform="rotate(12 745.8 296.6)"/><ellipse cx="746.2" cy="290.6" rx="2.8" ry="1.1" transform="rotate(114 746.2 290.6)"/><ellipse cx="745.6" cy="294.3" rx="2.4" ry="1.4" transform="rotate(96 745.6 294.3)"/><ellipse cx="742.1" cy="297.4" rx="3.3" ry="1.3" transform="rotate(124 742.1 297.4)"/><ellipse cx="745.8" cy="294.2" rx="1.8" ry="1.2" transform="rotate(45 745.8 294.2)"/><ellipse cx="744.3" cy="294.8" rx="2.8" ry="1.0" transform="rotate(43 744.3 294.8)"/><ellipse cx="741.9" cy="291.8" rx="3.4" ry="1.0" transform="rotate(56 741.9 291.8)"/><ellipse cx="743.2" cy="293.2" rx="2.9" ry="1.3" transform="rotate(138 743.2 293.2)"/><ellipse cx="741.7" cy="296.7" rx="3.5" ry="1.1" transform="rotate(80 741.7 296.7)"/><ellipse cx="742.1" cy="295.2" rx="3.3" ry="1.0" transform="rotate(100 742.1 295.2)"/><ellipse cx="741.8" cy="293.9" rx="1.6" ry="0.9" transform="rotate(86 741.8 293.9)"/><ellipse cx="742.9" cy="298.1" rx="3.4" ry="1.5" transform="rotate(142 742.9 298.1)"/><ellipse cx="741.8" cy="291.5" rx="3.4" ry="0.8" transform="rotate(54 741.8 291.5)"/><ellipse cx="738.5" cy="298.0" rx="3.2" ry="1.4" transform="rotate(32 738.5 298.0)"/><ellipse cx="741.4" cy="293.7" rx="2.4" ry="1.1" transform="rotate(147 741.4 293.7)"/><ellipse cx="742.1" cy="294.0" rx="1.9" ry="0.9" transform="rotate(11 742.1 294.0)"/><ellipse cx="739.6" cy="295.5" rx="3.0" ry="1.0" transform="rotate(169 739.6 295.5)"/><ellipse cx="738.4" cy="296.1" rx="3.3" ry="0.8" transform="rotate(53 738.4 296.1)"/><ellipse cx="739.2" cy="293.6" rx="3.5" ry="1.2" transform="rotate(8 739.2 293.6)"/><ellipse cx="735.9" cy="295.7" rx="2.0" ry="1.3" transform="rotate(113 735.9 295.7)"/><ellipse cx="736.5" cy="295.0" rx="2.1" ry="1.1" transform="rotate(84 736.5 295.0)"/><ellipse cx="740.3" cy="291.2" rx="1.9" ry="0.9" transform="rotate(21 740.3 291.2)"/><ellipse cx="743.3" cy="290.2" rx="3.1" ry="1.0" transform="rotate(162 743.3 290.2)"/><ellipse cx="737.8" cy="291.9" rx="2.2" ry="1.4" transform="rotate(63 737.8 291.9)"/><ellipse cx="735.7" cy="293.0" rx="3.5" ry="1.2" transform="rotate(32 735.7 293.0)"/><ellipse cx="736.9" cy="293.0" rx="2.4" ry="1.0" transform="rotate(60 736.9 293.0)"/><ellipse cx="740.3" cy="291.5" rx="2.4" ry="0.8" transform="rotate(143 740.3 291.5)"/><ellipse cx="738.5" cy="287.2" rx="2.5" ry="1.5" transform="rotate(158 738.5 287.2)"/><ellipse cx="735.1" cy="288.0" rx="3.4" ry="1.4" transform="rotate(74 735.1 288.0)"/><ellipse cx="737.6" cy="291.1" rx="2.3" ry="1.0" transform="rotate(112 737.6 291.1)"/><ellipse cx="740.8" cy="284.0" rx="1.7" ry="1.0" transform="rotate(87 740.8 284.0)"/><ellipse cx="733.5" cy="287.8" rx="1.9" ry="1.2" transform="rotate(42 733.5 287.8)"/><ellipse cx="736.0" cy="287.9" rx="3.5" ry="1.1" transform="rotate(49 736.0 287.9)"/><ellipse cx="731.0" cy="281.6" rx="2.3" ry="0.9" transform="rotate(96 731.0 281.6)"/><ellipse cx="731.1" cy="285.2" rx="1.8" ry="1.0" transform="rotate(130 731.1 285.2)"/><ellipse cx="732.3" cy="283.5" rx="2.9" ry="0.8" transform="rotate(9 732.3 283.5)"/><ellipse cx="732.4" cy="280.3" rx="2.0" ry="0.9" transform="rotate(21 732.4 280.3)"/><ellipse cx="731.3" cy="278.9" rx="3.1" ry="0.8" transform="rotate(17 731.3 278.9)"/><ellipse cx="733.5" cy="285.7" rx="1.9" ry="1.1" transform="rotate(53 733.5 285.7)"/><ellipse cx="729.5" cy="286.3" rx="2.6" ry="1.0" transform="rotate(5 729.5 286.3)"/><ellipse cx="730.1" cy="286.6" rx="3.3" ry="0.8" transform="rotate(78 730.1 286.6)"/><ellipse cx="731.3" cy="283.9" rx="1.7" ry="1.4" transform="rotate(169 731.3 283.9)"/><ellipse cx="727.5" cy="288.4" rx="3.1" ry="1.2" transform="rotate(86 727.5 288.4)"/><ellipse cx="727.0" cy="280.3" rx="2.5" ry="1.2" transform="rotate(8 727.0 280.3)"/><ellipse cx="729.6" cy="281.5" rx="3.1" ry="1.1" transform="rotate(52 729.6 281.5)"/><ellipse cx="725.7" cy="286.3" rx="2.2" ry="1.0" transform="rotate(0 725.7 286.3)"/><ellipse cx="728.1" cy="279.2" rx="3.5" ry="1.4" transform="rotate(98 728.1 279.2)"/><ellipse cx="725.6" cy="287.8" rx="3.0" ry="0.8" transform="rotate(79 725.6 287.8)"/><ellipse cx="724.4" cy="284.6" rx="2.9" ry="1.0" transform="rotate(118 724.4 284.6)"/><ellipse cx="724.0" cy="280.6" rx="2.5" ry="1.1" transform="rotate(10 724.0 280.6)"/><ellipse cx="722.9" cy="281.0" rx="1.9" ry="1.1" transform="rotate(179 722.9 281.0)"/><ellipse cx="720.9" cy="284.6" rx="3.1" ry="1.5" transform="rotate(70 720.9 284.6)"/><ellipse cx="720.8" cy="282.5" rx="1.7" ry="1.1" transform="rotate(49 720.8 282.5)"/><ellipse cx="720.9" cy="284.1" rx="3.3" ry="1.1" transform="rotate(125 720.9 284.1)"/><ellipse cx="722.7" cy="279.8" rx="3.5" ry="1.2" transform="rotate(88 722.7 279.8)"/><ellipse cx="721.9" cy="284.1" rx="2.0" ry="0.9" transform="rotate(143 721.9 284.1)"/><ellipse cx="723.6" cy="285.0" rx="2.8" ry="1.4" transform="rotate(117 723.6 285.0)"/><ellipse cx="719.2" cy="279.1" rx="2.0" ry="1.1" transform="rotate(83 719.2 279.1)"/><ellipse cx="722.3" cy="280.5" rx="2.0" ry="0.8" transform="rotate(7 722.3 280.5)"/><ellipse cx="718.4" cy="283.9" rx="2.1" ry="1.5" transform="rotate(76 718.4 283.9)"/><ellipse cx="716.3" cy="280.7" rx="2.9" ry="1.1" transform="rotate(134 716.3 280.7)"/><ellipse cx="717.9" cy="284.6" rx="1.7" ry="1.3" transform="rotate(135 717.9 284.6)"/><ellipse cx="719.3" cy="283.8" rx="3.1" ry="0.8" transform="rotate(144 719.3 283.8)"/><ellipse cx="715.2" cy="281.9" rx="1.8" ry="1.0" transform="rotate(132 715.2 281.9)"/><ellipse cx="720.1" cy="278.8" rx="2.4" ry="1.4" transform="rotate(113 720.1 278.8)"/><ellipse cx="719.4" cy="279.8" rx="3.3" ry="1.4" transform="rotate(126 719.4 279.8)"/><ellipse cx="714.7" cy="277.2" rx="1.6" ry="0.8" transform="rotate(58 714.7 277.2)"/><ellipse cx="714.6" cy="285.4" rx="1.9" ry="1.3" transform="rotate(137 714.6 285.4)"/><ellipse cx="717.5" cy="279.2" rx="3.3" ry="1.5" transform="rotate(164 717.5 279.2)"/><ellipse cx="714.4" cy="281.2" rx="3.1" ry="1.2" transform="rotate(150 714.4 281.2)"/><ellipse cx="711.7" cy="281.7" rx="3.6" ry="1.1" transform="rotate(80 711.7 281.7)"/><ellipse cx="711.1" cy="280.0" rx="2.8" ry="1.5" transform="rotate(49 711.1 280.0)"/><ellipse cx="707.9" cy="281.0" rx="2.3" ry="0.7" transform="rotate(108 707.9 281.0)"/><ellipse cx="708.9" cy="278.5" rx="2.7" ry="1.3" transform="rotate(137 708.9 278.5)"/><ellipse cx="712.4" cy="275.4" rx="2.5" ry="0.9" transform="rotate(49 712.4 275.4)"/><ellipse cx="709.7" cy="276.0" rx="2.7" ry="1.0" transform="rotate(10 709.7 276.0)"/><ellipse cx="707.5" cy="279.5" rx="3.3" ry="1.3" transform="rotate(11 707.5 279.5)"/><ellipse cx="711.3" cy="276.0" rx="2.2" ry="1.4" transform="rotate(37 711.3 276.0)"/><ellipse cx="711.2" cy="272.9" rx="1.7" ry="0.7" transform="rotate(109 711.2 272.9)"/><ellipse cx="707.8" cy="277.7" rx="1.7" ry="1.1" transform="rotate(94 707.8 277.7)"/><ellipse cx="710.7" cy="276.0" rx="1.9" ry="1.1" transform="rotate(66 710.7 276.0)"/><ellipse cx="705.9" cy="276.3" rx="2.2" ry="1.2" transform="rotate(47 705.9 276.3)"/><ellipse cx="707.1" cy="278.8" rx="2.8" ry="1.3" transform="rotate(144 707.1 278.8)"/><ellipse cx="705.1" cy="275.2" rx="3.6" ry="1.3" transform="rotate(65 705.1 275.2)"/><ellipse cx="702.6" cy="272.6" rx="1.9" ry="0.8" transform="rotate(17 702.6 272.6)"/><ellipse cx="704.3" cy="276.1" rx="3.4" ry="1.3" transform="rotate(96 704.3 276.1)"/><ellipse cx="704.2" cy="273.1" rx="1.7" ry="0.8" transform="rotate(157 704.2 273.1)"/><ellipse cx="704.0" cy="272.7" rx="3.6" ry="1.0" transform="rotate(139 704.0 272.7)"/><ellipse cx="699.5" cy="274.9" rx="1.8" ry="1.1" transform="rotate(117 699.5 274.9)"/><ellipse cx="699.1" cy="270.7" rx="2.3" ry="1.2" transform="rotate(14 699.1 270.7)"/><ellipse cx="701.6" cy="270.8" rx="3.2" ry="1.5" transform="rotate(165 701.6 270.8)"/><ellipse cx="702.2" cy="275.2" rx="3.2" ry="1.1" transform="rotate(141 702.2 275.2)"/><ellipse cx="700.0" cy="276.6" rx="1.9" ry="0.8" transform="rotate(15 700.0 276.6)"/><ellipse cx="699.4" cy="274.7" rx="3.5" ry="0.7" transform="rotate(137 699.4 274.7)"/><ellipse cx="699.9" cy="271.5" rx="3.4" ry="0.9" transform="rotate(107 699.9 271.5)"/><ellipse cx="699.1" cy="276.2" rx="2.3" ry="0.8" transform="rotate(125 699.1 276.2)"/><ellipse cx="696.1" cy="274.6" rx="3.2" ry="0.8" transform="rotate(76 696.1 274.6)"/><ellipse cx="694.4" cy="274.6" rx="2.8" ry="0.9" transform="rotate(83 694.4 274.6)"/><ellipse cx="696.0" cy="271.0" rx="1.7" ry="0.8" transform="rotate(91 696.0 271.0)"/><ellipse cx="696.5" cy="276.1" rx="2.8" ry="0.9" transform="rotate(126 696.5 276.1)"/><ellipse cx="692.7" cy="271.9" rx="2.5" ry="0.8" transform="rotate(52 692.7 271.9)"/><ellipse cx="697.2" cy="276.9" rx="3.4" ry="0.9" transform="rotate(74 697.2 276.9)"/><ellipse cx="696.4" cy="272.5" rx="3.5" ry="0.8" transform="rotate(32 696.4 272.5)"/><ellipse cx="694.0" cy="276.6" rx="1.9" ry="0.9" transform="rotate(109 694.0 276.6)"/><ellipse cx="697.9" cy="274.7" rx="3.0" ry="1.4" transform="rotate(145 697.9 274.7)"/><ellipse cx="693.3" cy="279.5" rx="2.2" ry="1.2" transform="rotate(111 693.3 279.5)"/><ellipse cx="692.4" cy="276.8" rx="2.1" ry="0.9" transform="rotate(15 692.4 276.8)"/><ellipse cx="694.1" cy="271.5" rx="1.8" ry="1.4" transform="rotate(173 694.1 271.5)"/><ellipse cx="690.2" cy="271.1" rx="2.8" ry="0.7" transform="rotate(69 690.2 271.1)"/><ellipse cx="692.6" cy="274.2" rx="1.7" ry="0.9" transform="rotate(3 692.6 274.2)"/><ellipse cx="691.5" cy="274.7" rx="2.1" ry="1.4" transform="rotate(159 691.5 274.7)"/><ellipse cx="688.1" cy="274.1" rx="2.3" ry="1.3" transform="rotate(140 688.1 274.1)"/><ellipse cx="688.9" cy="272.8" rx="2.3" ry="0.8" transform="rotate(75 688.9 272.8)"/><ellipse cx="689.7" cy="270.6" rx="2.1" ry="1.1" transform="rotate(146 689.7 270.6)"/><ellipse cx="685.5" cy="274.2" rx="3.1" ry="1.3" transform="rotate(133 685.5 274.2)"/><ellipse cx="685.2" cy="275.1" rx="2.8" ry="1.2" transform="rotate(99 685.2 275.1)"/><ellipse cx="685.6" cy="273.6" rx="2.2" ry="0.9" transform="rotate(90 685.6 273.6)"/><ellipse cx="682.6" cy="271.8" rx="2.9" ry="0.7" transform="rotate(38 682.6 271.8)"/><ellipse cx="685.0" cy="274.3" rx="3.0" ry="1.1" transform="rotate(20 685.0 274.3)"/><ellipse cx="682.4" cy="275.8" rx="1.8" ry="1.2" transform="rotate(110 682.4 275.8)"/><ellipse cx="682.6" cy="274.9" rx="2.6" ry="1.5" transform="rotate(157 682.6 274.9)"/><ellipse cx="680.6" cy="273.7" rx="2.9" ry="1.3" transform="rotate(180 680.6 273.7)"/><ellipse cx="682.5" cy="269.4" rx="2.1" ry="1.4" transform="rotate(166 682.5 269.4)"/><ellipse cx="679.8" cy="271.8" rx="3.4" ry="1.3" transform="rotate(106 679.8 271.8)"/><ellipse cx="679.5" cy="278.7" rx="1.8" ry="1.5" transform="rotate(52 679.5 278.7)"/><ellipse cx="679.5" cy="275.8" rx="2.2" ry="0.9" transform="rotate(163 679.5 275.8)"/><ellipse cx="677.1" cy="278.3" rx="1.8" ry="1.2" transform="rotate(133 677.1 278.3)"/><ellipse cx="678.7" cy="279.5" rx="2.2" ry="0.8" transform="rotate(31 678.7 279.5)"/><ellipse cx="677.6" cy="272.7" rx="2.2" ry="0.8" transform="rotate(16 677.6 272.7)"/><ellipse cx="675.7" cy="277.6" rx="1.8" ry="1.1" transform="rotate(176 675.7 277.6)"/><ellipse cx="676.2" cy="274.2" rx="3.2" ry="0.7" transform="rotate(157 676.2 274.2)"/><ellipse cx="676.3" cy="278.3" rx="2.3" ry="1.1" transform="rotate(169 676.3 278.3)"/><ellipse cx="675.7" cy="271.3" rx="2.9" ry="1.5" transform="rotate(27 675.7 271.3)"/><ellipse cx="674.2" cy="273.0" rx="3.2" ry="1.2" transform="rotate(119 674.2 273.0)"/><ellipse cx="675.1" cy="271.3" rx="2.8" ry="1.3" transform="rotate(16 675.1 271.3)"/><ellipse cx="672.8" cy="272.4" rx="2.4" ry="1.0" transform="rotate(31 672.8 272.4)"/><ellipse cx="671.2" cy="272.7" rx="3.5" ry="1.2" transform="rotate(165 671.2 272.7)"/><ellipse cx="671.5" cy="273.1" rx="2.3" ry="1.4" transform="rotate(108 671.5 273.1)"/><ellipse cx="669.3" cy="279.0" rx="3.5" ry="0.8" transform="rotate(79 669.3 279.0)"/><ellipse cx="669.0" cy="273.5" rx="2.0" ry="1.3" transform="rotate(64 669.0 273.5)"/><ellipse cx="667.2" cy="273.4" rx="1.9" ry="0.9" transform="rotate(94 667.2 273.4)"/><ellipse cx="666.2" cy="274.4" rx="3.0" ry="0.8" transform="rotate(112 666.2 274.4)"/><ellipse cx="667.6" cy="274.6" rx="1.8" ry="0.9" transform="rotate(81 667.6 274.6)"/><ellipse cx="668.6" cy="278.6" rx="3.5" ry="1.0" transform="rotate(63 668.6 278.6)"/><ellipse cx="665.2" cy="276.4" rx="2.3" ry="0.9" transform="rotate(35 665.2 276.4)"/><ellipse cx="665.5" cy="278.5" rx="2.5" ry="1.4" transform="rotate(85 665.5 278.5)"/><ellipse cx="668.8" cy="278.8" rx="2.4" ry="1.3" transform="rotate(15 668.8 278.8)"/><ellipse cx="666.6" cy="278.4" rx="2.2" ry="1.0" transform="rotate(36 666.6 278.4)"/><ellipse cx="668.1" cy="279.1" rx="2.1" ry="0.9" transform="rotate(33 668.1 279.1)"/><ellipse cx="666.1" cy="282.7" rx="3.4" ry="0.8" transform="rotate(34 666.1 282.7)"/><ellipse cx="663.2" cy="278.3" rx="3.3" ry="1.4" transform="rotate(155 663.2 278.3)"/><ellipse cx="664.3" cy="274.7" rx="2.3" ry="1.0" transform="rotate(1 664.3 274.7)"/><ellipse cx="665.1" cy="277.9" rx="3.3" ry="0.9" transform="rotate(57 665.1 277.9)"/><ellipse cx="659.4" cy="278.4" rx="1.8" ry="1.1" transform="rotate(40 659.4 278.4)"/><ellipse cx="659.0" cy="279.4" rx="3.0" ry="1.3" transform="rotate(64 659.0 279.4)"/><ellipse cx="661.9" cy="285.9" rx="2.9" ry="0.9" transform="rotate(9 661.9 285.9)"/><ellipse cx="660.8" cy="281.8" rx="3.3" ry="1.5" transform="rotate(147 660.8 281.8)"/><ellipse cx="657.3" cy="280.0" rx="2.8" ry="0.7" transform="rotate(37 657.3 280.0)"/><ellipse cx="660.9" cy="286.1" rx="3.1" ry="1.2" transform="rotate(4 660.9 286.1)"/><ellipse cx="661.5" cy="285.5" rx="3.1" ry="1.1" transform="rotate(88 661.5 285.5)"/><ellipse cx="656.8" cy="283.6" rx="3.3" ry="1.0" transform="rotate(153 656.8 283.6)"/><ellipse cx="657.4" cy="279.2" rx="2.2" ry="0.7" transform="rotate(72 657.4 279.2)"/><ellipse cx="652.4" cy="280.3" rx="3.2" ry="1.1" transform="rotate(11 652.4 280.3)"/><ellipse cx="654.5" cy="282.0" rx="2.2" ry="0.8" transform="rotate(77 654.5 282.0)"/><ellipse cx="658.9" cy="283.0" rx="2.4" ry="1.1" transform="rotate(134 658.9 283.0)"/><ellipse cx="652.7" cy="284.7" rx="2.1" ry="1.3" transform="rotate(14 652.7 284.7)"/><ellipse cx="657.2" cy="287.8" rx="1.9" ry="1.4" transform="rotate(159 657.2 287.8)"/><ellipse cx="651.8" cy="282.0" rx="3.5" ry="1.0" transform="rotate(142 651.8 282.0)"/><ellipse cx="654.5" cy="287.1" rx="2.4" ry="1.0" transform="rotate(147 654.5 287.1)"/><ellipse cx="653.2" cy="288.6" rx="1.7" ry="1.2" transform="rotate(127 653.2 288.6)"/><ellipse cx="654.4" cy="281.5" rx="3.4" ry="1.3" transform="rotate(128 654.4 281.5)"/><ellipse cx="651.6" cy="284.5" rx="3.2" ry="0.8" transform="rotate(130 651.6 284.5)"/><ellipse cx="653.4" cy="287.7" rx="3.5" ry="1.2" transform="rotate(159 653.4 287.7)"/><ellipse cx="651.0" cy="283.2" rx="2.2" ry="1.1" transform="rotate(136 651.0 283.2)"/><ellipse cx="651.3" cy="292.1" rx="3.3" ry="1.5" transform="rotate(132 651.3 292.1)"/><ellipse cx="653.6" cy="287.9" rx="2.4" ry="1.1" transform="rotate(19 653.6 287.9)"/><ellipse cx="653.2" cy="290.0" rx="2.1" ry="0.8" transform="rotate(97 653.2 290.0)"/><ellipse cx="646.3" cy="287.6" rx="2.9" ry="1.0" transform="rotate(28 646.3 287.6)"/><ellipse cx="646.0" cy="284.6" rx="2.8" ry="1.1" transform="rotate(91 646.0 284.6)"/><ellipse cx="646.9" cy="288.2" rx="1.7" ry="0.9" transform="rotate(143 646.9 288.2)"/><ellipse cx="647.3" cy="286.8" rx="2.5" ry="0.9" transform="rotate(137 647.3 286.8)"/><ellipse cx="645.2" cy="285.5" rx="3.0" ry="1.0" transform="rotate(131 645.2 285.5)"/><ellipse cx="646.2" cy="287.9" rx="1.8" ry="1.0" transform="rotate(101 646.2 287.9)"/><ellipse cx="646.8" cy="290.5" rx="1.7" ry="1.1" transform="rotate(156 646.8 290.5)"/><ellipse cx="646.4" cy="287.0" rx="2.8" ry="0.9" transform="rotate(18 646.4 287.0)"/><ellipse cx="643.7" cy="286.2" rx="3.4" ry="1.3" transform="rotate(106 643.7 286.2)"/><ellipse cx="644.5" cy="294.6" rx="2.1" ry="1.0" transform="rotate(175 644.5 294.6)"/><ellipse cx="645.7" cy="294.7" rx="2.9" ry="1.0" transform="rotate(16 645.7 294.7)"/><ellipse cx="644.8" cy="288.4" rx="2.9" ry="1.2" transform="rotate(113 644.8 288.4)"/><ellipse cx="646.7" cy="293.9" rx="2.0" ry="0.8" transform="rotate(67 646.7 293.9)"/><ellipse cx="644.6" cy="294.9" rx="3.2" ry="0.8" transform="rotate(64 644.6 294.9)"/><ellipse cx="644.9" cy="293.5" rx="3.1" ry="1.2" transform="rotate(118 644.9 293.5)"/><ellipse cx="639.4" cy="287.8" rx="3.6" ry="1.0" transform="rotate(50 639.4 287.8)"/><ellipse cx="642.7" cy="296.8" rx="3.0" ry="1.1" transform="rotate(112 642.7 296.8)"/><ellipse cx="641.4" cy="290.8" rx="2.2" ry="0.9" transform="rotate(125 641.4 290.8)"/><ellipse cx="639.0" cy="288.7" rx="2.6" ry="1.5" transform="rotate(141 639.0 288.7)"/><ellipse cx="638.8" cy="295.2" rx="2.0" ry="1.1" transform="rotate(3 638.8 295.2)"/><ellipse cx="641.3" cy="292.3" rx="1.8" ry="0.8" transform="rotate(62 641.3 292.3)"/><ellipse cx="636.2" cy="294.2" rx="1.8" ry="0.8" transform="rotate(171 636.2 294.2)"/><ellipse cx="639.6" cy="299.3" rx="1.9" ry="0.9" transform="rotate(158 639.6 299.3)"/><ellipse cx="632.2" cy="292.2" rx="2.9" ry="1.5" transform="rotate(167 632.2 292.2)"/><ellipse cx="638.7" cy="297.7" rx="3.1" ry="1.4" transform="rotate(162 638.7 297.7)"/><ellipse cx="639.1" cy="300.2" rx="3.2" ry="1.3" transform="rotate(76 639.1 300.2)"/><ellipse cx="635.1" cy="299.5" rx="2.7" ry="0.7" transform="rotate(81 635.1 299.5)"/><ellipse cx="637.6" cy="301.2" rx="2.6" ry="1.4" transform="rotate(136 637.6 301.2)"/><ellipse cx="631.7" cy="298.8" rx="3.3" ry="0.7" transform="rotate(169 631.7 298.8)"/><ellipse cx="633.3" cy="300.3" rx="1.6" ry="1.0" transform="rotate(55 633.3 300.3)"/><ellipse cx="631.1" cy="300.2" rx="3.2" ry="1.2" transform="rotate(164 631.1 300.2)"/><ellipse cx="630.8" cy="298.1" rx="2.4" ry="1.3" transform="rotate(133 630.8 298.1)"/><ellipse cx="637.7" cy="304.1" rx="2.7" ry="1.3" transform="rotate(147 637.7 304.1)"/><ellipse cx="633.2" cy="303.1" rx="3.3" ry="1.4" transform="rotate(28 633.2 303.1)"/><ellipse cx="628.6" cy="301.4" rx="3.2" ry="0.9" transform="rotate(153 628.6 301.4)"/><ellipse cx="636.3" cy="301.6" rx="1.9" ry="1.2" transform="rotate(112 636.3 301.6)"/><ellipse cx="628.8" cy="304.5" rx="2.0" ry="1.4" transform="rotate(170 628.8 304.5)"/><ellipse cx="628.8" cy="303.4" rx="2.7" ry="1.4" transform="rotate(80 628.8 303.4)"/><ellipse cx="632.3" cy="302.3" rx="3.3" ry="1.0" transform="rotate(164 632.3 302.3)"/><ellipse cx="627.0" cy="305.5" rx="1.6" ry="1.3" transform="rotate(171 627.0 305.5)"/><ellipse cx="630.2" cy="305.2" rx="2.4" ry="0.8" transform="rotate(151 630.2 305.2)"/><ellipse cx="631.4" cy="306.8" rx="1.7" ry="0.8" transform="rotate(41 631.4 306.8)"/><ellipse cx="635.1" cy="306.0" rx="1.6" ry="1.0" transform="rotate(70 635.1 306.0)"/><ellipse cx="633.8" cy="310.0" rx="2.1" ry="1.3" transform="rotate(64 633.8 310.0)"/><ellipse cx="633.5" cy="308.8" rx="1.7" ry="1.1" transform="rotate(76 633.5 308.8)"/><ellipse cx="630.2" cy="308.8" rx="3.0" ry="1.0" transform="rotate(94 630.2 308.8)"/><ellipse cx="633.3" cy="310.7" rx="2.0" ry="0.8" transform="rotate(49 633.3 310.7)"/><ellipse cx="635.0" cy="309.8" rx="3.4" ry="1.5" transform="rotate(126 635.0 309.8)"/><ellipse cx="630.8" cy="307.4" rx="2.6" ry="1.5" transform="rotate(90 630.8 307.4)"/><ellipse cx="631.7" cy="309.9" rx="2.9" ry="0.8" transform="rotate(102 631.7 309.9)"/><ellipse cx="631.3" cy="307.9" rx="3.1" ry="0.9" transform="rotate(67 631.3 307.9)"/><ellipse cx="627.7" cy="306.9" rx="2.6" ry="1.1" transform="rotate(174 627.7 306.9)"/><ellipse cx="629.2" cy="311.9" rx="2.6" ry="0.8" transform="rotate(67 629.2 311.9)"/><ellipse cx="630.2" cy="304.7" rx="2.5" ry="1.1" transform="rotate(176 630.2 304.7)"/><ellipse cx="630.3" cy="309.2" rx="2.0" ry="1.2" transform="rotate(93 630.3 309.2)"/><ellipse cx="628.5" cy="308.3" rx="2.4" ry="1.2" transform="rotate(107 628.5 308.3)"/><ellipse cx="627.8" cy="304.8" rx="2.1" ry="1.2" transform="rotate(83 627.8 304.8)"/><ellipse cx="625.0" cy="312.5" rx="3.1" ry="1.2" transform="rotate(91 625.0 312.5)"/><ellipse cx="624.9" cy="306.0" rx="2.0" ry="1.0" transform="rotate(105 624.9 306.0)"/><ellipse cx="624.6" cy="307.6" rx="2.7" ry="1.5" transform="rotate(4 624.6 307.6)"/><ellipse cx="625.8" cy="309.4" rx="2.7" ry="1.2" transform="rotate(106 625.8 309.4)"/><ellipse cx="626.1" cy="314.1" rx="2.3" ry="1.3" transform="rotate(100 626.1 314.1)"/><ellipse cx="622.4" cy="308.1" rx="2.1" ry="0.8" transform="rotate(97 622.4 308.1)"/><ellipse cx="622.2" cy="314.6" rx="3.2" ry="1.2" transform="rotate(92 622.2 314.6)"/><ellipse cx="624.4" cy="307.9" rx="2.5" ry="1.4" transform="rotate(100 624.4 307.9)"/><ellipse cx="622.6" cy="315.2" rx="2.7" ry="1.2" transform="rotate(75 622.6 315.2)"/><ellipse cx="620.4" cy="314.9" rx="2.0" ry="1.4" transform="rotate(122 620.4 314.9)"/><ellipse cx="619.8" cy="309.5" rx="2.4" ry="1.3" transform="rotate(91 619.8 309.5)"/><ellipse cx="619.5" cy="312.3" rx="3.4" ry="1.1" transform="rotate(70 619.5 312.3)"/><ellipse cx="619.0" cy="313.2" rx="1.8" ry="1.1" transform="rotate(50 619.0 313.2)"/><ellipse cx="621.4" cy="312.1" rx="2.2" ry="0.9" transform="rotate(50 621.4 312.1)"/><ellipse cx="617.8" cy="312.0" rx="2.9" ry="1.2" transform="rotate(137 617.8 312.0)"/><ellipse cx="619.6" cy="310.4" rx="2.9" ry="0.9" transform="rotate(136 619.6 310.4)"/><ellipse cx="616.1" cy="314.9" rx="1.7" ry="1.4" transform="rotate(40 616.1 314.9)"/><ellipse cx="619.2" cy="307.7" rx="2.3" ry="0.8" transform="rotate(109 619.2 307.7)"/><ellipse cx="617.0" cy="311.3" rx="2.6" ry="1.2" transform="rotate(140 617.0 311.3)"/><ellipse cx="615.8" cy="312.8" rx="3.3" ry="1.1" transform="rotate(115 615.8 312.8)"/><ellipse cx="620.2" cy="307.8" rx="2.5" ry="1.2" transform="rotate(42 620.2 307.8)"/><ellipse cx="615.5" cy="315.2" rx="2.6" ry="1.1" transform="rotate(175 615.5 315.2)"/><ellipse cx="617.6" cy="307.6" rx="2.9" ry="1.0" transform="rotate(62 617.6 307.6)"/><ellipse cx="614.4" cy="306.6" rx="2.5" ry="1.2" transform="rotate(44 614.4 306.6)"/><ellipse cx="614.8" cy="314.8" rx="3.0" ry="0.8" transform="rotate(96 614.8 314.8)"/><ellipse cx="612.2" cy="307.9" rx="2.5" ry="1.4" transform="rotate(5 612.2 307.9)"/><ellipse cx="612.2" cy="307.1" rx="2.3" ry="0.7" transform="rotate(47 612.2 307.1)"/><ellipse cx="612.5" cy="308.4" rx="2.4" ry="0.9" transform="rotate(85 612.5 308.4)"/><ellipse cx="613.9" cy="309.8" rx="2.6" ry="1.2" transform="rotate(103 613.9 309.8)"/><ellipse cx="611.9" cy="312.1" rx="2.0" ry="1.5" transform="rotate(21 611.9 312.1)"/><ellipse cx="611.5" cy="307.6" rx="2.4" ry="0.9" transform="rotate(155 611.5 307.6)"/><ellipse cx="610.8" cy="307.4" rx="2.8" ry="0.8" transform="rotate(78 610.8 307.4)"/><ellipse cx="611.2" cy="305.8" rx="3.1" ry="1.4" transform="rotate(169 611.2 305.8)"/><ellipse cx="610.0" cy="305.3" rx="2.9" ry="1.0" transform="rotate(170 610.0 305.3)"/><ellipse cx="607.1" cy="308.4" rx="1.7" ry="1.0" transform="rotate(125 607.1 308.4)"/><ellipse cx="608.1" cy="312.1" rx="3.3" ry="1.3" transform="rotate(74 608.1 312.1)"/><ellipse cx="606.4" cy="310.4" rx="1.8" ry="1.4" transform="rotate(152 606.4 310.4)"/><ellipse cx="607.8" cy="312.2" rx="3.2" ry="0.7" transform="rotate(90 607.8 312.2)"/><ellipse cx="606.5" cy="306.5" rx="2.4" ry="1.1" transform="rotate(78 606.5 306.5)"/><ellipse cx="604.0" cy="310.9" rx="2.2" ry="0.9" transform="rotate(43 604.0 310.9)"/><ellipse cx="605.1" cy="306.7" rx="2.6" ry="1.3" transform="rotate(177 605.1 306.7)"/><ellipse cx="605.8" cy="306.1" rx="2.6" ry="0.7" transform="rotate(114 605.8 306.1)"/><ellipse cx="602.5" cy="303.9" rx="2.8" ry="1.0" transform="rotate(178 602.5 303.9)"/><ellipse cx="605.4" cy="306.6" rx="1.8" ry="0.9" transform="rotate(133 605.4 306.6)"/><ellipse cx="603.7" cy="310.7" rx="3.4" ry="0.8" transform="rotate(41 603.7 310.7)"/><ellipse cx="601.1" cy="309.1" rx="3.2" ry="0.9" transform="rotate(162 601.1 309.1)"/><ellipse cx="600.3" cy="309.7" rx="2.7" ry="0.9" transform="rotate(101 600.3 309.7)"/><ellipse cx="603.6" cy="312.7" rx="2.3" ry="0.9" transform="rotate(46 603.6 312.7)"/><ellipse cx="598.7" cy="311.1" rx="1.9" ry="1.3" transform="rotate(158 598.7 311.1)"/><ellipse cx="601.9" cy="304.1" rx="2.8" ry="1.4" transform="rotate(99 601.9 304.1)"/><ellipse cx="599.9" cy="308.5" rx="2.7" ry="1.4" transform="rotate(108 599.9 308.5)"/><ellipse cx="597.9" cy="310.8" rx="3.4" ry="1.3" transform="rotate(92 597.9 310.8)"/><ellipse cx="598.7" cy="306.5" rx="3.6" ry="1.2" transform="rotate(13 598.7 306.5)"/><ellipse cx="598.1" cy="308.6" rx="2.8" ry="0.9" transform="rotate(163 598.1 308.6)"/><ellipse cx="594.3" cy="308.2" rx="2.1" ry="1.4" transform="rotate(98 594.3 308.2)"/><ellipse cx="596.3" cy="308.8" rx="3.5" ry="1.2" transform="rotate(96 596.3 308.8)"/><ellipse cx="596.2" cy="307.1" rx="2.1" ry="1.1" transform="rotate(47 596.2 307.1)"/><ellipse cx="594.9" cy="304.3" rx="1.7" ry="1.2" transform="rotate(17 594.9 304.3)"/><ellipse cx="595.1" cy="312.4" rx="2.1" ry="1.1" transform="rotate(53 595.1 312.4)"/><ellipse cx="595.2" cy="310.6" rx="3.4" ry="0.7" transform="rotate(10 595.2 310.6)"/><ellipse cx="591.5" cy="312.1" rx="2.1" ry="1.2" transform="rotate(65 591.5 312.1)"/><ellipse cx="593.5" cy="308.5" rx="2.7" ry="1.2" transform="rotate(152 593.5 308.5)"/><ellipse cx="592.1" cy="306.0" rx="2.7" ry="1.4" transform="rotate(86 592.1 306.0)"/><ellipse cx="588.5" cy="312.0" rx="2.4" ry="1.0" transform="rotate(174 588.5 312.0)"/><ellipse cx="590.5" cy="309.2" rx="3.2" ry="1.2" transform="rotate(93 590.5 309.2)"/><ellipse cx="591.9" cy="309.9" rx="2.4" ry="0.7" transform="rotate(130 591.9 309.9)"/><ellipse cx="588.0" cy="310.7" rx="3.5" ry="1.3" transform="rotate(19 588.0 310.7)"/><ellipse cx="590.8" cy="306.6" rx="1.8" ry="1.4" transform="rotate(143 590.8 306.6)"/><ellipse cx="594.6" cy="307.9" rx="3.1" ry="1.2" transform="rotate(5 594.6 307.9)"/><ellipse cx="590.8" cy="309.4" rx="3.3" ry="1.1" transform="rotate(2 590.8 309.4)"/><ellipse cx="592.3" cy="309.1" rx="3.4" ry="1.4" transform="rotate(129 592.3 309.1)"/><ellipse cx="591.8" cy="303.1" rx="2.1" ry="1.2" transform="rotate(137 591.8 303.1)"/><ellipse cx="589.6" cy="308.6" rx="2.1" ry="1.3" transform="rotate(22 589.6 308.6)"/><ellipse cx="588.0" cy="304.5" rx="2.4" ry="0.8" transform="rotate(117 588.0 304.5)"/><ellipse cx="588.7" cy="304.8" rx="2.3" ry="1.4" transform="rotate(149 588.7 304.8)"/><ellipse cx="589.5" cy="303.3" rx="2.5" ry="0.8" transform="rotate(164 589.5 303.3)"/><ellipse cx="588.1" cy="304.2" rx="1.7" ry="1.5" transform="rotate(176 588.1 304.2)"/><ellipse cx="587.5" cy="308.2" rx="2.9" ry="1.1" transform="rotate(85 587.5 308.2)"/><ellipse cx="589.4" cy="303.7" rx="3.3" ry="1.2" transform="rotate(134 589.4 303.7)"/><ellipse cx="584.9" cy="306.4" rx="2.7" ry="0.9" transform="rotate(118 584.9 306.4)"/><ellipse cx="585.7" cy="303.0" rx="2.2" ry="1.0" transform="rotate(15 585.7 303.0)"/><ellipse cx="589.2" cy="301.0" rx="1.6" ry="1.0" transform="rotate(68 589.2 301.0)"/><ellipse cx="584.0" cy="307.5" rx="3.6" ry="0.8" transform="rotate(149 584.0 307.5)"/><ellipse cx="586.9" cy="303.1" rx="2.8" ry="1.0" transform="rotate(3 586.9 303.1)"/><ellipse cx="588.1" cy="302.4" rx="3.0" ry="1.5" transform="rotate(46 588.1 302.4)"/><ellipse cx="582.2" cy="304.9" rx="2.6" ry="0.9" transform="rotate(74 582.2 304.9)"/><ellipse cx="580.8" cy="305.6" rx="2.4" ry="1.4" transform="rotate(81 580.8 305.6)"/><ellipse cx="581.4" cy="302.3" rx="2.3" ry="1.3" transform="rotate(118 581.4 302.3)"/><ellipse cx="585.3" cy="299.4" rx="1.8" ry="1.4" transform="rotate(130 585.3 299.4)"/><ellipse cx="582.4" cy="302.5" rx="3.1" ry="0.7" transform="rotate(121 582.4 302.5)"/><ellipse cx="580.7" cy="301.3" rx="3.1" ry="1.3" transform="rotate(90 580.7 301.3)"/><ellipse cx="581.6" cy="300.8" rx="1.8" ry="1.1" transform="rotate(136 581.6 300.8)"/><ellipse cx="587.5" cy="300.1" rx="3.3" ry="0.7" transform="rotate(155 587.5 300.1)"/><ellipse cx="585.5" cy="299.1" rx="3.0" ry="1.2" transform="rotate(52 585.5 299.1)"/><ellipse cx="587.4" cy="298.6" rx="3.4" ry="1.5" transform="rotate(129 587.4 298.6)"/><ellipse cx="581.9" cy="298.0" rx="3.4" ry="0.8" transform="rotate(26 581.9 298.0)"/><ellipse cx="580.7" cy="299.7" rx="2.6" ry="1.0" transform="rotate(165 580.7 299.7)"/><ellipse cx="582.7" cy="298.4" rx="1.7" ry="1.1" transform="rotate(99 582.7 298.4)"/><ellipse cx="584.0" cy="296.5" rx="1.7" ry="1.0" transform="rotate(149 584.0 296.5)"/><ellipse cx="585.8" cy="296.5" rx="2.0" ry="1.5" transform="rotate(156 585.8 296.5)"/><ellipse cx="584.5" cy="295.9" rx="2.3" ry="1.4" transform="rotate(164 584.5 295.9)"/><ellipse cx="578.9" cy="294.0" rx="3.0" ry="0.8" transform="rotate(170 578.9 294.0)"/><ellipse cx="580.7" cy="287.4" rx="2.3" ry="0.7" transform="rotate(118 580.7 287.4)"/><ellipse cx="579.8" cy="288.1" rx="2.0" ry="1.2" transform="rotate(79 579.8 288.1)"/><ellipse cx="583.2" cy="286.9" rx="2.2" ry="1.3" transform="rotate(139 583.2 286.9)"/><ellipse cx="579.7" cy="295.0" rx="2.0" ry="1.0" transform="rotate(58 579.7 295.0)"/><ellipse cx="578.7" cy="287.3" rx="1.6" ry="1.1" transform="rotate(24 578.7 287.3)"/><ellipse cx="580.7" cy="288.9" rx="2.5" ry="1.5" transform="rotate(133 580.7 288.9)"/><ellipse cx="575.2" cy="288.6" rx="2.1" ry="0.9" transform="rotate(115 575.2 288.6)"/><ellipse cx="575.6" cy="292.2" rx="2.6" ry="1.3" transform="rotate(60 575.6 292.2)"/><ellipse cx="575.1" cy="293.9" rx="3.2" ry="1.1" transform="rotate(165 575.1 293.9)"/><ellipse cx="573.5" cy="288.6" rx="2.5" ry="1.5" transform="rotate(57 573.5 288.6)"/><ellipse cx="575.3" cy="289.5" rx="2.7" ry="1.4" transform="rotate(153 575.3 289.5)"/><ellipse cx="575.4" cy="286.2" rx="2.7" ry="1.0" transform="rotate(21 575.4 286.2)"/><ellipse cx="570.4" cy="292.2" rx="3.0" ry="1.2" transform="rotate(15 570.4 292.2)"/><ellipse cx="575.1" cy="287.5" rx="1.8" ry="1.0" transform="rotate(66 575.1 287.5)"/><ellipse cx="576.1" cy="288.7" rx="1.9" ry="1.5" transform="rotate(100 576.1 288.7)"/><ellipse cx="572.9" cy="286.0" rx="2.3" ry="1.1" transform="rotate(32 572.9 286.0)"/><ellipse cx="569.3" cy="290.2" rx="2.9" ry="1.5" transform="rotate(147 569.3 290.2)"/><ellipse cx="571.8" cy="288.8" rx="3.0" ry="1.0" transform="rotate(14 571.8 288.8)"/><ellipse cx="568.8" cy="287.1" rx="2.9" ry="0.7" transform="rotate(149 568.8 287.1)"/><ellipse cx="571.3" cy="283.7" rx="2.0" ry="0.9" transform="rotate(42 571.3 283.7)"/><ellipse cx="568.9" cy="288.8" rx="3.4" ry="1.1" transform="rotate(11 568.9 288.8)"/><ellipse cx="571.6" cy="283.7" rx="1.9" ry="0.8" transform="rotate(53 571.6 283.7)"/><ellipse cx="567.6" cy="283.7" rx="2.3" ry="1.1" transform="rotate(141 567.6 283.7)"/><ellipse cx="569.2" cy="284.5" rx="1.7" ry="1.1" transform="rotate(167 569.2 284.5)"/><ellipse cx="567.4" cy="287.9" rx="2.9" ry="1.1" transform="rotate(90 567.4 287.9)"/><ellipse cx="565.2" cy="288.0" rx="3.4" ry="1.5" transform="rotate(173 565.2 288.0)"/><ellipse cx="564.9" cy="289.7" rx="3.2" ry="0.9" transform="rotate(36 564.9 289.7)"/><ellipse cx="563.9" cy="289.9" rx="1.6" ry="1.3" transform="rotate(24 563.9 289.9)"/><ellipse cx="567.8" cy="285.2" rx="2.0" ry="1.4" transform="rotate(48 567.8 285.2)"/><ellipse cx="564.5" cy="289.9" rx="2.7" ry="1.2" transform="rotate(129 564.5 289.9)"/><ellipse cx="568.1" cy="284.3" rx="1.9" ry="0.9" transform="rotate(140 568.1 284.3)"/><ellipse cx="569.1" cy="285.2" rx="1.8" ry="1.2" transform="rotate(32 569.1 285.2)"/><ellipse cx="566.0" cy="283.6" rx="2.5" ry="1.1" transform="rotate(6 566.0 283.6)"/><ellipse cx="568.0" cy="285.3" rx="2.8" ry="0.8" transform="rotate(32 568.0 285.3)"/><ellipse cx="567.6" cy="282.0" rx="2.9" ry="0.9" transform="rotate(57 567.6 282.0)"/><ellipse cx="566.9" cy="283.4" rx="2.7" ry="0.8" transform="rotate(28 566.9 283.4)"/><ellipse cx="563.5" cy="284.4" rx="2.9" ry="0.8" transform="rotate(18 563.5 284.4)"/><ellipse cx="567.1" cy="279.4" rx="2.7" ry="0.7" transform="rotate(64 567.1 279.4)"/><ellipse cx="563.6" cy="284.7" rx="3.3" ry="0.7" transform="rotate(95 563.6 284.7)"/><ellipse cx="563.3" cy="282.8" rx="3.6" ry="1.1" transform="rotate(24 563.3 282.8)"/><ellipse cx="562.1" cy="284.3" rx="3.0" ry="1.4" transform="rotate(115 562.1 284.3)"/><ellipse cx="568.4" cy="280.9" rx="3.3" ry="1.4" transform="rotate(49 568.4 280.9)"/><ellipse cx="558.0" cy="279.7" rx="1.8" ry="1.4" transform="rotate(2 558.0 279.7)"/><ellipse cx="564.6" cy="280.2" rx="2.0" ry="1.1" transform="rotate(8 564.6 280.2)"/><ellipse cx="558.8" cy="282.6" rx="3.0" ry="1.0" transform="rotate(165 558.8 282.6)"/><ellipse cx="561.2" cy="278.0" rx="3.1" ry="1.1" transform="rotate(81 561.2 278.0)"/><ellipse cx="564.1" cy="275.2" rx="2.9" ry="1.1" transform="rotate(178 564.1 275.2)"/><ellipse cx="561.6" cy="276.5" rx="1.9" ry="1.0" transform="rotate(114 561.6 276.5)"/><ellipse cx="562.2" cy="272.9" rx="3.6" ry="1.2" transform="rotate(129 562.2 272.9)"/><ellipse cx="562.6" cy="274.0" rx="3.3" ry="1.1" transform="rotate(102 562.6 274.0)"/><ellipse cx="560.1" cy="277.8" rx="1.7" ry="0.8" transform="rotate(95 560.1 277.8)"/><ellipse cx="558.4" cy="273.3" rx="2.1" ry="0.8" transform="rotate(76 558.4 273.3)"/><ellipse cx="563.8" cy="274.2" rx="2.6" ry="1.2" transform="rotate(19 563.8 274.2)"/><ellipse cx="563.3" cy="273.3" rx="2.6" ry="0.8" transform="rotate(119 563.3 273.3)"/><ellipse cx="558.1" cy="270.8" rx="3.5" ry="1.2" transform="rotate(16 558.1 270.8)"/><ellipse cx="559.8" cy="273.8" rx="2.2" ry="0.8" transform="rotate(124 559.8 273.8)"/><ellipse cx="558.6" cy="274.3" rx="2.1" ry="1.5" transform="rotate(99 558.6 274.3)"/><ellipse cx="557.6" cy="272.9" rx="3.5" ry="1.3" transform="rotate(92 557.6 272.9)"/><ellipse cx="562.5" cy="269.8" rx="1.6" ry="0.9" transform="rotate(141 562.5 269.8)"/><ellipse cx="563.0" cy="270.9" rx="2.3" ry="1.5" transform="rotate(30 563.0 270.9)"/><ellipse cx="559.1" cy="269.6" rx="1.7" ry="1.2" transform="rotate(13 559.1 269.6)"/><ellipse cx="560.2" cy="270.5" rx="3.6" ry="1.1" transform="rotate(54 560.2 270.5)"/><ellipse cx="560.2" cy="270.6" rx="1.9" ry="1.0" transform="rotate(124 560.2 270.6)"/><ellipse cx="559.7" cy="269.3" rx="1.7" ry="1.3" transform="rotate(54 559.7 269.3)"/><ellipse cx="559.9" cy="266.1" rx="3.5" ry="1.1" transform="rotate(12 559.9 266.1)"/><ellipse cx="554.6" cy="267.6" rx="1.6" ry="0.9" transform="rotate(150 554.6 267.6)"/><ellipse cx="558.2" cy="268.1" rx="3.6" ry="0.9" transform="rotate(32 558.2 268.1)"/><ellipse cx="555.4" cy="264.5" rx="3.0" ry="0.7" transform="rotate(4 555.4 264.5)"/><ellipse cx="560.3" cy="265.2" rx="3.5" ry="0.8" transform="rotate(120 560.3 265.2)"/><ellipse cx="556.1" cy="267.5" rx="3.4" ry="1.0" transform="rotate(67 556.1 267.5)"/><ellipse cx="554.5" cy="265.2" rx="2.9" ry="0.7" transform="rotate(112 554.5 265.2)"/><ellipse cx="560.5" cy="262.7" rx="3.1" ry="1.2" transform="rotate(116 560.5 262.7)"/><ellipse cx="552.2" cy="262.4" rx="3.0" ry="1.0" transform="rotate(2 552.2 262.4)"/><ellipse cx="552.7" cy="266.2" rx="1.7" ry="1.2" transform="rotate(179 552.7 266.2)"/><ellipse cx="557.9" cy="264.5" rx="1.6" ry="0.8" transform="rotate(65 557.9 264.5)"/><ellipse cx="558.4" cy="262.4" rx="3.4" ry="1.5" transform="rotate(176 558.4 262.4)"/><ellipse cx="559.5" cy="260.0" rx="1.9" ry="1.1" transform="rotate(90 559.5 260.0)"/><ellipse cx="558.3" cy="259.8" rx="2.0" ry="1.3" transform="rotate(138 558.3 259.8)"/><ellipse cx="555.6" cy="262.1" rx="1.8" ry="1.3" transform="rotate(173 555.6 262.1)"/><ellipse cx="558.8" cy="258.5" rx="3.1" ry="1.4" transform="rotate(24 558.8 258.5)"/><ellipse cx="559.7" cy="261.4" rx="3.0" ry="1.0" transform="rotate(126 559.7 261.4)"/></g>
<g fill="#fff"><ellipse cx="600.0" cy="263.7" rx="1.2" ry="0.8" transform="rotate(34 600.0 263.7)"/><ellipse cx="603.3" cy="271.8" rx="1.5" ry="0.4" transform="rotate(127 603.3 271.8)"/><ellipse cx="627.9" cy="302.0" rx="1.4" ry="0.7" transform="rotate(33 627.9 302.0)"/><ellipse cx="664.2" cy="252.6" rx="1.0" ry="0.5" transform="rotate(32 664.2 252.6)"/><ellipse cx="598.8" cy="295.7" rx="0.7" ry="0.4" transform="rotate(37 598.8 295.7)"/><ellipse cx="707.6" cy="238.2" rx="1.4" ry="0.7" transform="rotate(24 707.6 238.2)"/><ellipse cx="625.4" cy="212.4" rx="0.7" ry="0.8" transform="rotate(79 625.4 212.4)"/><ellipse cx="710.7" cy="272.5" rx="1.7" ry="0.8" transform="rotate(75 710.7 272.5)"/><ellipse cx="626.8" cy="217.5" rx="0.8" ry="0.8" transform="rotate(86 626.8 217.5)"/><ellipse cx="754.0" cy="243.1" rx="1.0" ry="0.6" transform="rotate(56 754.0 243.1)"/><ellipse cx="793.2" cy="299.2" rx="2.6" ry="0.6" transform="rotate(68 793.2 299.2)"/><ellipse cx="605.7" cy="291.3" rx="1.0" ry="0.7" transform="rotate(85 605.7 291.3)"/><ellipse cx="655.3" cy="249.9" rx="1.5" ry="0.7" transform="rotate(72 655.3 249.9)"/><ellipse cx="736.6" cy="261.3" rx="0.6" ry="0.6" transform="rotate(125 736.6 261.3)"/><ellipse cx="754.2" cy="288.3" rx="1.6" ry="0.6" transform="rotate(148 754.2 288.3)"/><ellipse cx="608.8" cy="201.1" rx="1.1" ry="0.8" transform="rotate(63 608.8 201.1)"/><ellipse cx="809.8" cy="290.5" rx="2.8" ry="0.8" transform="rotate(140 809.8 290.5)"/><ellipse cx="790.2" cy="217.2" rx="1.5" ry="0.8" transform="rotate(72 790.2 217.2)"/><ellipse cx="743.0" cy="225.0" rx="1.1" ry="0.7" transform="rotate(96 743.0 225.0)"/><ellipse cx="702.2" cy="205.6" rx="0.8" ry="0.5" transform="rotate(85 702.2 205.6)"/><ellipse cx="705.6" cy="209.2" rx="1.4" ry="0.6" transform="rotate(102 705.6 209.2)"/><ellipse cx="587.6" cy="210.6" rx="0.8" ry="0.5" transform="rotate(146 587.6 210.6)"/><ellipse cx="769.7" cy="244.7" rx="1.3" ry="0.6" transform="rotate(14 769.7 244.7)"/><ellipse cx="643.1" cy="255.9" rx="1.0" ry="0.6" transform="rotate(167 643.1 255.9)"/><ellipse cx="661.6" cy="265.4" rx="2.3" ry="0.7" transform="rotate(93 661.6 265.4)"/><ellipse cx="737.7" cy="253.4" rx="1.0" ry="0.4" transform="rotate(77 737.7 253.4)"/><ellipse cx="764.2" cy="271.3" rx="1.6" ry="0.7" transform="rotate(8 764.2 271.3)"/><ellipse cx="742.4" cy="267.3" rx="1.1" ry="0.7" transform="rotate(28 742.4 267.3)"/><ellipse cx="683.5" cy="262.5" rx="1.5" ry="0.4" transform="rotate(132 683.5 262.5)"/><ellipse cx="818.8" cy="263.6" rx="1.0" ry="0.6" transform="rotate(61 818.8 263.6)"/><ellipse cx="773.0" cy="251.0" rx="1.3" ry="0.7" transform="rotate(147 773.0 251.0)"/><ellipse cx="748.6" cy="209.0" rx="0.7" ry="0.4" transform="rotate(91 748.6 209.0)"/><ellipse cx="653.2" cy="242.4" rx="0.7" ry="0.6" transform="rotate(22 653.2 242.4)"/><ellipse cx="819.2" cy="265.1" rx="0.9" ry="0.7" transform="rotate(72 819.2 265.1)"/><ellipse cx="590.6" cy="259.1" rx="2.7" ry="1.0" transform="rotate(10 590.6 259.1)"/><ellipse cx="602.1" cy="287.7" rx="1.3" ry="0.8" transform="rotate(94 602.1 287.7)"/><ellipse cx="609.1" cy="248.5" rx="1.0" ry="0.4" transform="rotate(120 609.1 248.5)"/><ellipse cx="582.8" cy="271.7" rx="0.6" ry="0.6" transform="rotate(62 582.8 271.7)"/><ellipse cx="635.9" cy="295.7" rx="1.1" ry="0.5" transform="rotate(30 635.9 295.7)"/><ellipse cx="668.4" cy="259.6" rx="1.5" ry="0.6" transform="rotate(125 668.4 259.6)"/><ellipse cx="808.4" cy="282.1" rx="1.3" ry="0.8" transform="rotate(82 808.4 282.1)"/><ellipse cx="746.7" cy="253.0" rx="1.7" ry="0.7" transform="rotate(177 746.7 253.0)"/><ellipse cx="610.5" cy="288.4" rx="0.7" ry="0.7" transform="rotate(134 610.5 288.4)"/><ellipse cx="730.1" cy="274.4" rx="2.5" ry="1.1" transform="rotate(30 730.1 274.4)"/><ellipse cx="793.9" cy="289.4" rx="1.4" ry="0.8" transform="rotate(162 793.9 289.4)"/><ellipse cx="770.4" cy="290.4" rx="1.3" ry="0.8" transform="rotate(113 770.4 290.4)"/><ellipse cx="649.7" cy="208.4" rx="1.2" ry="0.7" transform="rotate(40 649.7 208.4)"/><ellipse cx="758.1" cy="259.0" rx="1.0" ry="0.4" transform="rotate(97 758.1 259.0)"/><ellipse cx="598.8" cy="294.4" rx="1.5" ry="0.4" transform="rotate(9 598.8 294.4)"/><ellipse cx="568.4" cy="268.9" rx="0.9" ry="0.6" transform="rotate(17 568.4 268.9)"/><ellipse cx="611.4" cy="277.0" rx="2.3" ry="1.2" transform="rotate(168 611.4 277.0)"/><ellipse cx="795.7" cy="274.2" rx="2.2" ry="0.9" transform="rotate(151 795.7 274.2)"/><ellipse cx="563.3" cy="261.9" rx="0.7" ry="0.6" transform="rotate(139 563.3 261.9)"/><ellipse cx="702.8" cy="243.8" rx="1.0" ry="0.5" transform="rotate(137 702.8 243.8)"/><ellipse cx="808.0" cy="286.3" rx="1.1" ry="0.7" transform="rotate(164 808.0 286.3)"/><ellipse cx="647.3" cy="258.5" rx="1.2" ry="0.7" transform="rotate(162 647.3 258.5)"/><ellipse cx="654.6" cy="243.7" rx="1.6" ry="0.6" transform="rotate(165 654.6 243.7)"/><ellipse cx="712.9" cy="271.2" rx="1.0" ry="0.4" transform="rotate(46 712.9 271.2)"/><ellipse cx="812.0" cy="263.5" rx="1.4" ry="0.7" transform="rotate(72 812.0 263.5)"/><ellipse cx="702.5" cy="219.8" rx="1.5" ry="0.4" transform="rotate(67 702.5 219.8)"/><ellipse cx="799.7" cy="288.9" rx="0.6" ry="0.6" transform="rotate(63 799.7 288.9)"/><ellipse cx="637.9" cy="190.8" rx="1.0" ry="0.4" transform="rotate(169 637.9 190.8)"/><ellipse cx="625.4" cy="226.1" rx="1.4" ry="0.4" transform="rotate(14 625.4 226.1)"/><ellipse cx="598.7" cy="242.1" rx="1.2" ry="0.5" transform="rotate(98 598.7 242.1)"/><ellipse cx="586.0" cy="284.6" rx="1.3" ry="0.5" transform="rotate(34 586.0 284.6)"/><ellipse cx="666.4" cy="279.5" rx="1.2" ry="0.5" transform="rotate(171 666.4 279.5)"/><ellipse cx="629.3" cy="284.1" rx="0.7" ry="0.5" transform="rotate(160 629.3 284.1)"/><ellipse cx="703.0" cy="266.4" rx="1.3" ry="0.6" transform="rotate(28 703.0 266.4)"/><ellipse cx="703.6" cy="214.0" rx="1.1" ry="0.8" transform="rotate(84 703.6 214.0)"/><ellipse cx="762.6" cy="261.6" rx="1.6" ry="0.6" transform="rotate(54 762.6 261.6)"/><ellipse cx="786.6" cy="256.1" rx="0.9" ry="0.7" transform="rotate(23 786.6 256.1)"/><ellipse cx="675.1" cy="259.6" rx="0.7" ry="0.7" transform="rotate(19 675.1 259.6)"/><ellipse cx="793.4" cy="294.3" rx="0.8" ry="0.6" transform="rotate(11 793.4 294.3)"/><ellipse cx="758.5" cy="284.5" rx="0.7" ry="0.7" transform="rotate(126 758.5 284.5)"/><ellipse cx="603.7" cy="301.2" rx="1.4" ry="1.0" transform="rotate(35 603.7 301.2)"/><ellipse cx="789.7" cy="235.6" rx="1.4" ry="0.5" transform="rotate(24 789.7 235.6)"/><ellipse cx="681.0" cy="243.9" rx="0.7" ry="0.4" transform="rotate(160 681.0 243.9)"/><ellipse cx="717.2" cy="278.0" rx="2.1" ry="1.2" transform="rotate(175 717.2 278.0)"/><ellipse cx="618.2" cy="263.1" rx="0.9" ry="0.8" transform="rotate(69 618.2 263.1)"/><ellipse cx="620.4" cy="207.7" rx="1.0" ry="0.8" transform="rotate(65 620.4 207.7)"/><ellipse cx="645.6" cy="278.4" rx="1.6" ry="0.7" transform="rotate(7 645.6 278.4)"/><ellipse cx="768.3" cy="284.7" rx="0.7" ry="0.7" transform="rotate(105 768.3 284.7)"/><ellipse cx="670.2" cy="247.9" rx="0.7" ry="0.5" transform="rotate(168 670.2 247.9)"/><ellipse cx="639.7" cy="225.4" rx="1.5" ry="0.6" transform="rotate(107 639.7 225.4)"/><ellipse cx="696.1" cy="251.4" rx="1.6" ry="0.6" transform="rotate(89 696.1 251.4)"/><ellipse cx="579.5" cy="263.8" rx="0.8" ry="0.5" transform="rotate(40 579.5 263.8)"/><ellipse cx="616.3" cy="235.8" rx="0.9" ry="0.7" transform="rotate(18 616.3 235.8)"/><ellipse cx="786.1" cy="232.2" rx="1.4" ry="0.5" transform="rotate(66 786.1 232.2)"/><ellipse cx="810.9" cy="243.7" rx="1.2" ry="0.4" transform="rotate(27 810.9 243.7)"/><ellipse cx="790.4" cy="262.7" rx="0.9" ry="0.6" transform="rotate(141 790.4 262.7)"/><ellipse cx="708.4" cy="250.1" rx="0.9" ry="0.5" transform="rotate(122 708.4 250.1)"/><ellipse cx="651.9" cy="240.3" rx="1.1" ry="0.8" transform="rotate(42 651.9 240.3)"/><ellipse cx="781.9" cy="298.6" rx="0.7" ry="0.6" transform="rotate(152 781.9 298.6)"/><ellipse cx="646.9" cy="268.0" rx="1.4" ry="0.4" transform="rotate(49 646.9 268.0)"/><ellipse cx="701.9" cy="220.0" rx="1.5" ry="0.4" transform="rotate(63 701.9 220.0)"/><ellipse cx="766.5" cy="270.1" rx="1.0" ry="0.7" transform="rotate(76 766.5 270.1)"/><ellipse cx="571.1" cy="253.9" rx="1.2" ry="0.5" transform="rotate(25 571.1 253.9)"/><ellipse cx="610.9" cy="268.1" rx="0.9" ry="0.7" transform="rotate(75 610.9 268.1)"/><ellipse cx="683.4" cy="257.2" rx="2.3" ry="1.1" transform="rotate(74 683.4 257.2)"/><ellipse cx="637.2" cy="270.7" rx="0.7" ry="0.5" transform="rotate(11 637.2 270.7)"/><ellipse cx="783.8" cy="209.2" rx="0.7" ry="0.5" transform="rotate(123 783.8 209.2)"/><ellipse cx="705.6" cy="219.9" rx="0.9" ry="0.7" transform="rotate(32 705.6 219.9)"/><ellipse cx="737.8" cy="244.9" rx="1.2" ry="0.4" transform="rotate(135 737.8 244.9)"/><ellipse cx="631.9" cy="291.7" rx="2.5" ry="1.2" transform="rotate(178 631.9 291.7)"/><ellipse cx="704.8" cy="196.9" rx="0.8" ry="0.5" transform="rotate(7 704.8 196.9)"/><ellipse cx="691.7" cy="268.3" rx="1.3" ry="0.4" transform="rotate(175 691.7 268.3)"/><ellipse cx="640.3" cy="272.6" rx="0.9" ry="0.5" transform="rotate(105 640.3 272.6)"/><ellipse cx="677.0" cy="240.7" rx="1.4" ry="0.4" transform="rotate(38 677.0 240.7)"/><ellipse cx="589.5" cy="247.0" rx="1.5" ry="0.4" transform="rotate(81 589.5 247.0)"/><ellipse cx="764.6" cy="214.3" rx="0.8" ry="0.7" transform="rotate(63 764.6 214.3)"/><ellipse cx="637.8" cy="243.7" rx="0.9" ry="0.4" transform="rotate(91 637.8 243.7)"/><ellipse cx="724.8" cy="225.4" rx="0.9" ry="0.4" transform="rotate(85 724.8 225.4)"/><ellipse cx="637.6" cy="244.8" rx="1.2" ry="0.5" transform="rotate(38 637.6 244.8)"/><ellipse cx="607.6" cy="303.8" rx="0.9" ry="0.5" transform="rotate(62 607.6 303.8)"/><ellipse cx="704.7" cy="259.9" rx="1.0" ry="0.4" transform="rotate(164 704.7 259.9)"/><ellipse cx="601.3" cy="280.1" rx="1.5" ry="0.4" transform="rotate(93 601.3 280.1)"/><ellipse cx="687.6" cy="273.7" rx="1.4" ry="0.4" transform="rotate(118 687.6 273.7)"/><ellipse cx="771.8" cy="278.7" rx="0.6" ry="0.8" transform="rotate(117 771.8 278.7)"/><ellipse cx="622.1" cy="258.7" rx="1.4" ry="0.7" transform="rotate(177 622.1 258.7)"/><ellipse cx="735.0" cy="249.8" rx="0.8" ry="0.4" transform="rotate(160 735.0 249.8)"/><ellipse cx="606.5" cy="262.0" rx="1.4" ry="0.8" transform="rotate(2 606.5 262.0)"/><ellipse cx="767.8" cy="273.8" rx="1.8" ry="1.0" transform="rotate(37 767.8 273.8)"/><ellipse cx="601.4" cy="241.5" rx="0.9" ry="0.4" transform="rotate(38 601.4 241.5)"/><ellipse cx="647.3" cy="194.5" rx="1.0" ry="0.4" transform="rotate(53 647.3 194.5)"/><ellipse cx="567.2" cy="277.7" rx="0.7" ry="0.7" transform="rotate(175 567.2 277.7)"/><ellipse cx="577.8" cy="281.0" rx="1.0" ry="0.5" transform="rotate(63 577.8 281.0)"/><ellipse cx="618.4" cy="302.4" rx="1.0" ry="0.6" transform="rotate(19 618.4 302.4)"/><ellipse cx="716.8" cy="251.1" rx="0.9" ry="0.4" transform="rotate(105 716.8 251.1)"/><ellipse cx="802.9" cy="259.1" rx="0.8" ry="0.7" transform="rotate(136 802.9 259.1)"/><ellipse cx="808.9" cy="257.1" rx="1.5" ry="0.8" transform="rotate(5 808.9 257.1)"/><ellipse cx="774.8" cy="282.8" rx="1.3" ry="0.4" transform="rotate(168 774.8 282.8)"/><ellipse cx="743.0" cy="261.2" rx="0.8" ry="0.4" transform="rotate(28 743.0 261.2)"/><ellipse cx="731.4" cy="267.3" rx="1.5" ry="0.7" transform="rotate(168 731.4 267.3)"/><ellipse cx="611.4" cy="262.8" rx="1.0" ry="0.4" transform="rotate(106 611.4 262.8)"/><ellipse cx="753.1" cy="223.6" rx="1.2" ry="0.6" transform="rotate(99 753.1 223.6)"/><ellipse cx="708.8" cy="246.9" rx="0.9" ry="0.5" transform="rotate(48 708.8 246.9)"/><ellipse cx="629.8" cy="200.5" rx="1.2" ry="0.5" transform="rotate(145 629.8 200.5)"/><ellipse cx="643.2" cy="254.2" rx="1.2" ry="0.8" transform="rotate(12 643.2 254.2)"/><ellipse cx="669.7" cy="274.2" rx="0.9" ry="0.4" transform="rotate(41 669.7 274.2)"/><ellipse cx="715.6" cy="258.0" rx="1.6" ry="0.6" transform="rotate(116 715.6 258.0)"/><ellipse cx="807.3" cy="254.5" rx="1.9" ry="1.0" transform="rotate(123 807.3 254.5)"/><ellipse cx="769.9" cy="286.9" rx="0.8" ry="0.7" transform="rotate(127 769.9 286.9)"/><ellipse cx="766.2" cy="243.9" rx="0.8" ry="0.5" transform="rotate(10 766.2 243.9)"/><ellipse cx="736.2" cy="288.0" rx="1.9" ry="0.7" transform="rotate(136 736.2 288.0)"/><ellipse cx="789.6" cy="274.0" rx="1.4" ry="1.0" transform="rotate(118 789.6 274.0)"/><ellipse cx="568.4" cy="276.7" rx="0.9" ry="0.7" transform="rotate(166 568.4 276.7)"/><ellipse cx="707.3" cy="261.4" rx="1.6" ry="0.6" transform="rotate(88 707.3 261.4)"/><ellipse cx="588.8" cy="242.8" rx="1.3" ry="0.6" transform="rotate(43 588.8 242.8)"/><ellipse cx="609.4" cy="279.1" rx="0.8" ry="0.6" transform="rotate(21 609.4 279.1)"/><ellipse cx="602.2" cy="223.5" rx="1.6" ry="0.4" transform="rotate(92 602.2 223.5)"/><ellipse cx="641.2" cy="224.8" rx="1.2" ry="0.4" transform="rotate(120 641.2 224.8)"/><ellipse cx="804.3" cy="296.7" rx="0.9" ry="0.4" transform="rotate(78 804.3 296.7)"/><ellipse cx="805.4" cy="269.4" rx="1.4" ry="0.6" transform="rotate(117 805.4 269.4)"/><ellipse cx="606.5" cy="256.5" rx="1.3" ry="0.8" transform="rotate(180 606.5 256.5)"/><ellipse cx="601.4" cy="248.0" rx="1.3" ry="0.4" transform="rotate(11 601.4 248.0)"/><ellipse cx="804.1" cy="279.4" rx="0.8" ry="0.4" transform="rotate(80 804.1 279.4)"/><ellipse cx="741.6" cy="239.3" rx="0.7" ry="0.8" transform="rotate(43 741.6 239.3)"/><ellipse cx="782.6" cy="290.2" rx="1.5" ry="0.4" transform="rotate(78 782.6 290.2)"/><ellipse cx="654.2" cy="278.4" rx="1.6" ry="0.6" transform="rotate(165 654.2 278.4)"/><ellipse cx="628.3" cy="301.4" rx="2.3" ry="1.0" transform="rotate(139 628.3 301.4)"/><ellipse cx="594.9" cy="255.9" rx="1.0" ry="0.5" transform="rotate(74 594.9 255.9)"/><ellipse cx="575.5" cy="272.4" rx="0.6" ry="0.7" transform="rotate(170 575.5 272.4)"/><ellipse cx="758.4" cy="238.3" rx="1.4" ry="0.4" transform="rotate(64 758.4 238.3)"/><ellipse cx="616.6" cy="254.1" rx="1.2" ry="0.4" transform="rotate(61 616.6 254.1)"/><ellipse cx="760.2" cy="234.2" rx="0.7" ry="0.5" transform="rotate(47 760.2 234.2)"/><ellipse cx="772.8" cy="284.1" rx="1.0" ry="0.6" transform="rotate(64 772.8 284.1)"/><ellipse cx="660.5" cy="210.3" rx="1.0" ry="0.5" transform="rotate(20 660.5 210.3)"/><ellipse cx="768.0" cy="233.5" rx="1.1" ry="0.5" transform="rotate(111 768.0 233.5)"/><ellipse cx="776.9" cy="239.2" rx="1.4" ry="0.6" transform="rotate(22 776.9 239.2)"/><ellipse cx="768.0" cy="263.4" rx="0.6" ry="0.7" transform="rotate(135 768.0 263.4)"/><ellipse cx="609.8" cy="274.5" rx="2.7" ry="0.7" transform="rotate(117 609.8 274.5)"/><ellipse cx="810.1" cy="281.5" rx="1.0" ry="0.4" transform="rotate(141 810.1 281.5)"/><ellipse cx="685.9" cy="207.8" rx="0.7" ry="0.7" transform="rotate(90 685.9 207.8)"/><ellipse cx="654.5" cy="224.4" rx="0.9" ry="0.5" transform="rotate(92 654.5 224.4)"/><ellipse cx="650.8" cy="259.4" rx="1.2" ry="0.8" transform="rotate(65 650.8 259.4)"/><ellipse cx="572.1" cy="272.8" rx="2.7" ry="1.1" transform="rotate(38 572.1 272.8)"/><ellipse cx="591.1" cy="252.1" rx="0.9" ry="0.5" transform="rotate(10 591.1 252.1)"/><ellipse cx="688.3" cy="253.0" rx="1.1" ry="0.7" transform="rotate(166 688.3 253.0)"/><ellipse cx="792.8" cy="236.0" rx="1.2" ry="0.5" transform="rotate(82 792.8 236.0)"/><ellipse cx="583.6" cy="289.1" rx="0.8" ry="0.7" transform="rotate(34 583.6 289.1)"/><ellipse cx="676.1" cy="244.7" rx="1.5" ry="0.6" transform="rotate(98 676.1 244.7)"/><ellipse cx="587.4" cy="216.6" rx="1.1" ry="0.5" transform="rotate(162 587.4 216.6)"/><ellipse cx="612.1" cy="229.1" rx="0.9" ry="0.7" transform="rotate(89 612.1 229.1)"/><ellipse cx="617.5" cy="295.6" rx="1.0" ry="0.8" transform="rotate(158 617.5 295.6)"/><ellipse cx="724.0" cy="253.8" rx="1.0" ry="0.6" transform="rotate(41 724.0 253.8)"/><ellipse cx="754.6" cy="249.4" rx="1.5" ry="0.5" transform="rotate(25 754.6 249.4)"/><ellipse cx="585.6" cy="241.8" rx="1.4" ry="0.5" transform="rotate(64 585.6 241.8)"/><ellipse cx="654.0" cy="211.9" rx="0.9" ry="0.7" transform="rotate(22 654.0 211.9)"/><ellipse cx="692.8" cy="265.2" rx="1.4" ry="0.5" transform="rotate(11 692.8 265.2)"/><ellipse cx="566.5" cy="259.5" rx="1.0" ry="0.6" transform="rotate(83 566.5 259.5)"/><ellipse cx="613.4" cy="303.1" rx="0.7" ry="0.5" transform="rotate(76 613.4 303.1)"/><ellipse cx="786.4" cy="283.5" rx="1.5" ry="0.7" transform="rotate(31 786.4 283.5)"/><ellipse cx="640.8" cy="288.1" rx="1.5" ry="0.8" transform="rotate(103 640.8 288.1)"/><ellipse cx="790.1" cy="247.6" rx="0.8" ry="0.8" transform="rotate(124 790.1 247.6)"/><ellipse cx="694.6" cy="187.8" rx="1.2" ry="0.5" transform="rotate(152 694.6 187.8)"/><ellipse cx="763.3" cy="267.9" rx="2.2" ry="1.0" transform="rotate(46 763.3 267.9)"/><ellipse cx="738.8" cy="235.1" rx="1.3" ry="0.7" transform="rotate(39 738.8 235.1)"/><ellipse cx="774.1" cy="259.2" rx="1.9" ry="0.5" transform="rotate(171 774.1 259.2)"/><ellipse cx="717.2" cy="282.6" rx="1.0" ry="0.5" transform="rotate(2 717.2 282.6)"/><ellipse cx="660.1" cy="255.1" rx="0.6" ry="0.5" transform="rotate(64 660.1 255.1)"/><ellipse cx="791.5" cy="260.7" rx="0.9" ry="0.8" transform="rotate(125 791.5 260.7)"/><ellipse cx="795.1" cy="229.3" rx="1.4" ry="0.4" transform="rotate(153 795.1 229.3)"/><ellipse cx="764.6" cy="295.1" rx="0.6" ry="0.5" transform="rotate(22 764.6 295.1)"/><ellipse cx="572.2" cy="249.0" rx="1.1" ry="0.4" transform="rotate(34 572.2 249.0)"/><ellipse cx="727.6" cy="260.4" rx="1.5" ry="0.4" transform="rotate(68 727.6 260.4)"/><ellipse cx="621.3" cy="206.0" rx="1.3" ry="0.5" transform="rotate(177 621.3 206.0)"/><ellipse cx="642.8" cy="273.4" rx="0.7" ry="0.8" transform="rotate(45 642.8 273.4)"/><ellipse cx="756.9" cy="219.9" rx="1.1" ry="0.4" transform="rotate(141 756.9 219.9)"/><ellipse cx="702.1" cy="256.4" rx="0.7" ry="0.8" transform="rotate(145 702.1 256.4)"/><ellipse cx="628.6" cy="230.2" rx="1.3" ry="0.4" transform="rotate(84 628.6 230.2)"/><ellipse cx="760.8" cy="225.3" rx="1.1" ry="0.4" transform="rotate(131 760.8 225.3)"/><ellipse cx="777.2" cy="207.7" rx="1.0" ry="0.4" transform="rotate(153 777.2 207.7)"/><ellipse cx="815.3" cy="257.4" rx="1.0" ry="0.6" transform="rotate(111 815.3 257.4)"/><ellipse cx="786.5" cy="216.1" rx="1.0" ry="0.4" transform="rotate(56 786.5 216.1)"/><ellipse cx="604.0" cy="272.0" rx="1.4" ry="0.6" transform="rotate(147 604.0 272.0)"/><ellipse cx="782.5" cy="290.4" rx="2.1" ry="0.7" transform="rotate(68 782.5 290.4)"/><ellipse cx="767.6" cy="254.0" rx="0.8" ry="0.4" transform="rotate(159 767.6 254.0)"/><ellipse cx="663.9" cy="273.7" rx="1.2" ry="0.7" transform="rotate(136 663.9 273.7)"/><ellipse cx="806.8" cy="301.0" rx="1.8" ry="0.8" transform="rotate(1 806.8 301.0)"/><ellipse cx="632.4" cy="296.2" rx="1.1" ry="0.4" transform="rotate(97 632.4 296.2)"/><ellipse cx="734.2" cy="288.5" rx="1.3" ry="0.4" transform="rotate(61 734.2 288.5)"/><ellipse cx="621.5" cy="290.6" rx="0.7" ry="0.6" transform="rotate(52 621.5 290.6)"/><ellipse cx="788.9" cy="271.4" rx="0.7" ry="0.8" transform="rotate(130 788.9 271.4)"/><ellipse cx="622.3" cy="296.8" rx="1.4" ry="0.4" transform="rotate(92 622.3 296.8)"/><ellipse cx="588.6" cy="262.1" rx="0.6" ry="0.8" transform="rotate(111 588.6 262.1)"/><ellipse cx="689.0" cy="253.7" rx="1.1" ry="0.7" transform="rotate(37 689.0 253.7)"/><ellipse cx="568.5" cy="249.8" rx="0.6" ry="0.4" transform="rotate(86 568.5 249.8)"/><ellipse cx="624.7" cy="287.4" rx="1.3" ry="0.4" transform="rotate(104 624.7 287.4)"/><ellipse cx="762.7" cy="260.2" rx="0.7" ry="0.7" transform="rotate(20 762.7 260.2)"/><ellipse cx="621.1" cy="266.4" rx="0.9" ry="0.7" transform="rotate(108 621.1 266.4)"/><ellipse cx="624.8" cy="285.0" rx="0.7" ry="0.5" transform="rotate(12 624.8 285.0)"/><ellipse cx="791.9" cy="278.5" rx="2.0" ry="0.8" transform="rotate(131 791.9 278.5)"/><ellipse cx="790.5" cy="221.0" rx="1.2" ry="0.6" transform="rotate(173 790.5 221.0)"/><ellipse cx="798.0" cy="246.8" rx="1.3" ry="0.7" transform="rotate(128 798.0 246.8)"/><ellipse cx="718.6" cy="275.6" rx="1.7" ry="0.9" transform="rotate(28 718.6 275.6)"/><ellipse cx="643.9" cy="231.9" rx="0.9" ry="0.6" transform="rotate(164 643.9 231.9)"/><ellipse cx="748.4" cy="274.8" rx="1.8" ry="0.7" transform="rotate(120 748.4 274.8)"/><ellipse cx="717.4" cy="226.7" rx="1.0" ry="0.5" transform="rotate(143 717.4 226.7)"/><ellipse cx="804.9" cy="254.2" rx="0.7" ry="0.6" transform="rotate(5 804.9 254.2)"/><ellipse cx="702.6" cy="239.2" rx="0.8" ry="0.6" transform="rotate(21 702.6 239.2)"/><ellipse cx="621.4" cy="204.4" rx="1.3" ry="0.7" transform="rotate(156 621.4 204.4)"/><ellipse cx="695.8" cy="263.7" rx="0.7" ry="0.7" transform="rotate(77 695.8 263.7)"/><ellipse cx="648.3" cy="263.3" rx="1.6" ry="0.4" transform="rotate(123 648.3 263.3)"/><ellipse cx="772.6" cy="209.5" rx="1.1" ry="0.6" transform="rotate(110 772.6 209.5)"/><ellipse cx="749.5" cy="209.0" rx="1.1" ry="0.7" transform="rotate(158 749.5 209.0)"/><ellipse cx="700.1" cy="248.5" rx="1.3" ry="0.4" transform="rotate(127 700.1 248.5)"/><ellipse cx="621.9" cy="260.7" rx="1.2" ry="0.4" transform="rotate(25 621.9 260.7)"/><ellipse cx="812.4" cy="251.8" rx="1.5" ry="0.4" transform="rotate(80 812.4 251.8)"/><ellipse cx="627.7" cy="264.8" rx="1.6" ry="0.9" transform="rotate(76 627.7 264.8)"/><ellipse cx="611.7" cy="228.6" rx="1.4" ry="0.5" transform="rotate(177 611.7 228.6)"/><ellipse cx="618.4" cy="227.4" rx="1.0" ry="0.7" transform="rotate(6 618.4 227.4)"/><ellipse cx="770.5" cy="281.4" rx="0.6" ry="0.5" transform="rotate(27 770.5 281.4)"/><ellipse cx="673.3" cy="258.0" rx="0.9" ry="0.6" transform="rotate(142 673.3 258.0)"/><ellipse cx="656.8" cy="235.3" rx="1.6" ry="0.6" transform="rotate(85 656.8 235.3)"/><ellipse cx="600.1" cy="232.0" rx="0.8" ry="0.5" transform="rotate(64 600.1 232.0)"/><ellipse cx="756.2" cy="286.5" rx="0.9" ry="0.7" transform="rotate(14 756.2 286.5)"/><ellipse cx="788.4" cy="222.4" rx="1.4" ry="0.6" transform="rotate(168 788.4 222.4)"/><ellipse cx="662.0" cy="271.8" rx="0.8" ry="0.7" transform="rotate(2 662.0 271.8)"/><ellipse cx="776.8" cy="253.9" rx="1.2" ry="0.7" transform="rotate(25 776.8 253.9)"/><ellipse cx="652.6" cy="244.9" rx="0.7" ry="0.6" transform="rotate(177 652.6 244.9)"/><ellipse cx="777.4" cy="219.1" rx="1.6" ry="0.7" transform="rotate(107 777.4 219.1)"/><ellipse cx="599.9" cy="270.2" rx="1.5" ry="0.7" transform="rotate(71 599.9 270.2)"/><ellipse cx="789.4" cy="301.0" rx="1.2" ry="0.6" transform="rotate(94 789.4 301.0)"/><ellipse cx="747.2" cy="242.6" rx="0.7" ry="0.6" transform="rotate(24 747.2 242.6)"/><ellipse cx="628.9" cy="301.1" rx="0.7" ry="0.7" transform="rotate(54 628.9 301.1)"/><ellipse cx="790.8" cy="234.2" rx="0.9" ry="0.7" transform="rotate(45 790.8 234.2)"/><ellipse cx="641.2" cy="236.8" rx="1.4" ry="0.4" transform="rotate(24 641.2 236.8)"/><ellipse cx="799.9" cy="282.6" rx="1.9" ry="0.5" transform="rotate(42 799.9 282.6)"/><ellipse cx="569.2" cy="272.1" rx="0.6" ry="0.7" transform="rotate(166 569.2 272.1)"/><ellipse cx="783.7" cy="234.1" rx="1.5" ry="0.4" transform="rotate(40 783.7 234.1)"/><ellipse cx="677.2" cy="255.6" rx="1.5" ry="0.7" transform="rotate(96 677.2 255.6)"/><ellipse cx="671.8" cy="254.8" rx="1.8" ry="1.2" transform="rotate(88 671.8 254.8)"/><ellipse cx="749.4" cy="260.4" rx="1.5" ry="0.4" transform="rotate(9 749.4 260.4)"/><ellipse cx="688.0" cy="246.7" rx="1.2" ry="0.5" transform="rotate(3 688.0 246.7)"/><ellipse cx="655.5" cy="178.1" rx="1.4" ry="0.6" transform="rotate(118 655.5 178.1)"/><ellipse cx="605.3" cy="301.4" rx="0.8" ry="0.5" transform="rotate(51 605.3 301.4)"/><ellipse cx="659.6" cy="270.2" rx="1.2" ry="0.7" transform="rotate(117 659.6 270.2)"/><ellipse cx="625.9" cy="268.0" rx="1.1" ry="0.6" transform="rotate(123 625.9 268.0)"/><ellipse cx="752.3" cy="261.5" rx="1.8" ry="0.7" transform="rotate(86 752.3 261.5)"/><ellipse cx="801.3" cy="301.2" rx="1.5" ry="0.7" transform="rotate(168 801.3 301.2)"/><ellipse cx="656.4" cy="285.4" rx="1.3" ry="0.5" transform="rotate(91 656.4 285.4)"/><ellipse cx="585.9" cy="284.5" rx="1.3" ry="0.5" transform="rotate(160 585.9 284.5)"/><ellipse cx="724.3" cy="224.6" rx="0.8" ry="0.4" transform="rotate(52 724.3 224.6)"/><ellipse cx="639.1" cy="189.8" rx="1.2" ry="0.5" transform="rotate(123 639.1 189.8)"/><ellipse cx="618.1" cy="265.5" rx="0.9" ry="0.4" transform="rotate(180 618.1 265.5)"/><ellipse cx="610.3" cy="226.9" rx="0.9" ry="0.7" transform="rotate(69 610.3 226.9)"/><ellipse cx="741.1" cy="289.7" rx="2.8" ry="0.7" transform="rotate(166 741.1 289.7)"/><ellipse cx="800.9" cy="255.0" rx="1.0" ry="0.7" transform="rotate(109 800.9 255.0)"/><ellipse cx="765.1" cy="295.6" rx="2.0" ry="0.9" transform="rotate(177 765.1 295.6)"/><ellipse cx="589.2" cy="278.9" rx="2.4" ry="0.8" transform="rotate(35 589.2 278.9)"/><ellipse cx="574.7" cy="283.1" rx="1.6" ry="0.8" transform="rotate(1 574.7 283.1)"/><ellipse cx="591.6" cy="244.9" rx="1.0" ry="0.4" transform="rotate(48 591.6 244.9)"/><ellipse cx="670.0" cy="277.9" rx="1.4" ry="0.5" transform="rotate(44 670.0 277.9)"/><ellipse cx="628.2" cy="301.0" rx="1.9" ry="0.6" transform="rotate(24 628.2 301.0)"/><ellipse cx="719.2" cy="251.3" rx="1.0" ry="0.6" transform="rotate(159 719.2 251.3)"/><ellipse cx="596.9" cy="298.4" rx="2.0" ry="0.7" transform="rotate(141 596.9 298.4)"/><ellipse cx="799.2" cy="303.3" rx="2.3" ry="0.6" transform="rotate(96 799.2 303.3)"/><ellipse cx="710.0" cy="210.3" rx="1.4" ry="0.5" transform="rotate(56 710.0 210.3)"/><ellipse cx="703.1" cy="268.3" rx="2.6" ry="1.0" transform="rotate(157 703.1 268.3)"/><ellipse cx="737.5" cy="266.4" rx="1.5" ry="0.5" transform="rotate(164 737.5 266.4)"/><ellipse cx="729.7" cy="247.3" rx="1.0" ry="0.4" transform="rotate(102 729.7 247.3)"/><ellipse cx="602.1" cy="298.1" rx="1.5" ry="0.9" transform="rotate(157 602.1 298.1)"/><ellipse cx="637.4" cy="282.1" rx="2.4" ry="0.7" transform="rotate(31 637.4 282.1)"/><ellipse cx="778.3" cy="237.1" rx="0.9" ry="0.7" transform="rotate(178 778.3 237.1)"/><ellipse cx="792.4" cy="273.0" rx="1.0" ry="0.8" transform="rotate(103 792.4 273.0)"/><ellipse cx="649.6" cy="248.6" rx="1.0" ry="0.5" transform="rotate(32 649.6 248.6)"/><ellipse cx="605.5" cy="262.4" rx="2.5" ry="0.6" transform="rotate(176 605.5 262.4)"/><ellipse cx="621.5" cy="297.2" rx="1.1" ry="0.6" transform="rotate(123 621.5 297.2)"/><ellipse cx="794.0" cy="245.9" rx="1.1" ry="0.4" transform="rotate(109 794.0 245.9)"/><ellipse cx="589.4" cy="211.4" rx="0.7" ry="0.5" transform="rotate(138 589.4 211.4)"/><ellipse cx="590.3" cy="237.2" rx="0.8" ry="0.5" transform="rotate(47 590.3 237.2)"/><ellipse cx="619.4" cy="257.9" rx="0.7" ry="0.5" transform="rotate(66 619.4 257.9)"/><ellipse cx="704.1" cy="209.8" rx="1.1" ry="0.7" transform="rotate(174 704.1 209.8)"/><ellipse cx="587.2" cy="296.4" rx="2.7" ry="0.8" transform="rotate(107 587.2 296.4)"/><ellipse cx="727.3" cy="279.1" rx="1.1" ry="0.6" transform="rotate(130 727.3 279.1)"/><ellipse cx="772.7" cy="291.8" rx="2.7" ry="0.6" transform="rotate(9 772.7 291.8)"/><ellipse cx="652.3" cy="223.6" rx="0.8" ry="0.6" transform="rotate(152 652.3 223.6)"/><ellipse cx="811.4" cy="287.4" rx="0.8" ry="0.4" transform="rotate(156 811.4 287.4)"/><ellipse cx="647.4" cy="227.0" rx="1.5" ry="0.6" transform="rotate(177 647.4 227.0)"/><ellipse cx="605.6" cy="287.2" rx="2.3" ry="0.8" transform="rotate(152 605.6 287.2)"/><ellipse cx="577.4" cy="237.2" rx="0.8" ry="0.6" transform="rotate(140 577.4 237.2)"/><ellipse cx="770.8" cy="230.6" rx="0.9" ry="0.7" transform="rotate(67 770.8 230.6)"/><ellipse cx="799.9" cy="291.9" rx="1.9" ry="0.7" transform="rotate(64 799.9 291.9)"/><ellipse cx="674.2" cy="194.9" rx="0.7" ry="0.4" transform="rotate(35 674.2 194.9)"/><ellipse cx="668.7" cy="195.2" rx="1.2" ry="0.6" transform="rotate(50 668.7 195.2)"/><ellipse cx="747.6" cy="249.0" rx="1.5" ry="0.6" transform="rotate(25 747.6 249.0)"/><ellipse cx="639.1" cy="298.3" rx="0.6" ry="0.5" transform="rotate(157 639.1 298.3)"/><ellipse cx="685.2" cy="205.8" rx="1.6" ry="0.7" transform="rotate(74 685.2 205.8)"/><ellipse cx="778.1" cy="272.1" rx="1.4" ry="0.5" transform="rotate(165 778.1 272.1)"/><ellipse cx="598.0" cy="282.1" rx="1.5" ry="0.5" transform="rotate(164 598.0 282.1)"/><ellipse cx="611.3" cy="306.3" rx="1.6" ry="0.8" transform="rotate(44 611.3 306.3)"/><ellipse cx="613.0" cy="238.1" rx="1.6" ry="0.5" transform="rotate(8 613.0 238.1)"/><ellipse cx="571.2" cy="274.4" rx="1.6" ry="0.5" transform="rotate(32 571.2 274.4)"/><ellipse cx="638.6" cy="238.6" rx="1.2" ry="0.7" transform="rotate(101 638.6 238.6)"/><ellipse cx="656.2" cy="225.4" rx="1.3" ry="0.5" transform="rotate(67 656.2 225.4)"/><ellipse cx="610.0" cy="292.3" rx="0.7" ry="0.5" transform="rotate(48 610.0 292.3)"/><ellipse cx="619.9" cy="228.1" rx="1.0" ry="0.6" transform="rotate(177 619.9 228.1)"/><ellipse cx="760.8" cy="231.4" rx="1.3" ry="0.6" transform="rotate(175 760.8 231.4)"/><ellipse cx="641.5" cy="217.4" rx="1.0" ry="0.4" transform="rotate(86 641.5 217.4)"/><ellipse cx="603.7" cy="286.6" rx="1.5" ry="0.5" transform="rotate(107 603.7 286.6)"/><ellipse cx="767.3" cy="280.5" rx="0.8" ry="0.5" transform="rotate(173 767.3 280.5)"/><ellipse cx="694.2" cy="264.8" rx="1.3" ry="0.6" transform="rotate(75 694.2 264.8)"/><ellipse cx="635.0" cy="193.3" rx="0.7" ry="0.5" transform="rotate(88 635.0 193.3)"/><ellipse cx="802.4" cy="285.2" rx="0.6" ry="0.4" transform="rotate(98 802.4 285.2)"/><ellipse cx="591.7" cy="295.2" rx="1.0" ry="0.5" transform="rotate(148 591.7 295.2)"/><ellipse cx="618.4" cy="308.8" rx="1.5" ry="1.2" transform="rotate(48 618.4 308.8)"/><ellipse cx="620.6" cy="225.8" rx="1.2" ry="0.5" transform="rotate(152 620.6 225.8)"/><ellipse cx="786.0" cy="246.2" rx="1.5" ry="0.5" transform="rotate(169 786.0 246.2)"/><ellipse cx="701.4" cy="185.4" rx="1.4" ry="0.8" transform="rotate(4 701.4 185.4)"/><ellipse cx="594.1" cy="282.9" rx="1.9" ry="0.9" transform="rotate(104 594.1 282.9)"/><ellipse cx="772.6" cy="242.8" rx="1.4" ry="0.7" transform="rotate(108 772.6 242.8)"/><ellipse cx="662.4" cy="274.8" rx="1.4" ry="0.5" transform="rotate(117 662.4 274.8)"/><ellipse cx="650.0" cy="215.9" rx="1.0" ry="0.7" transform="rotate(177 650.0 215.9)"/><ellipse cx="789.0" cy="296.0" rx="2.2" ry="1.2" transform="rotate(6 789.0 296.0)"/><ellipse cx="772.5" cy="281.1" rx="2.4" ry="1.1" transform="rotate(57 772.5 281.1)"/><ellipse cx="719.9" cy="195.9" rx="1.3" ry="0.5" transform="rotate(161 719.9 195.9)"/><ellipse cx="806.0" cy="288.5" rx="1.8" ry="0.5" transform="rotate(92 806.0 288.5)"/><ellipse cx="626.1" cy="303.9" rx="1.5" ry="0.8" transform="rotate(5 626.1 303.9)"/><ellipse cx="677.3" cy="218.0" rx="1.0" ry="0.7" transform="rotate(6 677.3 218.0)"/><ellipse cx="774.4" cy="272.3" rx="1.3" ry="0.7" transform="rotate(149 774.4 272.3)"/><ellipse cx="715.9" cy="247.2" rx="0.7" ry="0.8" transform="rotate(93 715.9 247.2)"/><ellipse cx="660.2" cy="197.9" rx="1.0" ry="0.6" transform="rotate(117 660.2 197.9)"/><ellipse cx="801.0" cy="262.4" rx="1.2" ry="0.7" transform="rotate(32 801.0 262.4)"/><ellipse cx="729.5" cy="244.9" rx="1.5" ry="0.6" transform="rotate(7 729.5 244.9)"/><ellipse cx="571.2" cy="268.4" rx="1.7" ry="0.6" transform="rotate(85 571.2 268.4)"/><ellipse cx="656.1" cy="274.6" rx="2.5" ry="0.7" transform="rotate(72 656.1 274.6)"/><ellipse cx="768.0" cy="227.0" rx="1.0" ry="0.4" transform="rotate(99 768.0 227.0)"/><ellipse cx="777.8" cy="256.1" rx="0.7" ry="0.5" transform="rotate(48 777.8 256.1)"/><ellipse cx="760.7" cy="228.6" rx="0.9" ry="0.4" transform="rotate(21 760.7 228.6)"/><ellipse cx="647.2" cy="257.9" rx="1.4" ry="0.4" transform="rotate(25 647.2 257.9)"/><ellipse cx="616.6" cy="224.3" rx="0.8" ry="0.4" transform="rotate(109 616.6 224.3)"/><ellipse cx="653.5" cy="262.6" rx="0.8" ry="0.7" transform="rotate(49 653.5 262.6)"/><ellipse cx="629.6" cy="269.7" rx="1.1" ry="0.8" transform="rotate(45 629.6 269.7)"/><ellipse cx="706.2" cy="270.0" rx="1.0" ry="0.4" transform="rotate(135 706.2 270.0)"/><ellipse cx="585.6" cy="233.6" rx="1.3" ry="0.7" transform="rotate(142 585.6 233.6)"/><ellipse cx="674.7" cy="220.5" rx="1.3" ry="0.4" transform="rotate(137 674.7 220.5)"/><ellipse cx="773.8" cy="281.9" rx="2.6" ry="0.9" transform="rotate(51 773.8 281.9)"/><ellipse cx="774.2" cy="213.3" rx="1.1" ry="0.4" transform="rotate(131 774.2 213.3)"/><ellipse cx="804.4" cy="255.2" rx="0.9" ry="0.5" transform="rotate(163 804.4 255.2)"/><ellipse cx="808.4" cy="242.3" rx="0.6" ry="0.8" transform="rotate(115 808.4 242.3)"/><ellipse cx="662.3" cy="261.4" rx="1.9" ry="0.6" transform="rotate(178 662.3 261.4)"/><ellipse cx="611.9" cy="294.4" rx="1.0" ry="0.7" transform="rotate(77 611.9 294.4)"/><ellipse cx="596.5" cy="229.6" rx="0.9" ry="0.5" transform="rotate(172 596.5 229.6)"/><ellipse cx="600.3" cy="250.6" rx="1.5" ry="0.8" transform="rotate(107 600.3 250.6)"/><ellipse cx="696.8" cy="207.8" rx="1.3" ry="0.4" transform="rotate(175 696.8 207.8)"/><ellipse cx="789.7" cy="299.3" rx="1.5" ry="0.5" transform="rotate(2 789.7 299.3)"/><ellipse cx="739.9" cy="258.7" rx="1.3" ry="0.4" transform="rotate(64 739.9 258.7)"/><ellipse cx="770.3" cy="292.2" rx="1.6" ry="1.0" transform="rotate(135 770.3 292.2)"/><ellipse cx="688.7" cy="223.1" rx="1.0" ry="0.6" transform="rotate(165 688.7 223.1)"/><ellipse cx="620.8" cy="229.7" rx="1.3" ry="0.6" transform="rotate(111 620.8 229.7)"/><ellipse cx="672.8" cy="205.1" rx="0.8" ry="0.5" transform="rotate(87 672.8 205.1)"/><ellipse cx="711.4" cy="257.2" rx="1.4" ry="0.5" transform="rotate(65 711.4 257.2)"/><ellipse cx="775.0" cy="282.3" rx="0.8" ry="0.6" transform="rotate(101 775.0 282.3)"/><ellipse cx="809.5" cy="294.7" rx="1.6" ry="1.2" transform="rotate(19 809.5 294.7)"/><ellipse cx="629.5" cy="253.3" rx="1.3" ry="0.7" transform="rotate(81 629.5 253.3)"/><ellipse cx="780.5" cy="294.0" rx="0.8" ry="0.5" transform="rotate(72 780.5 294.0)"/><ellipse cx="604.7" cy="306.4" rx="2.5" ry="0.7" transform="rotate(6 604.7 306.4)"/><ellipse cx="607.4" cy="208.7" rx="1.1" ry="0.6" transform="rotate(41 607.4 208.7)"/><ellipse cx="598.2" cy="211.3" rx="1.0" ry="0.5" transform="rotate(63 598.2 211.3)"/><ellipse cx="701.5" cy="244.3" rx="1.0" ry="0.5" transform="rotate(106 701.5 244.3)"/><ellipse cx="651.0" cy="184.2" rx="0.8" ry="0.6" transform="rotate(114 651.0 184.2)"/><ellipse cx="786.4" cy="247.0" rx="0.7" ry="0.6" transform="rotate(122 786.4 247.0)"/><ellipse cx="659.2" cy="267.3" rx="1.9" ry="0.9" transform="rotate(145 659.2 267.3)"/><ellipse cx="589.8" cy="265.7" rx="1.1" ry="0.8" transform="rotate(144 589.8 265.7)"/><ellipse cx="701.0" cy="219.3" rx="0.9" ry="0.4" transform="rotate(178 701.0 219.3)"/><ellipse cx="781.1" cy="266.3" rx="1.1" ry="0.6" transform="rotate(39 781.1 266.3)"/><ellipse cx="709.0" cy="251.5" rx="0.6" ry="0.7" transform="rotate(164 709.0 251.5)"/><ellipse cx="681.5" cy="237.7" rx="1.2" ry="0.7" transform="rotate(139 681.5 237.7)"/><ellipse cx="598.9" cy="279.5" rx="1.7" ry="0.6" transform="rotate(105 598.9 279.5)"/><ellipse cx="733.2" cy="234.4" rx="1.2" ry="0.8" transform="rotate(127 733.2 234.4)"/><ellipse cx="593.3" cy="280.5" rx="2.0" ry="1.1" transform="rotate(123 593.3 280.5)"/><ellipse cx="716.2" cy="247.3" rx="1.2" ry="0.7" transform="rotate(140 716.2 247.3)"/><ellipse cx="614.0" cy="226.0" rx="1.6" ry="0.8" transform="rotate(129 614.0 226.0)"/><ellipse cx="639.6" cy="233.0" rx="1.4" ry="0.6" transform="rotate(137 639.6 233.0)"/><ellipse cx="583.9" cy="250.5" rx="0.8" ry="0.6" transform="rotate(98 583.9 250.5)"/><ellipse cx="792.5" cy="297.0" rx="0.9" ry="0.7" transform="rotate(74 792.5 297.0)"/><ellipse cx="592.6" cy="295.0" rx="1.2" ry="0.7" transform="rotate(7 592.6 295.0)"/><ellipse cx="695.3" cy="273.7" rx="0.7" ry="0.5" transform="rotate(29 695.3 273.7)"/><ellipse cx="732.6" cy="286.0" rx="1.1" ry="0.7" transform="rotate(101 732.6 286.0)"/><ellipse cx="623.8" cy="279.8" rx="1.4" ry="0.6" transform="rotate(4 623.8 279.8)"/><ellipse cx="736.1" cy="221.9" rx="1.2" ry="0.8" transform="rotate(37 736.1 221.9)"/><ellipse cx="738.2" cy="256.4" rx="1.1" ry="0.7" transform="rotate(24 738.2 256.4)"/><ellipse cx="790.4" cy="279.8" rx="1.2" ry="0.7" transform="rotate(111 790.4 279.8)"/><ellipse cx="697.3" cy="253.2" rx="2.6" ry="0.6" transform="rotate(18 697.3 253.2)"/><ellipse cx="685.3" cy="272.7" rx="1.4" ry="0.4" transform="rotate(50 685.3 272.7)"/><ellipse cx="626.5" cy="229.0" rx="1.5" ry="0.5" transform="rotate(113 626.5 229.0)"/><ellipse cx="578.1" cy="258.0" rx="1.4" ry="0.8" transform="rotate(136 578.1 258.0)"/><ellipse cx="594.9" cy="244.9" rx="1.1" ry="0.8" transform="rotate(29 594.9 244.9)"/><ellipse cx="695.1" cy="235.4" rx="0.7" ry="0.6" transform="rotate(68 695.1 235.4)"/><ellipse cx="783.5" cy="279.8" rx="1.4" ry="0.5" transform="rotate(97 783.5 279.8)"/><ellipse cx="565.2" cy="249.3" rx="1.5" ry="0.7" transform="rotate(82 565.2 249.3)"/><ellipse cx="792.9" cy="278.8" rx="2.6" ry="0.9" transform="rotate(105 792.9 278.8)"/><ellipse cx="655.2" cy="263.7" rx="1.2" ry="0.7" transform="rotate(75 655.2 263.7)"/><ellipse cx="728.9" cy="217.4" rx="0.9" ry="0.5" transform="rotate(36 728.9 217.4)"/><ellipse cx="682.2" cy="235.4" rx="0.6" ry="0.6" transform="rotate(109 682.2 235.4)"/><ellipse cx="642.5" cy="240.8" rx="1.5" ry="0.5" transform="rotate(138 642.5 240.8)"/><ellipse cx="741.3" cy="290.7" rx="1.1" ry="0.4" transform="rotate(157 741.3 290.7)"/><ellipse cx="578.9" cy="251.0" rx="1.0" ry="0.6" transform="rotate(125 578.9 251.0)"/><ellipse cx="743.0" cy="273.5" rx="1.4" ry="0.7" transform="rotate(25 743.0 273.5)"/><ellipse cx="630.9" cy="295.3" rx="1.8" ry="0.5" transform="rotate(142 630.9 295.3)"/><ellipse cx="730.1" cy="251.8" rx="1.4" ry="0.7" transform="rotate(54 730.1 251.8)"/><ellipse cx="627.9" cy="280.7" rx="1.3" ry="0.5" transform="rotate(170 627.9 280.7)"/><ellipse cx="703.0" cy="270.2" rx="2.4" ry="1.2" transform="rotate(59 703.0 270.2)"/><ellipse cx="776.3" cy="257.2" rx="0.7" ry="0.4" transform="rotate(41 776.3 257.2)"/><ellipse cx="698.9" cy="256.3" rx="2.6" ry="1.0" transform="rotate(112 698.9 256.3)"/><ellipse cx="594.7" cy="283.7" rx="0.9" ry="0.4" transform="rotate(146 594.7 283.7)"/><ellipse cx="716.3" cy="269.8" rx="2.5" ry="0.9" transform="rotate(168 716.3 269.8)"/><ellipse cx="657.2" cy="273.8" rx="0.9" ry="0.4" transform="rotate(35 657.2 273.8)"/><ellipse cx="710.5" cy="188.4" rx="1.0" ry="0.7" transform="rotate(105 710.5 188.4)"/><ellipse cx="635.4" cy="300.7" rx="1.1" ry="0.6" transform="rotate(176 635.4 300.7)"/><ellipse cx="788.6" cy="300.9" rx="0.8" ry="0.7" transform="rotate(155 788.6 300.9)"/><ellipse cx="602.5" cy="274.3" rx="1.7" ry="0.9" transform="rotate(80 602.5 274.3)"/><ellipse cx="728.9" cy="252.7" rx="1.6" ry="0.4" transform="rotate(179 728.9 252.7)"/><ellipse cx="642.5" cy="225.4" rx="1.1" ry="0.4" transform="rotate(8 642.5 225.4)"/><ellipse cx="665.9" cy="218.5" rx="0.7" ry="0.5" transform="rotate(149 665.9 218.5)"/><ellipse cx="761.4" cy="276.7" rx="1.2" ry="0.6" transform="rotate(40 761.4 276.7)"/><ellipse cx="800.3" cy="266.3" rx="1.3" ry="0.4" transform="rotate(131 800.3 266.3)"/><ellipse cx="613.9" cy="290.6" rx="1.4" ry="0.7" transform="rotate(165 613.9 290.6)"/><ellipse cx="617.3" cy="298.2" rx="1.4" ry="0.7" transform="rotate(144 617.3 298.2)"/><ellipse cx="658.5" cy="281.1" rx="1.6" ry="1.1" transform="rotate(119 658.5 281.1)"/><ellipse cx="633.3" cy="280.1" rx="1.1" ry="0.8" transform="rotate(151 633.3 280.1)"/><ellipse cx="584.2" cy="283.3" rx="1.8" ry="1.1" transform="rotate(79 584.2 283.3)"/><ellipse cx="600.9" cy="244.0" rx="0.7" ry="0.5" transform="rotate(1 600.9 244.0)"/><ellipse cx="761.9" cy="274.6" rx="0.9" ry="0.6" transform="rotate(118 761.9 274.6)"/><ellipse cx="612.2" cy="268.8" rx="1.8" ry="1.2" transform="rotate(73 612.2 268.8)"/><ellipse cx="730.9" cy="275.4" rx="2.7" ry="0.5" transform="rotate(69 730.9 275.4)"/><ellipse cx="697.8" cy="257.9" rx="0.9" ry="0.7" transform="rotate(175 697.8 257.9)"/><ellipse cx="577.5" cy="286.1" rx="2.2" ry="1.1" transform="rotate(117 577.5 286.1)"/><ellipse cx="608.4" cy="291.5" rx="1.6" ry="0.5" transform="rotate(42 608.4 291.5)"/><ellipse cx="716.9" cy="245.3" rx="1.3" ry="0.8" transform="rotate(180 716.9 245.3)"/><ellipse cx="624.6" cy="272.3" rx="0.9" ry="0.4" transform="rotate(145 624.6 272.3)"/><ellipse cx="612.5" cy="212.8" rx="1.2" ry="0.5" transform="rotate(72 612.5 212.8)"/><ellipse cx="601.2" cy="221.6" rx="1.1" ry="0.6" transform="rotate(8 601.2 221.6)"/><ellipse cx="680.6" cy="226.8" rx="1.1" ry="0.6" transform="rotate(95 680.6 226.8)"/><ellipse cx="793.1" cy="233.2" rx="0.9" ry="0.6" transform="rotate(159 793.1 233.2)"/><ellipse cx="737.4" cy="270.8" rx="1.4" ry="0.7" transform="rotate(172 737.4 270.8)"/><ellipse cx="790.7" cy="259.6" rx="1.3" ry="0.7" transform="rotate(175 790.7 259.6)"/><ellipse cx="667.6" cy="263.4" rx="2.7" ry="1.1" transform="rotate(162 667.6 263.4)"/><ellipse cx="631.2" cy="268.6" rx="1.5" ry="1.1" transform="rotate(150 631.2 268.6)"/><ellipse cx="810.8" cy="260.4" rx="1.5" ry="0.5" transform="rotate(27 810.8 260.4)"/><ellipse cx="674.6" cy="252.7" rx="1.1" ry="0.5" transform="rotate(67 674.6 252.7)"/><ellipse cx="597.5" cy="297.0" rx="0.7" ry="0.7" transform="rotate(18 597.5 297.0)"/><ellipse cx="650.3" cy="280.6" rx="1.4" ry="0.9" transform="rotate(162 650.3 280.6)"/><ellipse cx="703.3" cy="219.6" rx="1.3" ry="0.6" transform="rotate(107 703.3 219.6)"/><ellipse cx="680.9" cy="267.9" rx="1.1" ry="0.8" transform="rotate(31 680.9 267.9)"/><ellipse cx="703.8" cy="272.3" rx="0.9" ry="0.7" transform="rotate(172 703.8 272.3)"/><ellipse cx="698.7" cy="262.4" rx="0.8" ry="0.7" transform="rotate(75 698.7 262.4)"/><ellipse cx="788.5" cy="275.5" rx="1.1" ry="0.5" transform="rotate(6 788.5 275.5)"/><ellipse cx="717.6" cy="279.9" rx="1.2" ry="0.4" transform="rotate(87 717.6 279.9)"/><ellipse cx="805.5" cy="267.0" rx="1.5" ry="0.9" transform="rotate(146 805.5 267.0)"/><ellipse cx="725.4" cy="193.4" rx="0.9" ry="0.7" transform="rotate(4 725.4 193.4)"/><ellipse cx="683.5" cy="219.5" rx="0.7" ry="0.7" transform="rotate(64 683.5 219.5)"/><ellipse cx="616.1" cy="218.8" rx="1.6" ry="0.7" transform="rotate(85 616.1 218.8)"/><ellipse cx="590.7" cy="272.3" rx="1.3" ry="0.6" transform="rotate(10 590.7 272.3)"/><ellipse cx="719.6" cy="282.3" rx="1.5" ry="1.1" transform="rotate(73 719.6 282.3)"/><ellipse cx="576.1" cy="275.1" rx="1.9" ry="1.2" transform="rotate(107 576.1 275.1)"/><ellipse cx="773.6" cy="242.4" rx="1.5" ry="0.8" transform="rotate(175 773.6 242.4)"/><ellipse cx="798.1" cy="280.8" rx="1.5" ry="0.8" transform="rotate(139 798.1 280.8)"/><ellipse cx="800.2" cy="231.7" rx="1.3" ry="0.6" transform="rotate(60 800.2 231.7)"/><ellipse cx="593.2" cy="238.5" rx="1.5" ry="0.7" transform="rotate(143 593.2 238.5)"/><ellipse cx="676.7" cy="216.0" rx="1.6" ry="0.4" transform="rotate(147 676.7 216.0)"/><ellipse cx="621.6" cy="308.6" rx="1.6" ry="0.4" transform="rotate(136 621.6 308.6)"/><ellipse cx="711.7" cy="248.7" rx="1.0" ry="0.4" transform="rotate(7 711.7 248.7)"/><ellipse cx="599.8" cy="290.0" rx="2.2" ry="0.8" transform="rotate(15 599.8 290.0)"/><ellipse cx="610.8" cy="281.7" rx="1.0" ry="0.6" transform="rotate(127 610.8 281.7)"/><ellipse cx="782.7" cy="240.0" rx="1.2" ry="0.4" transform="rotate(15 782.7 240.0)"/><ellipse cx="675.8" cy="218.5" rx="0.7" ry="0.6" transform="rotate(56 675.8 218.5)"/><ellipse cx="803.2" cy="279.9" rx="1.6" ry="0.7" transform="rotate(157 803.2 279.9)"/><ellipse cx="602.8" cy="276.2" rx="1.6" ry="0.7" transform="rotate(118 602.8 276.2)"/><ellipse cx="616.4" cy="298.6" rx="1.6" ry="0.4" transform="rotate(77 616.4 298.6)"/><ellipse cx="578.2" cy="258.9" rx="1.8" ry="0.6" transform="rotate(122 578.2 258.9)"/><ellipse cx="615.8" cy="290.5" rx="1.9" ry="1.2" transform="rotate(172 615.8 290.5)"/><ellipse cx="567.5" cy="262.8" rx="1.5" ry="0.7" transform="rotate(78 567.5 262.8)"/><ellipse cx="634.9" cy="244.7" rx="1.0" ry="0.5" transform="rotate(147 634.9 244.7)"/><ellipse cx="604.3" cy="214.6" rx="1.0" ry="0.5" transform="rotate(112 604.3 214.6)"/><ellipse cx="809.9" cy="286.9" rx="1.2" ry="0.5" transform="rotate(2 809.9 286.9)"/><ellipse cx="650.9" cy="228.5" rx="1.2" ry="0.4" transform="rotate(40 650.9 228.5)"/><ellipse cx="685.5" cy="264.6" rx="1.2" ry="0.4" transform="rotate(30 685.5 264.6)"/><ellipse cx="745.4" cy="256.3" rx="0.7" ry="0.5" transform="rotate(2 745.4 256.3)"/><ellipse cx="654.4" cy="269.7" rx="0.6" ry="0.6" transform="rotate(101 654.4 269.7)"/></g>
<polygon points="655.7,376.2 666.0,375.4 672.4,362.2 672.4,347.5 668.9,335.8 664.5,327.0 677.7,324.1 686.5,327.0 698.2,328.5 700.6,338.7 698.2,350.4 699.7,362.2 705.5,372.4 718.7,377.4 734.0,378.6 715.8,380.3 692.4,378.0 666.0,378.6" fill="#000"/>
<line x1="673.3" y1="335.8" x2="663.1" y2="319.7" stroke="#000" stroke-width="7.0" stroke-linecap="round"/><line x1="663.1" y1="319.7" x2="655.7" y2="303.6" stroke="#000" stroke-width="5.5" stroke-linecap="round"/><line x1="655.7" y1="303.6" x2="648.4" y2="288.9" stroke="#000" stroke-width="4.0" stroke-linecap="round"/><line x1="648.4" y1="288.9" x2="641.1" y2="274.3" stroke="#000" stroke-width="2.5" stroke-linecap="round"/>
<line x1="668.9" y1="327.0" x2="654.3" y2="320.6" stroke="#000" stroke-width="5.0" stroke-linecap="round"/><line x1="654.3" y1="320.6" x2="636.7" y2="321.7" stroke="#000" stroke-width="4.0" stroke-linecap="round"/><line x1="636.7" y1="321.7" x2="626.4" y2="316.8" stroke="#000" stroke-width="3.0" stroke-linecap="round"/><line x1="626.4" y1="316.8" x2="618.5" y2="308.0" stroke="#000" stroke-width="2.0" stroke-linecap="round"/>
<line x1="636.7" y1="321.7" x2="632.3" y2="312.4" stroke="#000" stroke-width="2.0" stroke-linecap="round"/><line x1="632.3" y1="312.4" x2="633.2" y2="303.6" stroke="#000" stroke-width="1.2" stroke-linecap="round"/>
<line x1="679.2" y1="331.4" x2="673.3" y2="312.4" stroke="#000" stroke-width="6.0" stroke-linecap="round"/><line x1="673.3" y1="312.4" x2="669.5" y2="297.7" stroke="#000" stroke-width="4.2" stroke-linecap="round"/><line x1="669.5" y1="297.7" x2="671.8" y2="281.6" stroke="#000" stroke-width="2.5" stroke-linecap="round"/>
<line x1="655.7" y1="303.6" x2="652.8" y2="288.9" stroke="#000" stroke-width="2.2" stroke-linecap="round"/><line x1="652.8" y1="288.9" x2="654.9" y2="277.2" stroke="#000" stroke-width="1.2" stroke-linecap="round"/>
<line x1="686.5" y1="329.9" x2="690.9" y2="315.3" stroke="#000" stroke-width="5.5" stroke-linecap="round"/><line x1="690.9" y1="315.3" x2="696.8" y2="300.6" stroke="#000" stroke-width="3.9" stroke-linecap="round"/><line x1="696.8" y1="300.6" x2="695.3" y2="277.2" stroke="#000" stroke-width="2.2" stroke-linecap="round"/>
<line x1="692.4" y1="331.4" x2="704.1" y2="312.4" stroke="#000" stroke-width="5.0" stroke-linecap="round"/><line x1="704.1" y1="312.4" x2="711.4" y2="297.7" stroke="#000" stroke-width="3.5" stroke-linecap="round"/><line x1="711.4" y1="297.7" x2="707.6" y2="277.2" stroke="#000" stroke-width="2.0" stroke-linecap="round"/>
<line x1="698.2" y1="337.3" x2="711.4" y2="325.5" stroke="#000" stroke-width="6.0" stroke-linecap="round"/><line x1="711.4" y1="325.5" x2="721.7" y2="318.2" stroke="#000" stroke-width="4.7" stroke-linecap="round"/><line x1="721.7" y1="318.2" x2="727.5" y2="306.5" stroke="#000" stroke-width="3.3" stroke-linecap="round"/><line x1="727.5" y1="306.5" x2="728.1" y2="290.4" stroke="#000" stroke-width="2.0" stroke-linecap="round"/>
<line x1="721.7" y1="318.2" x2="718.7" y2="303.6" stroke="#000" stroke-width="2.5" stroke-linecap="round"/><line x1="718.7" y1="303.6" x2="720.2" y2="288.9" stroke="#000" stroke-width="1.2" stroke-linecap="round"/>
<line x1="711.4" y1="325.5" x2="727.5" y2="322.6" stroke="#000" stroke-width="4.5" stroke-linecap="round"/><line x1="727.5" y1="322.6" x2="745.1" y2="317.6" stroke="#000" stroke-width="3.7" stroke-linecap="round"/><line x1="745.1" y1="317.6" x2="759.7" y2="308.0" stroke="#000" stroke-width="2.9" stroke-linecap="round"/><line x1="759.7" y1="308.0" x2="771.5" y2="306.5" stroke="#000" stroke-width="2.1" stroke-linecap="round"/><line x1="771.5" y1="306.5" x2="783.2" y2="308.0" stroke="#000" stroke-width="1.3" stroke-linecap="round"/>
<line x1="759.7" y1="308.0" x2="762.7" y2="297.7" stroke="#000" stroke-width="1.5" stroke-linecap="round"/>
</g>
<g id="jeeprear">
<path d="M818.1,498 L842.7,498 L842.7,512.4 A12.3,12.3 0 0 1 818.1,512.4 Z" fill="#333333"/>
<path d="M962.3,498 L986.8,498 L986.8,512.4 A12.3,12.3 0 0 1 962.3,512.4 Z" fill="#333333"/>
<path d="M830.0,357.2 L977.8,357.2 L979.7,382.9 L982.0,424.6 Q990.9,431.7 994.0,452.0 L994.0,490.6 L996.3,490.6 L996.3,502.0 L808.6,502.0 L808.6,490.6 L811.5,490.6 L811.5,452.0 Q813.4,432.9 824.1,426.3 L825.3,406.7 Z" fill="#333333"/>
<polygon points="839.6,363.8 965.4,363.8 970.6,411.5 833.6,411.5" fill="#fff"/>
<polygon points="794.8,401.9 815.7,401.9 825.7,406.7 825.7,415.8 794.8,415.8" fill="#333333"/>
<polygon points="979.7,399.6 989.2,395.3 1009.2,395.3 1009.2,408.6 979.7,408.6" fill="#333333"/>
<circle cx="902.7" cy="430.1" r="47.4" fill="#333333" stroke="#fff" stroke-width="1.6"/>
<circle cx="902.7" cy="430.1" r="22.3" fill="#333333" stroke="#fff" stroke-width="1.7"/>
<circle cx="902.7" cy="430.1" r="11.2" fill="#333333" stroke="#fff" stroke-width="1.6"/>
<line x1="901.19" y1="418.97" x2="901.19" y2="407.82" stroke="#fff" stroke-width="1.5"/>
<line x1="904.23" y1="418.97" x2="904.22" y2="407.82" stroke="#fff" stroke-width="1.5"/>
<line x1="909.48" y1="421.14" x2="917.37" y2="413.26" stroke="#fff" stroke-width="1.5"/>
<line x1="911.63" y1="423.29" x2="919.51" y2="415.40" stroke="#fff" stroke-width="1.5"/>
<line x1="913.80" y1="428.55" x2="924.96" y2="428.55" stroke="#fff" stroke-width="1.5"/>
<line x1="913.80" y1="431.58" x2="924.96" y2="431.58" stroke="#fff" stroke-width="1.5"/>
<line x1="911.63" y1="436.84" x2="919.51" y2="444.72" stroke="#fff" stroke-width="1.5"/>
<line x1="909.48" y1="438.98" x2="917.37" y2="446.87" stroke="#fff" stroke-width="1.5"/>
<line x1="904.23" y1="441.16" x2="904.22" y2="452.31" stroke="#fff" stroke-width="1.5"/>
<line x1="901.19" y1="441.16" x2="901.19" y2="452.31" stroke="#fff" stroke-width="1.5"/>
<line x1="895.93" y1="438.98" x2="888.05" y2="446.87" stroke="#fff" stroke-width="1.5"/>
<line x1="893.79" y1="436.84" x2="885.90" y2="444.72" stroke="#fff" stroke-width="1.5"/>
<line x1="891.61" y1="431.58" x2="880.46" y2="431.58" stroke="#fff" stroke-width="1.5"/>
<line x1="891.61" y1="428.55" x2="880.46" y2="428.55" stroke="#fff" stroke-width="1.5"/>
<line x1="893.79" y1="423.29" x2="885.90" y2="415.40" stroke="#fff" stroke-width="1.5"/>
<line x1="895.93" y1="421.14" x2="888.05" y2="413.26" stroke="#fff" stroke-width="1.5"/>
<line x1="902.71" y1="419.86" x2="902.71" y2="406.46" stroke="#333333" stroke-width="1.3"/>
<line x1="909.92" y1="422.85" x2="919.39" y2="413.38" stroke="#333333" stroke-width="1.3"/>
<line x1="912.91" y1="430.06" x2="926.31" y2="430.06" stroke="#333333" stroke-width="1.3"/>
<line x1="909.92" y1="437.28" x2="919.39" y2="446.75" stroke="#333333" stroke-width="1.3"/>
<line x1="902.71" y1="440.26" x2="902.71" y2="453.66" stroke="#333333" stroke-width="1.3"/>
<line x1="895.49" y1="437.28" x2="886.02" y2="446.75" stroke="#333333" stroke-width="1.3"/>
<line x1="892.51" y1="430.06" x2="879.11" y2="430.06" stroke="#333333" stroke-width="1.3"/>
<line x1="895.49" y1="422.85" x2="886.02" y2="413.38" stroke="#333333" stroke-width="1.3"/>
<rect x="817.6" y="440.1" width="22.4" height="32.2" fill="none" stroke="#fff" stroke-width="1.6"/>
<rect x="967.0" y="442.0" width="22.2" height="32.6" fill="none" stroke="#fff" stroke-width="1.6"/>
</g>
<g id="rig1">
<line x1="374" y1="391.2" x2="608" y2="381.2" stroke="#222" stroke-width="1.5"/>
<line x1="626" y1="386.2" x2="812" y2="445.4" stroke="#222" stroke-width="1.5"/>
<polygon points="648.3,366.3 672.0,350.8 675.2,352.0 676.1,356.7 651.2,369.8" fill="#3a3a3a"/>
<path d="M652.3,370.1 Q680.8,361.9 698.1,352.9" stroke="#3d3d3d" stroke-width="4.9" fill="none" stroke-linecap="round"/>
<line x1="653.3" y1="368.4" x2="675.0" y2="357.8" stroke="#fff" stroke-width="0.9"/>
<ellipse cx="616.1" cy="384.5" rx="10.7" ry="5.0" fill="#333333"/>
<line x1="623.0" y1="382.4" x2="637.2" y2="375.7" stroke="#333333" stroke-width="4.2" stroke-linecap="round"/>
<ellipse cx="616.7" cy="383.5" rx="5.6" ry="2" fill="#fff"/>
<ellipse cx="633.9" cy="376.6" rx="1.6" ry="1" fill="#fff" transform="rotate(-25 633.9 376.6)"/>
<circle cx="643.0" cy="374.8" r="5.6" fill="#fff" stroke="#333333" stroke-width="2.4"/>
<line x1="644.5" y1="364.0" x2="652.3" y2="372.5" stroke="#333333" stroke-width="2.2" stroke-linecap="round"/>
</g>
<g id="lab1">
<text x="408.38" y="427.22" font-size="15.77" font-weight="bold" fill="#141414" stroke="#141414" stroke-width="0.95" stroke-linejoin="round" textLength="82.25" lengthAdjust="spacingAndGlyphs">Winch Cable</text>
<line x1="479.6" y1="410.9" x2="482.5" y2="399.3" stroke="#141414" stroke-width="2.1"/><polygon points="484.5,390.9 488.3,404.8 482.5,399.3 474.7,401.5" fill="#141414"/>
<text x="543.48" y="343.32" font-size="15.77" font-weight="bold" fill="#141414" stroke="#141414" stroke-width="0.95" stroke-linejoin="round" textLength="101.15" lengthAdjust="spacingAndGlyphs">D-Ring Shackle</text>
<line x1="610.6" y1="350.7" x2="631.0" y2="364.4" stroke="#141414" stroke-width="2.1"/><polygon points="638.1,369.2 623.7,368.0 631.0,364.4 631.6,356.4" fill="#141414"/>
<text x="735.18" y="356.82" font-size="15.77" font-weight="bold" fill="#141414" stroke="#141414" stroke-width="0.95" stroke-linejoin="round" textLength="66.75" lengthAdjust="spacingAndGlyphs">Tree Strap</text>
<line x1="730.8" y1="358.1" x2="720.3" y2="364.3" stroke="#141414" stroke-width="2.1"/><polygon points="712.9,368.7 720.2,356.3 720.3,364.3 727.3,368.3" fill="#141414"/>
<text x="578.88" y="445.12" font-size="15.77" font-weight="bold" fill="#141414" stroke="#141414" stroke-width="0.95" stroke-linejoin="round" textLength="87.45" lengthAdjust="spacingAndGlyphs">Snatch Block</text>
<line x1="601.3" y1="427.2" x2="607.5" y2="402.1" stroke="#141414" stroke-width="2.1"/><polygon points="609.6,393.8 613.4,407.7 607.5,402.1 599.8,404.3" fill="#141414"/>
<text x="697.48" y="471.22" font-size="15.77" font-weight="bold" fill="#141414" stroke="#141414" stroke-width="0.95" stroke-linejoin="round" textLength="39.55" lengthAdjust="spacingAndGlyphs">Winch</text>
<text x="701.08" y="490.52" font-size="15.77" font-weight="bold" fill="#141414" stroke="#141414" stroke-width="0.95" stroke-linejoin="round" textLength="36.85" lengthAdjust="spacingAndGlyphs">Cable</text>
<line x1="719.1" y1="458.0" x2="725.0" y2="432.9" stroke="#141414" stroke-width="2.1"/><polygon points="727.0,424.5 730.9,438.4 725.0,432.9 717.3,435.2" fill="#141414"/>
</g>
<rect x="357.2" y="507.5" width="292.8" height="29.1" fill="#333333"/>
<text x="360.80" y="529.20" font-size="20.35" font-weight="bold" fill="#fff" stroke="#fff" stroke-width="0.8" stroke-linejoin="round" textLength="14.20" lengthAdjust="spacingAndGlyphs">2.</text><text x="386.50" y="529.20" font-size="20.35" font-weight="bold" fill="#fff" stroke="#fff" stroke-width="0.8" stroke-linejoin="round" textLength="69.70" lengthAdjust="spacingAndGlyphs">DOUBLE</text><text x="463.90" y="529.20" font-size="20.35" font-weight="bold" fill="#fff" stroke="#fff" stroke-width="0.8" stroke-linejoin="round" textLength="33.30" lengthAdjust="spacingAndGlyphs">THE</text><text x="505.80" y="529.20" font-size="20.35" font-weight="bold" fill="#fff" stroke="#fff" stroke-width="0.8" stroke-linejoin="round" textLength="60.30" lengthAdjust="spacingAndGlyphs">WINCH</text><text x="574.10" y="529.20" font-size="20.35" font-weight="bold" fill="#fff" stroke="#fff" stroke-width="0.8" stroke-linejoin="round" textLength="64.60" lengthAdjust="spacingAndGlyphs">POWER</text>
<rect x="355" y="743.4" width="292.8" height="29.4" fill="#333333"/>
<text x="358.70" y="765.80" font-size="20.35" font-weight="bold" fill="#fff" stroke="#fff" stroke-width="0.8" stroke-linejoin="round" textLength="14.80" lengthAdjust="spacingAndGlyphs">3.</text><text x="384.50" y="765.80" font-size="20.35" font-weight="bold" fill="#fff" stroke="#fff" stroke-width="0.8" stroke-linejoin="round" textLength="62.30" lengthAdjust="spacingAndGlyphs">TRIPLE</text><text x="455.40" y="765.80" font-size="20.35" font-weight="bold" fill="#fff" stroke="#fff" stroke-width="0.8" stroke-linejoin="round" textLength="32.40" lengthAdjust="spacingAndGlyphs">THE</text><text x="496.40" y="765.80" font-size="20.35" font-weight="bold" fill="#fff" stroke="#fff" stroke-width="0.8" stroke-linejoin="round" textLength="60.30" lengthAdjust="spacingAndGlyphs">WINCH</text><text x="564.40" y="765.80" font-size="20.35" font-weight="bold" fill="#fff" stroke="#fff" stroke-width="0.8" stroke-linejoin="round" textLength="64.60" lengthAdjust="spacingAndGlyphs">POWER</text>
<defs><g id="jeeptop"><rect x="732.81" y="552.97" width="64.06" height="7.81" rx="3.2" fill="#333333"/><rect x="732.81" y="671.72" width="64.06" height="7.81" rx="3.2" fill="#333333"/><rect x="882.97" y="552.66" width="64.53" height="8.12" rx="3.2" fill="#333333"/><rect x="882.97" y="672.19" width="64.53" height="7.81" rx="3.2" fill="#333333"/><ellipse cx="764.4" cy="557.0" rx="16.8" ry="1.3" fill="#fff"/><ellipse cx="764.4" cy="676.1" rx="16.8" ry="1.3" fill="#fff"/><ellipse cx="913.4" cy="557.0" rx="16.5" ry="1.3" fill="#fff"/><ellipse cx="913.4" cy="676.1" rx="16.5" ry="1.3" fill="#fff"/><rect x="967.34" y="583.91" width="20.78" height="64.84" rx="4.6" fill="#333333"/><path d="M728.9,558.4 L789.8,558.4 L789.8,674.1 L728.9,674.1 Q725.0,674.1 725.0,670.2 L725.0,562.3 Q725.0,558.4 728.9,558.4 Z" fill="#333333"/><polygon points="717.5,566.2 723.4,566.2 723.4,580.3 725.8,588.1 725.8,644.4 723.4,651.4 723.4,665.9 717.5,665.9 707.0,645.2 706.2,642.8 706.2,590.5 707.0,588.1" fill="#333333" stroke="#333333" stroke-width="1" stroke-linejoin="round"/><polygon points="722.2,573.3 725.0,580.3 722.7,588.1 719.1,582.7" fill="#fff"/><polygon points="722.2,659.2 725.0,652.2 722.7,644.4 719.1,649.8" fill="#fff"/><line x1="733.6" y1="581.9" x2="784.4" y2="572.0" stroke="#fff" stroke-width="1.2" stroke-linecap="round"/><line x1="733.6" y1="650.6" x2="784.4" y2="660.8" stroke="#fff" stroke-width="1.2" stroke-linecap="round"/><polyline points="785.2,575.3 775.9,577.2 775.9,655.6 785.2,658.1" fill="none" stroke="#fff" stroke-width="0.9"/><rect x="796.88" y="557.81" width="171.72" height="117.34" rx="3" fill="#333333"/><rect x="800.00" y="560.00" width="165.31" height="113.12" fill="#fff"/><rect x="817.97" y="564.69" width="135.62" height="103.12" fill="#333333"/><line x1="952.8" y1="565.5" x2="966.9" y2="558.9" stroke="#333333" stroke-width="3.1" stroke-linecap="round"/><line x1="952.8" y1="667.0" x2="966.9" y2="674.1" stroke="#333333" stroke-width="3.1" stroke-linecap="round"/><rect x="853.91" y="558.44" width="5.16" height="7.03" fill="#333333"/><rect x="853.91" y="667.03" width="5.16" height="7.50" fill="#333333"/><rect x="853.28" y="558.44" width="5.47" height="7.03" fill="#333333"/><rect x="853.28" y="667.03" width="5.47" height="7.50" fill="#333333"/><rect x="907.50" y="558.44" width="6.72" height="7.03" fill="#333333"/><rect x="907.50" y="667.03" width="6.72" height="7.50" fill="#333333"/><polygon points="789.8,558.4 800.0,558.4 825.0,564.7 818.0,567.0 789.8,562.8" fill="#333333"/><polygon points="789.8,674.1 800.0,674.1 825.0,667.8 818.0,665.5 789.8,669.7" fill="#333333"/><path d="M788.4,562.5 L818.1,566.6 Q814.8,615.5 818.1,664.7 L789.1,670.3 Q781.6,616.2 788.4,562.5 Z" fill="#fff"/><path d="M807.0,542.0 Q801.6,547.5 799.7,558.8 L806.2,558.8 Q805.0,549.1 807.0,542.0 Z" fill="#333333"/><path d="M807.0,690.2 Q801.6,684.7 799.7,673.8 L806.2,673.8 Q805.0,683.4 807.0,690.2 Z" fill="#333333"/><line x1="830.9" y1="580.78" x2="945.0" y2="580.78" stroke="#fff" stroke-width="2.3" stroke-linecap="round"/><line x1="830.9" y1="595.16" x2="945.0" y2="595.16" stroke="#fff" stroke-width="2.3" stroke-linecap="round"/><line x1="830.9" y1="609.22" x2="945.0" y2="609.22" stroke="#fff" stroke-width="2.3" stroke-linecap="round"/><line x1="830.9" y1="623.59" x2="945.0" y2="623.59" stroke="#fff" stroke-width="2.3" stroke-linecap="round"/><line x1="830.9" y1="637.81" x2="945.0" y2="637.81" stroke="#fff" stroke-width="2.3" stroke-linecap="round"/><line x1="830.9" y1="652.19" x2="945.0" y2="652.19" stroke="#fff" stroke-width="2.3" stroke-linecap="round"/><polygon points="954.4,568.6 965.0,564.1 965.0,668.8 954.4,664.1" fill="#fff"/></g></defs>
<use href="#jeeptop"/>
<use href="#jeeptop" transform="translate(-6,203)"/>
<defs><g id="anchor"><path d="M123.0,618.0 L123.1,615.9 L123.3,613.8 L123.7,611.7 L124.2,609.6 L124.8,607.5 L125.6,605.6 L126.5,603.6 L127.5,601.8 L128.7,600.0 L129.9,598.3 L131.3,596.7 L132.8,595.2 L134.4,593.9 L136.1,592.6 L137.8,591.5 L139.6,590.5 L141.5,589.6 L143.4,588.9 L145.4,588.3 L147.5,587.8 L149.5,587.5 L151.6,587.4 L153.6,587.4 L155.7,587.5 L157.7,587.8 L159.8,588.3 L161.8,588.9 L163.7,589.6 L165.6,590.5 L167.4,591.5 L169.2,592.6 L205.6,617.8 L169.2,643.5 L167.4,644.6 L165.6,645.6 L163.7,646.5 L161.8,647.2 L159.8,647.8 L157.7,648.3 L155.7,648.6 L153.6,648.7 L151.6,648.7 L149.5,648.6 L147.5,648.3 L145.4,647.8 L143.4,647.2 L141.5,646.5 L139.6,645.6 L137.8,644.6 L136.1,643.5 L134.4,642.2 L132.8,640.9 L131.3,639.4 L129.9,637.8 L128.7,636.1 L127.5,634.3 L126.5,632.5 L125.6,630.5 L124.8,628.5 L124.2,626.5 L123.7,624.4 L123.3,622.3 L123.1,620.2Z" fill="#fff" stroke="#1c1c1c" stroke-width="1.7" stroke-linejoin="miter"/><path d="M128.4,617.6 L128.5,615.8 L128.6,614.1 L128.9,612.4 L129.3,610.6 L129.9,609.0 L130.5,607.4 L131.2,605.8 L132.1,604.2 L133.0,602.8 L134.1,601.4 L135.2,600.1 L136.4,598.9 L137.7,597.7 L139.1,596.7 L140.5,595.8 L142.0,595.0 L143.5,594.2 L145.1,593.6 L146.8,593.1 L148.4,592.8 L150.1,592.5 L151.8,592.4 L153.4,592.4 L155.1,592.5 L156.8,592.8 L158.4,593.1 L160.1,593.6 L161.7,594.2 L163.2,595.0 L164.7,595.8 L201.2,617.8 L164.7,639.4 L163.2,640.2 L161.7,641.0 L160.1,641.6 L158.4,642.0 L156.8,642.4 L155.1,642.7 L153.4,642.8 L151.8,642.8 L150.1,642.7 L148.4,642.4 L146.8,642.0 L145.1,641.6 L143.5,641.0 L142.0,640.2 L140.5,639.4 L139.1,638.5 L137.7,637.5 L136.4,636.3 L135.2,635.1 L134.1,633.8 L133.0,632.4 L132.1,631.0 L131.2,629.4 L130.5,627.9 L129.9,626.2 L129.3,624.5 L128.9,622.8 L128.6,621.1 L128.5,619.4Z" fill="#fff" stroke="#1c1c1c" stroke-width="1.5" stroke-linejoin="miter"/><circle cx="152.8" cy="616.6" r="23.2" fill="#fff" stroke="#1c1c1c" stroke-width="0.9"/><path d="M154.4,617.4 L154.3,617.9 L154.1,618.4 L153.9,618.8 L153.7,619.2 L153.4,619.6 L153.1,620.0 L152.7,620.3 L152.2,620.4 L151.8,620.5 L151.3,620.5 L150.8,620.5 L150.4,620.3 L150.0,620.2 L149.6,619.9 L149.2,619.6 L148.9,619.3 L148.6,618.8 L148.5,618.4 L148.3,617.9 L148.2,617.4 L148.2,616.9 L148.3,616.4 L148.5,615.9 L148.8,615.5 L149.1,615.1 L149.6,614.9 L150.0,614.7 L150.4,614.5 L150.9,614.4 L151.3,614.4 L151.8,614.4 L152.2,614.4 L152.6,614.6 L153.0,614.8 L153.4,615.1 L153.8,615.5 L154.1,615.9 L154.3,616.4 L154.4,616.9Z" fill="none" stroke="#7a7a7a" stroke-width="0.65"/><path d="M157.8,617.3 L157.7,618.3 L157.4,619.3 L156.9,620.3 L156.4,621.1 L155.7,621.8 L155.0,622.4 L154.1,622.9 L153.2,623.1 L152.3,623.2 L151.5,623.3 L150.6,623.2 L149.7,623.1 L148.7,622.9 L147.9,622.6 L147.1,622.0 L146.4,621.2 L145.9,620.3 L145.6,619.3 L145.5,618.3 L145.4,617.3 L145.5,616.3 L145.7,615.3 L146.0,614.4 L146.6,613.5 L147.2,612.8 L148.0,612.2 L148.8,611.7 L149.6,611.3 L150.5,611.0 L151.5,610.9 L152.4,611.0 L153.3,611.4 L154.1,611.8 L154.8,612.4 L155.5,613.0 L156.2,613.7 L156.8,614.4 L157.3,615.3 L157.7,616.3Z" fill="none" stroke="#7a7a7a" stroke-width="0.65"/><path d="M160.1,617.2 L160.0,618.6 L159.8,620.0 L159.4,621.4 L158.8,622.8 L158.0,624.0 L156.9,625.0 L155.7,625.8 L154.4,626.4 L153.0,626.8 L151.6,627.0 L150.2,626.9 L148.8,626.5 L147.5,625.8 L146.3,624.9 L145.3,623.9 L144.4,622.8 L143.6,621.5 L142.9,620.2 L142.5,618.7 L142.4,617.2 L142.7,615.7 L143.2,614.3 L143.9,613.0 L144.7,611.9 L145.5,610.8 L146.5,609.7 L147.6,608.8 L148.8,608.1 L150.2,607.7 L151.6,607.5 L153.0,607.6 L154.5,607.8 L155.9,608.3 L157.2,609.1 L158.3,610.1 L159.2,611.4 L159.7,612.8 L160.0,614.3 L160.1,615.8Z" fill="none" stroke="#7a7a7a" stroke-width="0.65"/><path d="M163.1,617.1 L163.0,619.0 L162.7,620.9 L162.3,622.8 L161.6,624.7 L160.6,626.5 L159.2,628.0 L157.5,629.1 L155.6,629.7 L153.7,629.9 L151.8,629.9 L149.9,629.6 L148.1,629.1 L146.3,628.4 L144.7,627.4 L143.3,626.1 L142.2,624.5 L141.3,622.8 L140.6,620.9 L140.1,619.1 L139.8,617.1 L139.9,615.1 L140.3,613.2 L141.1,611.4 L142.2,609.8 L143.5,608.3 L144.9,607.0 L146.3,605.9 L148.0,604.8 L149.8,604.0 L151.8,603.7 L153.7,603.8 L155.6,604.5 L157.3,605.5 L158.8,606.8 L160.1,608.2 L161.3,609.8 L162.1,611.5 L162.8,613.3 L163.1,615.2Z" fill="none" stroke="#7a7a7a" stroke-width="0.65"/><path d="M166.9,617.0 L166.7,619.5 L166.1,621.9 L165.1,624.2 L163.8,626.2 L162.1,627.8 L160.2,629.1 L158.1,630.0 L156.1,630.6 L154.0,631.2 L151.9,631.6 L149.7,631.8 L147.4,631.7 L145.1,631.1 L143.1,629.9 L141.3,628.3 L139.8,626.3 L138.7,624.1 L137.8,621.8 L137.3,619.5 L137.1,617.0 L137.4,614.6 L138.1,612.3 L139.2,610.1 L140.5,608.2 L141.9,606.4 L143.5,604.8 L145.3,603.3 L147.4,602.3 L149.6,601.7 L151.9,601.7 L154.1,602.1 L156.2,602.9 L158.2,603.8 L160.2,604.9 L162.1,606.2 L163.8,607.8 L165.2,609.8 L166.2,612.1 L166.8,614.5Z" fill="none" stroke="#7a7a7a" stroke-width="0.65"/><path d="M169.6,616.9 L169.7,619.9 L169.1,622.8 L167.9,625.4 L166.2,627.8 L164.2,629.8 L162.0,631.4 L159.7,632.8 L157.2,633.7 L154.6,634.1 L152.1,634.1 L149.5,633.7 L147.1,633.1 L144.7,632.2 L142.3,631.2 L139.9,629.8 L137.8,627.9 L136.1,625.5 L135.0,622.8 L134.5,619.8 L134.6,616.9 L135.1,614.1 L135.9,611.3 L136.9,608.7 L138.3,606.3 L140.1,604.2 L142.1,602.4 L144.5,601.1 L146.9,600.2 L149.5,599.5 L152.1,599.2 L154.7,599.2 L157.3,599.7 L159.8,600.8 L162.0,602.4 L163.9,604.4 L165.4,606.6 L166.8,608.9 L168.0,611.4 L169.0,614.1Z" fill="none" stroke="#7a7a7a" stroke-width="0.65"/><path d="M172.1,616.8 L171.6,620.0 L170.4,623.1 L168.7,625.7 L166.8,628.1 L164.8,630.2 L162.8,632.2 L160.6,634.2 L158.0,635.9 L155.2,637.0 L152.2,637.6 L149.1,637.4 L146.1,636.6 L143.3,635.4 L140.6,633.7 L138.2,631.6 L136.2,629.1 L134.7,626.2 L133.8,623.1 L133.4,620.0 L133.4,616.8 L133.7,613.7 L134.3,610.6 L135.2,607.6 L136.5,604.7 L138.5,602.3 L140.9,600.3 L143.6,598.9 L146.4,598.0 L149.3,597.5 L152.2,597.1 L155.1,597.1 L158.1,597.5 L161.0,598.4 L163.8,599.9 L166.2,602.0 L168.2,604.5 L169.9,607.3 L171.1,610.3 L171.9,613.5Z" fill="none" stroke="#7a7a7a" stroke-width="0.65"/><path d="M173.4,616.7 L172.5,620.1 L171.5,623.3 L170.2,626.3 L168.7,629.3 L166.8,632.0 L164.5,634.4 L161.8,636.4 L158.8,637.9 L155.7,639.0 L152.4,639.7 L148.9,639.8 L145.4,639.3 L142.2,637.9 L139.3,635.7 L137.0,633.0 L135.3,629.9 L133.9,626.7 L132.8,623.4 L132.0,620.1 L131.5,616.7 L131.5,613.2 L132.2,609.8 L133.5,606.5 L135.4,603.6 L137.6,601.1 L140.1,598.8 L142.8,596.9 L145.8,595.4 L149.0,594.4 L152.4,594.1 L155.7,594.5 L158.9,595.4 L162.0,596.7 L165.0,598.3 L167.8,600.3 L170.3,602.9 L172.2,606.0 L173.4,609.5 L173.7,613.1Z" fill="none" stroke="#7a7a7a" stroke-width="0.65"/><path d="M151.0,615.4 Q151.6,604.2 148.8,593.9" fill="none" stroke="#3a3a3a" stroke-width="0.7"/><path d="M153.8,615.7 Q163.6,610.3 170.8,604.0" fill="none" stroke="#3a3a3a" stroke-width="0.7"/><path d="M153.2,617.9 Q164.3,620.7 174.5,622.4" fill="none" stroke="#3a3a3a" stroke-width="0.7"/><path d="M152.7,620.0 Q157.9,628.3 163.4,636.5" fill="none" stroke="#3a3a3a" stroke-width="0.7"/><path d="M150.4,619.2 Q146.3,626.7 142.5,636.0" fill="none" stroke="#3a3a3a" stroke-width="0.7"/><path d="M148.3,617.9 Q140.4,617.8 131.1,620.4" fill="none" stroke="#3a3a3a" stroke-width="0.7"/><path d="M148.0,615.1 Q142.6,608.2 134.4,603.7" fill="none" stroke="#3a3a3a" stroke-width="0.7"/><path d="M160.7,638.4 A23.2,23.2 0 0 1 139.5,597.6" fill="none" stroke="#1c1c1c" stroke-width="2.5" stroke-linecap="round"/><path d="M174.3,607.9 A23.2,23.2 0 0 1 174.9,623.8" fill="none" stroke="#1c1c1c" stroke-width="1.8" stroke-linecap="round"/><path d="M138.7,598.6 A22.9,22.9 0 0 1 149.6,593.9" fill="none" stroke="#1c1c1c" stroke-width="1.3" stroke-linecap="round"/><path d="M133.3,606.6 l4,-3.5 l1.5,2.5 l3.5,-4.5 l2.5,1.5 l2,-4" fill="none" stroke="#1c1c1c" stroke-width="0.8"/></g>
<g id="shackle"><path d="M223.4,608.9 A8.6,11.5 0 1 1 223.4,626.0" fill="none" stroke="#333333" stroke-width="4.4"/><polygon points="203.6,607.3 218.1,607.3 221.9,605.4 223.8,609.5 219.9,612.1 203.6,612.1" fill="#333333"/><polygon points="204.1,622.1 219.2,622.1 224.2,625.4 222.7,630.1 218.1,627.1 204.1,627.1" fill="#333333"/><rect x="206.6" y="607.3" width="5.6" height="24.9" fill="#333333"/><rect x="203.8" y="622.1" width="8.4" height="8.1" rx="1.5" fill="#333333"/><circle cx="209.4" cy="632.8" r="3.1" fill="#333333"/><circle cx="209.4" cy="633.1" r="1.25" fill="#fff"/></g>
<g id="snatch"><path d="M258.99,601.52 A17.8,17.8 0 1 1 258.53,630.46 Q257.1,629.0 255.4,628.0 L235.3,628.0 L234.7,605.9 L254.3,605.9 Q257.1,604.6 258.99,601.52 Z" fill="#fff" stroke="#1c1c1c" stroke-width="1.4" stroke-linejoin="round"/><circle cx="269.1" cy="616.2" r="10.2" fill="#333333"/><circle cx="238.0" cy="617.2" r="7.4" fill="none" stroke="#1c1c1c" stroke-width="0.6"/><ellipse cx="230.4" cy="617.2" rx="5.2" ry="8.4" fill="none" stroke="#1c1c1c" stroke-width="1.1"/></g>
<g id="hook"><circle cx="657.1" cy="639.6" r="5.3" fill="#fff" stroke="#333333" stroke-width="3.1"/><path d="M663.5,641.0 Q668.9,642.1 672.4,647.9 Q678.9,651.1 685.9,649.2 Q688.9,642.3 686.9,634.2 Q681.6,630.4 676.4,629.6" fill="none" stroke="#333333" stroke-width="5.0" stroke-linecap="round"/><polygon points="673.2,627.9 677.8,627.2 677.3,632.1" fill="#333333"/><line x1="667.1" y1="636.5" x2="676.4" y2="635.0" stroke="#333333" stroke-width="0.8"/><circle cx="667.3" cy="637.8" r="1.3" fill="#ddd" stroke="#333333" stroke-width="0.6"/></g>
<g id="shackleR"><path d="M694.1,645.0 A8.2,9.4 0 1 1 694.1,630.6" fill="none" stroke="#333333" stroke-width="4.3"/><rect x="699.6" y="629.2" width="7.3" height="17.2" rx="1" fill="#333333"/><polygon points="688.9,624.6 694.5,627.2 699.8,629.2 699.8,634.5 694.5,633.7 690.7,631.3" fill="#333333"/><polygon points="689.1,650.9 695.0,648.5 699.8,646.3 699.8,641.4 694.5,642.1 691.0,644.2" fill="#333333"/><rect x="700.3" y="624.4" width="4.8" height="6" fill="#333333"/><circle cx="702.7" cy="624.4" r="3" fill="#333333"/><circle cx="702.7" cy="624.4" r="1.3" fill="#fff"/></g></defs>
<g id="sec2">
<line x1="284" y1="604.7" x2="707" y2="609" stroke="#222" stroke-width="1.5"/>
<line x1="282" y1="631" x2="651" y2="639.4" stroke="#222" stroke-width="1.5"/>
<use href="#anchor"/>
<use href="#snatch"/>
<use href="#shackle"/>
<use href="#shackleR"/>
<use href="#hook"/>
<text x="41.18" y="575.02" font-size="15.77" font-weight="bold" fill="#141414" stroke="#141414" stroke-width="0.95" stroke-linejoin="round" textLength="78.85" lengthAdjust="spacingAndGlyphs">Tree Anchor</text>
<polyline points="80.0,579.0 80.0,605.4" fill="none" stroke="#141414" stroke-width="2.0" stroke-linejoin="miter"/><line x1="80.0" y1="605.4" x2="134.5" y2="605.4" stroke="#141414" stroke-width="2.1"/><polygon points="143.1,605.4 130.5,612.4 134.5,605.4 130.5,598.4" fill="#141414"/>
<text x="75.57" y="661.42" font-size="15.77" font-weight="bold" fill="#141414" stroke="#141414" stroke-width="0.95" stroke-linejoin="round" textLength="66.35" lengthAdjust="spacingAndGlyphs">Tree Strap</text>
<polyline points="80.0,647.0 80.0,621.2" fill="none" stroke="#141414" stroke-width="2.0" stroke-linejoin="miter"/><line x1="80.0" y1="621.2" x2="113.4" y2="621.2" stroke="#141414" stroke-width="2.1"/><polygon points="122.0,621.2 109.4,628.2 113.4,621.2 109.4,614.2" fill="#141414"/>
<text x="190.97" y="539.52" font-size="15.77" font-weight="bold" fill="#141414" stroke="#141414" stroke-width="0.95" stroke-linejoin="round" textLength="43.05" lengthAdjust="spacingAndGlyphs">D-Ring</text>
<text x="190.77" y="559.23" font-size="15.77" font-weight="bold" fill="#141414" stroke="#141414" stroke-width="0.95" stroke-linejoin="round" textLength="52.85" lengthAdjust="spacingAndGlyphs">Shackle</text>
<text x="256.68" y="539.52" font-size="15.77" font-weight="bold" fill="#141414" stroke="#141414" stroke-width="0.95" stroke-linejoin="round" textLength="45.05" lengthAdjust="spacingAndGlyphs">Snatch</text>
<text x="256.88" y="559.23" font-size="15.77" font-weight="bold" fill="#141414" stroke="#141414" stroke-width="0.95" stroke-linejoin="round" textLength="36.95" lengthAdjust="spacingAndGlyphs">Block</text>
<line x1="269.1" y1="561.8" x2="269.1" y2="588.2" stroke="#141414" stroke-width="2.1"/><polygon points="269.1,596.8 262.1,584.2 269.1,588.2 276.1,584.2" fill="#141414"/>
<text x="352.78" y="596.82" font-size="15.77" font-weight="bold" fill="#141414" stroke="#141414" stroke-width="0.95" stroke-linejoin="round" textLength="82.75" lengthAdjust="spacingAndGlyphs">Winch Cable</text>
<text x="627.78" y="684.92" font-size="15.77" font-weight="bold" fill="#141414" stroke="#141414" stroke-width="0.95" stroke-linejoin="round" textLength="39.95" lengthAdjust="spacingAndGlyphs">Winch</text>
<text x="633.88" y="704.23" font-size="15.77" font-weight="bold" fill="#141414" stroke="#141414" stroke-width="0.95" stroke-linejoin="round" textLength="32.15" lengthAdjust="spacingAndGlyphs">Hook</text>
<line x1="649.5" y1="673.3" x2="651.6" y2="659.3" stroke="#141414" stroke-width="2.1"/><polygon points="652.8,650.8 657.9,664.3 651.6,659.3 644.0,662.3" fill="#141414"/>
<text x="678.28" y="684.92" font-size="15.77" font-weight="bold" fill="#141414" stroke="#141414" stroke-width="0.95" stroke-linejoin="round" textLength="42.75" lengthAdjust="spacingAndGlyphs">D-Ring</text>
<text x="677.88" y="704.23" font-size="15.77" font-weight="bold" fill="#141414" stroke="#141414" stroke-width="0.95" stroke-linejoin="round" textLength="52.65" lengthAdjust="spacingAndGlyphs">Shackle</text>
<line x1="694.0" y1="672.4" x2="694.0" y2="658.1" stroke="#141414" stroke-width="2.1"/><polygon points="694.0,649.5 701.0,662.1 694.0,658.1 687.0,662.1" fill="#141414"/>
</g>
<g id="sec3">
<line x1="281" y1="807.2" x2="701" y2="810.5" stroke="#222" stroke-width="1.5"/>
<line x1="280" y1="832.7" x2="622.5" y2="837.6" stroke="#222" stroke-width="1.5"/>
<line x1="255" y1="902.9" x2="625" y2="855.8" stroke="#222" stroke-width="1.5"/>
<g transform="translate(-6,202.4)"><use href="#anchor"/><use href="#snatch"/><use href="#shackle"/></g>
<g transform="translate(-8.8,285.4)"><use href="#anchor"/><use href="#shackle"/></g>
<g transform="translate(905.47,1542.58) scale(-1,-1)"><use href="#hook"/></g>
<g transform="translate(909.62,228.45) scale(-1,1) rotate(3 269.12 616.15)"><use href="#snatch"/></g>
<g transform="translate(-10.97,207.15)"><use href="#shackleR"/></g>
<text x="41.28" y="782.12" font-size="15.77" font-weight="bold" fill="#141414" stroke="#141414" stroke-width="0.95" stroke-linejoin="round" textLength="66.55" lengthAdjust="spacingAndGlyphs">Tree Strap</text>
<polyline points="72.6,786.0 72.6,812.0" fill="none" stroke="#141414" stroke-width="2.0" stroke-linejoin="miter"/><line x1="72.6" y1="812.0" x2="107.1" y2="812.0" stroke="#141414" stroke-width="2.1"/><polygon points="115.7,812.0 103.1,819.0 107.1,812.0 103.1,805.0" fill="#141414"/>
<text x="29.68" y="867.12" font-size="15.77" font-weight="bold" fill="#141414" stroke="#141414" stroke-width="0.95" stroke-linejoin="round" textLength="78.95" lengthAdjust="spacingAndGlyphs">Tree Anchor</text>
<polyline points="68.2,871.4 68.2,896.8" fill="none" stroke="#141414" stroke-width="2.0" stroke-linejoin="miter"/><line x1="68.2" y1="896.8" x2="123.9" y2="896.8" stroke="#141414" stroke-width="2.1"/><polygon points="132.5,896.8 119.9,903.8 123.9,896.8 119.9,889.8" fill="#141414"/>
<text x="64.28" y="953.82" font-size="15.77" font-weight="bold" fill="#141414" stroke="#141414" stroke-width="0.95" stroke-linejoin="round" textLength="66.35" lengthAdjust="spacingAndGlyphs">Tree Strap</text>
<polyline points="68.3,939.2 68.3,913.2" fill="none" stroke="#141414" stroke-width="2.0" stroke-linejoin="miter"/><line x1="68.3" y1="913.2" x2="103.4" y2="913.2" stroke="#141414" stroke-width="2.1"/><polygon points="112.0,913.2 99.4,920.2 103.4,913.2 99.4,906.2" fill="#141414"/>
<text x="184.88" y="740.32" font-size="15.77" font-weight="bold" fill="#141414" stroke="#141414" stroke-width="0.95" stroke-linejoin="round" textLength="43.25" lengthAdjust="spacingAndGlyphs">D-Ring</text>
<text x="184.47" y="760.12" font-size="15.77" font-weight="bold" fill="#141414" stroke="#141414" stroke-width="0.95" stroke-linejoin="round" textLength="52.85" lengthAdjust="spacingAndGlyphs">Shackle</text>
<line x1="209.9" y1="764.4" x2="209.9" y2="792.8" stroke="#141414" stroke-width="2.1"/><polygon points="209.9,801.4 202.9,788.8 209.9,792.8 216.9,788.8" fill="#141414"/>
<text x="250.77" y="740.32" font-size="15.77" font-weight="bold" fill="#141414" stroke="#141414" stroke-width="0.95" stroke-linejoin="round" textLength="45.05" lengthAdjust="spacingAndGlyphs">Snatch</text>
<text x="250.97" y="760.12" font-size="15.77" font-weight="bold" fill="#141414" stroke="#141414" stroke-width="0.95" stroke-linejoin="round" textLength="36.65" lengthAdjust="spacingAndGlyphs">Block</text>
<line x1="263.0" y1="762.7" x2="263.0" y2="788.6" stroke="#141414" stroke-width="2.1"/><polygon points="263.0,797.2 256.0,784.6 263.0,788.6 270.0,784.6" fill="#141414"/>
<text x="323.18" y="855.02" font-size="15.77" font-weight="bold" fill="#141414" stroke="#141414" stroke-width="0.95" stroke-linejoin="round" textLength="82.75" lengthAdjust="spacingAndGlyphs">Winch Cable</text>
<text x="173.67" y="979.23" font-size="15.77" font-weight="bold" fill="#141414" stroke="#141414" stroke-width="0.95" stroke-linejoin="round" textLength="43.65" lengthAdjust="spacingAndGlyphs">D-Ring</text>
<text x="173.07" y="998.12" font-size="15.77" font-weight="bold" fill="#141414" stroke="#141414" stroke-width="0.95" stroke-linejoin="round" textLength="52.45" lengthAdjust="spacingAndGlyphs">Shackle</text>
<line x1="199.5" y1="962.5" x2="199.5" y2="934.1" stroke="#141414" stroke-width="2.1"/><polygon points="199.5,925.5 206.5,938.1 199.5,934.1 192.5,938.1" fill="#141414"/>
<text x="234.57" y="979.23" font-size="15.77" font-weight="bold" fill="#141414" stroke="#141414" stroke-width="0.95" stroke-linejoin="round" textLength="40.15" lengthAdjust="spacingAndGlyphs">Winch</text>
<text x="234.57" y="998.12" font-size="15.77" font-weight="bold" fill="#141414" stroke="#141414" stroke-width="0.95" stroke-linejoin="round" textLength="31.95" lengthAdjust="spacingAndGlyphs">Hook</text>
<line x1="244.7" y1="958.4" x2="244.7" y2="920.5" stroke="#141414" stroke-width="2.1"/><polygon points="244.7,911.9 251.7,924.5 244.7,920.5 237.7,924.5" fill="#141414"/>
<text x="617.88" y="905.23" font-size="15.77" font-weight="bold" fill="#141414" stroke="#141414" stroke-width="0.95" stroke-linejoin="round" textLength="44.95" lengthAdjust="spacingAndGlyphs">Snatch</text>
<text x="620.08" y="924.52" font-size="15.77" font-weight="bold" fill="#141414" stroke="#141414" stroke-width="0.95" stroke-linejoin="round" textLength="37.05" lengthAdjust="spacingAndGlyphs">Block</text>
<line x1="640.5" y1="887.4" x2="640.5" y2="872.6" stroke="#141414" stroke-width="2.1"/><polygon points="640.5,864.0 647.5,876.6 640.5,872.6 633.5,876.6" fill="#141414"/>
<text x="672.38" y="906.62" font-size="15.77" font-weight="bold" fill="#141414" stroke="#141414" stroke-width="0.95" stroke-linejoin="round" textLength="42.85" lengthAdjust="spacingAndGlyphs">D-Ring</text>
<text x="672.08" y="926.02" font-size="15.77" font-weight="bold" fill="#141414" stroke="#141414" stroke-width="0.95" stroke-linejoin="round" textLength="52.65" lengthAdjust="spacingAndGlyphs">Shackle</text>
<line x1="691.3" y1="890.3" x2="691.3" y2="865.2" stroke="#141414" stroke-width="2.1"/><polygon points="691.3,856.6 698.3,869.2 691.3,865.2 684.3,869.2" fill="#141414"/>
</g>
</svg>
</body></html>
